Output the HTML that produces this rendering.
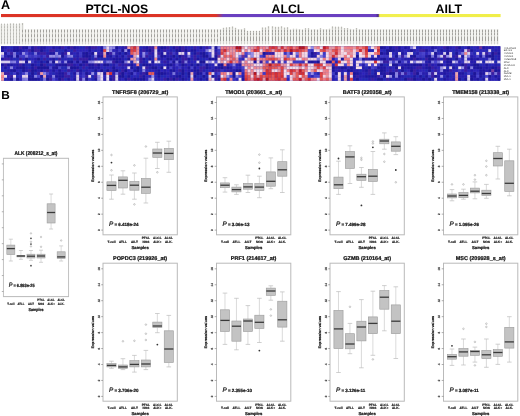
<!DOCTYPE html>
<html><head><meta charset="utf-8"><title>Figure</title>
<style>html,body{margin:0;padding:0;background:#fff;}body{width:520px;height:416px;overflow:hidden;}svg{display:block;font-family:"Liberation Sans", sans-serif;will-change:transform;text-rendering:geometricPrecision;filter:blur(0.3px);}</style>
</head><body>
<svg width="520" height="416" viewBox="0 0 520 416">
<defs><filter id="hb" x="-2%" y="-10%" width="104%" height="120%"><feGaussianBlur stdDeviation="0.35"/></filter></defs>
<rect width="520" height="416" fill="#ffffff"/>
<text x="1.0" y="8.8" font-size="12.6" font-weight="bold" fill="#000">A</text>
<defs><linearGradient id="lg" x1="0" x2="1" y1="0" y2="0"><stop offset="0" stop-color="#dc3426"/><stop offset="0.43" stop-color="#dc3426"/><stop offset="0.445" stop-color="#6a40c0"/><stop offset="0.75" stop-color="#6a40c0"/><stop offset="0.755" stop-color="#4a2a80"/><stop offset="0.758" stop-color="#f2f050"/><stop offset="1" stop-color="#f0ee48"/></linearGradient></defs>
<rect x="1" y="14" width="499.6" height="3.1" fill="url(#lg)"/>
<text x="85.4" y="13.4" font-size="12.3" font-weight="bold" fill="#000">PTCL-NOS</text>
<text x="271.5" y="13.4" font-size="12.3" font-weight="bold" fill="#000">ALCL</text>
<text x="435.6" y="13.4" font-size="12.3" font-weight="bold" fill="#000">AILT</text>
<path d="M1.50 24.30V44.3M4.50 24.30V44.3M7.50 24.30V44.3M10.50 23.50V44.3M13.50 23.50V44.3M16.50 24.30V44.3M19.50 23.50V44.3M22.50 23.00V44.3M25.50 29.30V44.3M28.50 29.30V44.3M31.50 29.30V44.3M34.50 29.30V44.3M37.50 29.30V44.3M40.50 29.30V44.3M43.50 29.30V44.3M46.50 29.30V44.3M49.50 29.30V44.3M52.50 29.30V44.3M55.50 29.30V44.3M58.50 29.30V44.3M61.50 29.30V44.3M64.50 29.30V44.3M67.50 29.30V44.3M70.50 29.30V44.3M73.50 29.30V44.3M76.50 29.30V44.3M79.50 29.30V44.3M82.50 29.30V44.3M85.50 29.30V44.3M88.50 29.30V44.3M91.50 29.30V44.3M94.50 29.30V44.3M97.50 29.30V44.3M100.50 29.30V44.3M103.50 29.30V44.3M106.50 29.30V44.3M109.50 29.30V44.3M112.50 29.30V44.3M115.50 29.30V44.3M118.50 29.30V44.3M121.50 29.30V44.3M124.50 29.30V44.3M127.50 29.30V44.3M130.50 29.30V44.3M133.50 29.30V44.3M136.50 29.30V44.3M139.50 29.30V44.3M142.50 29.30V44.3M145.50 29.30V44.3M148.50 29.30V44.3M151.50 29.30V44.3M154.50 29.30V44.3M157.50 29.30V44.3M160.50 29.30V44.3M163.50 29.30V44.3M166.50 29.30V44.3M169.50 29.30V44.3M172.50 29.30V44.3M175.50 29.30V44.3M178.50 29.30V44.3M181.50 29.30V44.3M184.50 29.30V44.3M187.50 29.30V44.3M190.50 29.30V44.3M193.50 29.30V44.3M196.50 29.30V44.3M199.50 29.30V44.3M202.50 29.30V44.3M205.50 29.30V44.3M208.50 29.30V44.3M211.50 29.30V44.3M214.50 29.30V44.3M217.50 29.30V44.3M220.50 29.30V44.3M223.50 27.80V44.3M226.50 27.40V44.3M229.50 27.00V44.3M232.50 26.50V44.3M235.50 27.80V44.3M238.50 29.10V44.3M241.50 29.10V44.3M244.50 28.30V44.3M247.50 30.80V44.3M250.50 30.80V44.3M253.50 30.80V44.3M256.50 30.80V44.3M259.50 30.80V44.3M262.50 27.50V44.3M265.50 27.50V44.3M268.50 26.30V44.3M272.50 26.30V44.3M275.50 26.80V44.3M278.50 26.80V44.3M281.50 26.30V44.3M284.50 27.60V44.3M287.50 27.20V44.3M290.50 29.50V44.3M293.50 28.70V44.3M296.50 28.70V44.3M299.50 29.10V44.3M302.50 29.50V44.3M305.50 28.20V44.3M308.50 28.20V44.3M311.50 29.50V44.3M314.50 29.10V44.3M317.50 29.50V44.3M320.50 28.20V44.3M323.50 29.10V44.3M326.50 29.10V44.3M329.50 28.70V44.3M332.50 26.40V44.3M335.50 26.70V44.3M338.50 26.70V44.3M341.50 26.70V44.3M344.50 28.00V44.3M347.50 28.00V44.3M350.50 28.90V44.3M353.50 29.30V44.3M356.50 28.00V44.3M359.50 29.30V44.3M362.50 29.30V44.3M365.50 29.30V44.3M368.50 29.30V44.3M371.50 29.30V44.3M374.50 29.30V44.3M377.50 29.30V44.3M380.50 29.30V44.3M383.50 29.30V44.3M386.50 29.30V44.3M389.50 29.30V44.3M392.50 29.30V44.3M395.50 29.30V44.3M398.50 29.30V44.3M401.50 29.30V44.3M404.50 29.30V44.3M407.50 29.30V44.3M410.50 29.30V44.3M413.50 29.30V44.3M416.50 29.30V44.3M419.50 29.30V44.3M422.50 29.30V44.3M425.50 29.30V44.3M428.50 29.30V44.3M431.50 29.30V44.3M434.50 29.30V44.3M437.50 29.30V44.3M440.50 29.30V44.3M443.50 29.30V44.3M446.50 29.30V44.3M449.50 29.30V44.3M452.50 29.30V44.3M455.50 29.30V44.3M458.50 29.30V44.3M461.50 29.30V44.3M464.50 29.30V44.3M467.50 29.30V44.3M470.50 29.30V44.3M473.50 29.30V44.3M476.50 29.30V44.3M479.50 29.30V44.3M482.50 29.30V44.3M485.50 29.30V44.3M488.50 29.30V44.3M491.50 29.30V44.3M494.50 29.30V44.3M497.50 29.30V44.3" stroke="#f2f2ee" stroke-width="2.6" fill="none"/>
<path d="M1.50 24.30V44.3M4.50 24.30V44.3M7.50 24.30V44.3M10.50 23.50V44.3M13.50 23.50V44.3M16.50 24.30V44.3M19.50 23.50V44.3M22.50 23.00V44.3M25.50 29.30V44.3M28.50 29.30V44.3M31.50 29.30V44.3M34.50 29.30V44.3M37.50 29.30V44.3M40.50 29.30V44.3M43.50 29.30V44.3M46.50 29.30V44.3M49.50 29.30V44.3M52.50 29.30V44.3M55.50 29.30V44.3M58.50 29.30V44.3M61.50 29.30V44.3M64.50 29.30V44.3M67.50 29.30V44.3M70.50 29.30V44.3M73.50 29.30V44.3M76.50 29.30V44.3M79.50 29.30V44.3M82.50 29.30V44.3M85.50 29.30V44.3M88.50 29.30V44.3M91.50 29.30V44.3M94.50 29.30V44.3M97.50 29.30V44.3M100.50 29.30V44.3M103.50 29.30V44.3M106.50 29.30V44.3M109.50 29.30V44.3M112.50 29.30V44.3M115.50 29.30V44.3M118.50 29.30V44.3M121.50 29.30V44.3M124.50 29.30V44.3M127.50 29.30V44.3M130.50 29.30V44.3M133.50 29.30V44.3M136.50 29.30V44.3M139.50 29.30V44.3M142.50 29.30V44.3M145.50 29.30V44.3M148.50 29.30V44.3M151.50 29.30V44.3M154.50 29.30V44.3M157.50 29.30V44.3M160.50 29.30V44.3M163.50 29.30V44.3M166.50 29.30V44.3M169.50 29.30V44.3M172.50 29.30V44.3M175.50 29.30V44.3M178.50 29.30V44.3M181.50 29.30V44.3M184.50 29.30V44.3M187.50 29.30V44.3M190.50 29.30V44.3M193.50 29.30V44.3M196.50 29.30V44.3M199.50 29.30V44.3M202.50 29.30V44.3M205.50 29.30V44.3M208.50 29.30V44.3M211.50 29.30V44.3M214.50 29.30V44.3M217.50 29.30V44.3M220.50 29.30V44.3M223.50 27.80V44.3M226.50 27.40V44.3M229.50 27.00V44.3M232.50 26.50V44.3M235.50 27.80V44.3M238.50 29.10V44.3M241.50 29.10V44.3M244.50 28.30V44.3M247.50 30.80V44.3M250.50 30.80V44.3M253.50 30.80V44.3M256.50 30.80V44.3M259.50 30.80V44.3M262.50 27.50V44.3M265.50 27.50V44.3M268.50 26.30V44.3M272.50 26.30V44.3M275.50 26.80V44.3M278.50 26.80V44.3M281.50 26.30V44.3M284.50 27.60V44.3M287.50 27.20V44.3M290.50 29.50V44.3M293.50 28.70V44.3M296.50 28.70V44.3M299.50 29.10V44.3M302.50 29.50V44.3M305.50 28.20V44.3M308.50 28.20V44.3M311.50 29.50V44.3M314.50 29.10V44.3M317.50 29.50V44.3M320.50 28.20V44.3M323.50 29.10V44.3M326.50 29.10V44.3M329.50 28.70V44.3M332.50 26.40V44.3M335.50 26.70V44.3M338.50 26.70V44.3M341.50 26.70V44.3M344.50 28.00V44.3M347.50 28.00V44.3M350.50 28.90V44.3M353.50 29.30V44.3M356.50 28.00V44.3M359.50 29.30V44.3M362.50 29.30V44.3M365.50 29.30V44.3M368.50 29.30V44.3M371.50 29.30V44.3M374.50 29.30V44.3M377.50 29.30V44.3M380.50 29.30V44.3M383.50 29.30V44.3M386.50 29.30V44.3M389.50 29.30V44.3M392.50 29.30V44.3M395.50 29.30V44.3M398.50 29.30V44.3M401.50 29.30V44.3M404.50 29.30V44.3M407.50 29.30V44.3M410.50 29.30V44.3M413.50 29.30V44.3M416.50 29.30V44.3M419.50 29.30V44.3M422.50 29.30V44.3M425.50 29.30V44.3M428.50 29.30V44.3M431.50 29.30V44.3M434.50 29.30V44.3M437.50 29.30V44.3M440.50 29.30V44.3M443.50 29.30V44.3M446.50 29.30V44.3M449.50 29.30V44.3M452.50 29.30V44.3M455.50 29.30V44.3M458.50 29.30V44.3M461.50 29.30V44.3M464.50 29.30V44.3M467.50 29.30V44.3M470.50 29.30V44.3M473.50 29.30V44.3M476.50 29.30V44.3M479.50 29.30V44.3M482.50 29.30V44.3M485.50 29.30V44.3M488.50 29.30V44.3M491.50 29.30V44.3M494.50 29.30V44.3M497.50 29.30V44.3" stroke="#d2d2ce" stroke-width="1.0" fill="none"/>
<path d="M1.50 23.6V25.2M1.50 26.2V28.0M1.50 29.2V31.2M1.50 32.6V34.6M1.50 35.6V37.6M1.50 38.6V40.6M1.50 41.6V43.4M4.50 23.6V25.2M4.50 26.2V28.0M4.50 29.2V31.2M4.50 32.6V34.6M4.50 35.6V37.6M4.50 38.6V40.6M4.50 41.6V43.4M7.50 23.6V25.2M7.50 26.2V28.0M7.50 29.2V31.2M7.50 32.6V34.6M7.50 35.6V37.6M7.50 38.6V40.6M7.50 41.6V43.4M10.50 23.6V25.2M10.50 26.2V28.0M10.50 29.2V31.2M10.50 32.6V34.6M10.50 35.6V37.6M10.50 38.6V40.6M10.50 41.6V43.4M13.50 23.6V25.2M13.50 26.2V28.0M13.50 29.2V31.2M13.50 32.6V34.6M13.50 35.6V37.6M13.50 38.6V40.6M13.50 41.6V43.4M16.50 23.6V25.2M16.50 26.2V28.0M16.50 29.2V31.2M16.50 32.6V34.6M16.50 35.6V37.6M16.50 38.6V40.6M16.50 41.6V43.4M19.50 23.6V25.2M19.50 26.2V28.0M19.50 29.2V31.2M19.50 32.6V34.6M19.50 35.6V37.6M19.50 38.6V40.6M19.50 41.6V43.4M22.50 23.20V25.00M223.50 28.00V29.30M226.50 27.60V29.30M229.50 27.20V29.00M232.50 26.70V28.50M235.50 28.00V29.30M244.50 28.50V29.30M262.50 27.70V29.30M265.50 27.70V29.30M268.50 26.50V28.30M272.50 26.50V28.30M275.50 27.00V28.80M278.50 27.00V28.80M281.50 26.50V28.30M284.50 27.80V29.30M287.50 27.40V29.20M305.50 28.40V29.30M308.50 28.40V29.30M320.50 28.40V29.30M332.50 26.60V28.40M335.50 26.90V28.70M338.50 26.90V28.70M341.50 26.90V28.70M344.50 28.20V29.30M347.50 28.20V29.30M356.50 28.20V29.30" stroke="#b4b4ae" stroke-width="0.8" fill="none"/>
<path d="M22.50 29.8V32.3M22.50 34.3V37.0M22.50 38.9V41.6M25.50 29.8V32.3M25.50 34.3V37.0M25.50 38.9V41.6M28.50 29.8V32.3M28.50 34.3V37.0M28.50 38.9V41.6M31.50 29.8V32.3M31.50 34.3V37.0M31.50 38.9V41.6M34.50 29.8V32.3M34.50 34.3V37.0M34.50 38.9V41.6M37.50 29.8V32.3M37.50 34.3V37.0M37.50 38.9V41.6M40.50 29.8V32.3M40.50 34.3V37.0M40.50 38.9V41.6M43.50 29.8V32.3M43.50 34.3V37.0M43.50 38.9V41.6M46.50 29.8V32.3M46.50 34.3V37.0M46.50 38.9V41.6M49.50 29.8V32.3M49.50 34.3V37.0M49.50 38.9V41.6M52.50 29.8V32.3M52.50 34.3V37.0M52.50 38.9V41.6M55.50 29.8V32.3M55.50 34.3V37.0M55.50 38.9V41.6M58.50 29.8V32.3M58.50 34.3V37.0M58.50 38.9V41.6M61.50 29.8V32.3M61.50 34.3V37.0M61.50 38.9V41.6M64.50 29.8V32.3M64.50 34.3V37.0M64.50 38.9V41.6M67.50 29.8V32.3M67.50 34.3V37.0M67.50 38.9V41.6M70.50 29.8V32.3M70.50 34.3V37.0M70.50 38.9V41.6M73.50 29.8V32.3M73.50 34.3V37.0M73.50 38.9V41.6M76.50 29.8V32.3M76.50 34.3V37.0M76.50 38.9V41.6M79.50 29.8V32.3M79.50 34.3V37.0M79.50 38.9V41.6M82.50 29.8V32.3M82.50 34.3V37.0M82.50 38.9V41.6M85.50 29.8V32.3M85.50 34.3V37.0M85.50 38.9V41.6M88.50 29.8V32.3M88.50 34.3V37.0M88.50 38.9V41.6M91.50 29.8V32.3M91.50 34.3V37.0M91.50 38.9V41.6M94.50 29.8V32.3M94.50 34.3V37.0M94.50 38.9V41.6M97.50 29.8V32.3M97.50 34.3V37.0M97.50 38.9V41.6M100.50 29.8V32.3M100.50 34.3V37.0M100.50 38.9V41.6M103.50 29.8V32.3M103.50 34.3V37.0M103.50 38.9V41.6M106.50 29.8V32.3M106.50 34.3V37.0M106.50 38.9V41.6M109.50 29.8V32.3M109.50 34.3V37.0M109.50 38.9V41.6M112.50 29.8V32.3M112.50 34.3V37.0M112.50 38.9V41.6M115.50 29.8V32.3M115.50 34.3V37.0M115.50 38.9V41.6M118.50 29.8V32.3M118.50 34.3V37.0M118.50 38.9V41.6M121.50 29.8V32.3M121.50 34.3V37.0M121.50 38.9V41.6M124.50 29.8V32.3M124.50 34.3V37.0M124.50 38.9V41.6M127.50 29.8V32.3M127.50 34.3V37.0M127.50 38.9V41.6M130.50 29.8V32.3M130.50 34.3V37.0M130.50 38.9V41.6M133.50 29.8V32.3M133.50 34.3V37.0M133.50 38.9V41.6M136.50 29.8V32.3M136.50 34.3V37.0M136.50 38.9V41.6M139.50 29.8V32.3M139.50 34.3V37.0M139.50 38.9V41.6M142.50 29.8V32.3M142.50 34.3V37.0M142.50 38.9V41.6M145.50 29.8V32.3M145.50 34.3V37.0M145.50 38.9V41.6M148.50 29.8V32.3M148.50 34.3V37.0M148.50 38.9V41.6M151.50 29.8V32.3M151.50 34.3V37.0M151.50 38.9V41.6M154.50 29.8V32.3M154.50 34.3V37.0M154.50 38.9V41.6M157.50 29.8V32.3M157.50 34.3V37.0M157.50 38.9V41.6M160.50 29.8V32.3M160.50 34.3V37.0M160.50 38.9V41.6M163.50 29.8V32.3M163.50 34.3V37.0M163.50 38.9V41.6M166.50 29.8V32.3M166.50 34.3V37.0M166.50 38.9V41.6M169.50 29.8V32.3M169.50 34.3V37.0M169.50 38.9V41.6M172.50 29.8V32.3M172.50 34.3V37.0M172.50 38.9V41.6M175.50 29.8V32.3M175.50 34.3V37.0M175.50 38.9V41.6M178.50 29.8V32.3M178.50 34.3V37.0M178.50 38.9V41.6M181.50 29.8V32.3M181.50 34.3V37.0M181.50 38.9V41.6M184.50 29.8V32.3M184.50 34.3V37.0M184.50 38.9V41.6M187.50 29.8V32.3M187.50 34.3V37.0M187.50 38.9V41.6M190.50 29.8V32.3M190.50 34.3V37.0M190.50 38.9V41.6M193.50 29.8V32.3M193.50 34.3V37.0M193.50 38.9V41.6M196.50 29.8V32.3M196.50 34.3V37.0M196.50 38.9V41.6M199.50 29.8V32.3M199.50 34.3V37.0M199.50 38.9V41.6M202.50 29.8V32.3M202.50 34.3V37.0M202.50 38.9V41.6M205.50 29.8V32.3M205.50 34.3V37.0M205.50 38.9V41.6M208.50 29.8V32.3M208.50 34.3V37.0M208.50 38.9V41.6M211.50 29.8V32.3M211.50 34.3V37.0M211.50 38.9V41.6M214.50 29.8V32.3M214.50 34.3V37.0M214.50 38.9V41.6M217.50 29.8V32.3M217.50 34.3V37.0M217.50 38.9V41.6M220.50 29.9V32.4M220.50 33.1V35.0M220.50 36.6V41.0M223.50 29.9V32.4M223.50 33.1V35.0M223.50 36.6V41.0M226.50 29.9V32.4M226.50 33.1V35.0M226.50 36.6V41.0M229.50 29.9V32.4M229.50 33.1V35.0M229.50 36.6V41.0M232.50 29.9V32.4M232.50 33.1V35.0M232.50 36.6V41.0M235.50 29.9V32.4M235.50 33.1V35.0M235.50 36.6V41.0M238.50 29.9V32.4M238.50 33.1V35.0M238.50 36.6V41.0M241.50 29.9V32.4M241.50 33.1V35.0M241.50 36.6V41.0M244.50 29.9V32.4M244.50 33.1V35.0M244.50 36.6V41.0M247.50 31.10V32.4M247.50 33.1V35.0M247.50 36.6V41.0M250.50 31.10V32.4M250.50 33.1V35.0M250.50 36.6V41.0M253.50 31.10V32.4M253.50 33.1V35.0M253.50 36.6V41.0M256.50 31.10V32.4M256.50 33.1V35.0M256.50 36.6V41.0M259.50 31.10V32.4M259.50 33.1V35.0M259.50 36.6V41.0M262.50 29.9V32.4M262.50 33.1V35.0M262.50 36.6V41.0M265.50 29.9V32.4M265.50 33.1V35.0M265.50 36.6V41.0M268.50 29.9V32.4M268.50 33.1V35.0M268.50 36.6V41.0M272.50 29.9V32.4M272.50 33.1V35.0M272.50 36.6V41.0M275.50 29.9V32.4M275.50 33.1V35.0M275.50 36.6V41.0M278.50 29.9V32.4M278.50 33.1V35.0M278.50 36.6V41.0M281.50 29.9V32.4M281.50 33.1V35.0M281.50 36.6V41.0M284.50 29.9V32.4M284.50 33.1V35.0M284.50 36.6V41.0M287.50 29.9V32.4M287.50 33.1V35.0M287.50 36.6V41.0M290.50 29.9V32.4M290.50 33.1V35.0M290.50 36.6V41.0M293.50 29.9V32.4M293.50 33.1V35.0M293.50 36.6V41.0M296.50 29.9V32.4M296.50 33.1V35.0M296.50 36.6V41.0M299.50 29.9V32.4M299.50 33.1V35.0M299.50 36.6V41.0M302.50 29.9V32.4M302.50 33.1V35.0M302.50 36.6V41.0M305.50 29.9V32.4M305.50 33.1V35.0M305.50 36.6V41.0M308.50 29.9V32.4M308.50 33.1V35.0M308.50 36.6V41.0M311.50 29.9V32.4M311.50 33.1V35.0M311.50 36.6V41.0M314.50 29.9V32.4M314.50 33.1V35.0M314.50 36.6V41.0M317.50 29.9V32.4M317.50 33.1V35.0M317.50 36.6V41.0M320.50 29.9V32.4M320.50 33.1V35.0M320.50 36.6V41.0M323.50 29.9V32.4M323.50 33.1V35.0M323.50 36.6V41.0M326.50 29.9V32.4M326.50 33.1V35.0M326.50 36.6V41.0M329.50 29.9V32.4M329.50 33.1V35.0M329.50 36.6V41.0M332.50 29.9V32.4M332.50 33.1V35.0M332.50 36.6V41.0M335.50 29.9V32.4M335.50 33.1V35.0M335.50 36.6V41.0M338.50 29.9V32.4M338.50 33.1V35.0M338.50 36.6V41.0M341.50 29.9V32.4M341.50 33.1V35.0M341.50 36.6V41.0M344.50 29.9V32.4M344.50 33.1V35.0M344.50 36.6V41.0M347.50 29.9V32.4M347.50 33.1V35.0M347.50 36.6V41.0M350.50 29.9V32.4M350.50 33.1V35.0M350.50 36.6V41.0M353.50 29.9V32.4M353.50 33.1V35.0M353.50 36.6V41.0M356.50 29.9V32.4M356.50 33.1V35.0M356.50 36.6V41.0M359.50 29.9V32.4M359.50 33.1V35.0M359.50 36.6V41.0M362.50 29.9V32.4M362.50 33.1V35.0M362.50 36.6V41.0M365.50 29.9V32.4M365.50 33.1V35.0M365.50 36.6V41.0M368.50 29.9V32.4M368.50 33.1V35.0M368.50 36.6V41.0M371.50 29.9V32.4M371.50 33.1V35.0M371.50 36.6V41.0M374.50 29.9V32.4M374.50 33.1V35.0M374.50 36.6V41.0M377.50 29.9V32.4M377.50 33.1V35.0M377.50 36.6V41.0M380.50 29.9V32.4M380.50 33.1V35.0M380.50 36.6V41.0M383.50 29.9V32.4M383.50 33.1V35.0M383.50 36.6V41.0M386.50 29.9V32.4M386.50 33.1V35.0M386.50 36.6V41.0M389.50 29.9V32.4M389.50 33.1V35.0M389.50 36.6V41.0M392.50 29.9V32.4M392.50 33.1V35.0M392.50 36.6V41.0M395.50 29.9V32.4M395.50 33.1V35.0M395.50 36.6V41.0M398.50 29.9V32.4M398.50 33.1V35.0M398.50 36.6V41.0M401.50 29.9V32.4M401.50 33.1V35.0M401.50 36.6V41.0M404.50 29.9V32.4M404.50 33.1V35.0M404.50 36.6V41.0M407.50 29.9V32.4M407.50 33.1V35.0M407.50 36.6V41.0M410.50 29.9V32.4M410.50 33.1V35.0M410.50 36.6V41.0M413.50 29.9V32.4M413.50 33.1V35.0M413.50 36.6V41.0M416.50 29.9V32.4M416.50 33.1V35.0M416.50 36.6V41.0M419.50 29.9V32.4M419.50 33.1V35.0M419.50 36.6V41.0M422.50 29.9V32.4M422.50 33.1V35.0M422.50 36.6V41.0M425.50 29.9V32.4M425.50 33.1V35.0M425.50 36.6V41.0M428.50 29.9V32.4M428.50 33.1V35.0M428.50 36.6V41.0M431.50 29.9V32.4M431.50 33.1V35.0M431.50 36.6V41.0M434.50 29.9V32.4M434.50 33.1V35.0M434.50 36.6V41.0M437.50 29.9V32.4M437.50 33.1V35.0M437.50 36.6V41.0M440.50 29.9V32.4M440.50 33.1V35.0M440.50 36.6V41.0M443.50 29.9V32.4M443.50 33.1V35.0M443.50 36.6V41.0M446.50 29.9V32.4M446.50 33.1V35.0M446.50 36.6V41.0M449.50 29.9V32.4M449.50 33.1V35.0M449.50 36.6V41.0M452.50 29.9V32.4M452.50 33.1V35.0M452.50 36.6V41.0M455.50 29.9V32.4M455.50 33.1V35.0M455.50 36.6V41.0M458.50 29.9V32.4M458.50 33.1V35.0M458.50 36.6V41.0M461.50 29.9V32.4M461.50 33.1V35.0M461.50 36.6V41.0M464.50 29.9V32.4M464.50 33.1V35.0M464.50 36.6V41.0M467.50 29.9V32.4M467.50 33.1V35.0M467.50 36.6V41.0M470.50 29.9V32.4M470.50 33.1V35.0M470.50 36.6V41.0M473.50 29.9V32.4M473.50 33.1V35.0M473.50 36.6V41.0M476.50 29.9V32.4M476.50 33.1V35.0M476.50 36.6V41.0M479.50 29.9V32.4M479.50 33.1V35.0M479.50 36.6V41.0M482.50 29.9V32.4M482.50 33.1V35.0M482.50 36.6V41.0M485.50 29.9V32.4M485.50 33.1V35.0M485.50 36.6V41.0M488.50 29.9V32.4M488.50 33.1V35.0M488.50 36.6V41.0M491.50 29.9V32.4M491.50 33.1V35.0M491.50 36.6V41.0M494.50 29.9V32.4M494.50 33.1V35.0M494.50 36.6V41.0M497.50 29.9V32.4M497.50 33.1V35.0M497.50 36.6V41.0" stroke="#a09f9b" stroke-width="0.95" fill="none"/>
<g filter="url(#hb)">
<rect x="1.0" y="46.3" width="499.30" height="34.40" fill="#2a1e9c"/>
<rect x="1.00" y="46.30" width="3.06" height="2.92" fill="#1a1298"/>
<rect x="4.01" y="46.30" width="3.06" height="2.92" fill="#261cae"/>
<rect x="7.02" y="46.30" width="3.06" height="2.92" fill="#2c24ba"/>
<rect x="10.02" y="46.30" width="3.06" height="2.92" fill="#2226b4"/>
<rect x="13.03" y="46.30" width="3.06" height="2.92" fill="#1e16a2"/>
<rect x="16.04" y="46.30" width="3.06" height="2.92" fill="#1e16a2"/>
<rect x="19.05" y="46.30" width="3.06" height="2.92" fill="#381ca2"/>
<rect x="22.05" y="46.30" width="3.06" height="2.92" fill="#1e16a2"/>
<rect x="25.06" y="46.30" width="3.06" height="2.92" fill="#1a1298"/>
<rect x="28.07" y="46.30" width="3.06" height="2.92" fill="#4842ce"/>
<rect x="31.08" y="46.30" width="3.06" height="2.92" fill="#1e16a2"/>
<rect x="34.09" y="46.30" width="3.06" height="2.92" fill="#381ca2"/>
<rect x="37.09" y="46.30" width="3.06" height="2.92" fill="#261cae"/>
<rect x="40.10" y="46.30" width="3.06" height="2.92" fill="#1e16a2"/>
<rect x="43.11" y="46.30" width="3.06" height="2.92" fill="#1e16a2"/>
<rect x="46.12" y="46.30" width="3.06" height="2.92" fill="#2c24ba"/>
<rect x="49.13" y="46.30" width="3.06" height="2.92" fill="#2c24ba"/>
<rect x="52.13" y="46.30" width="3.06" height="2.92" fill="#1e16a2"/>
<rect x="55.14" y="46.30" width="3.06" height="2.92" fill="#261cae"/>
<rect x="58.15" y="46.30" width="3.06" height="2.92" fill="#1e16a2"/>
<rect x="61.16" y="46.30" width="3.06" height="2.92" fill="#381ca2"/>
<rect x="64.16" y="46.30" width="3.06" height="2.92" fill="#2c24ba"/>
<rect x="67.17" y="46.30" width="3.06" height="2.92" fill="#1e16a2"/>
<rect x="70.18" y="46.30" width="3.06" height="2.92" fill="#381ca2"/>
<rect x="73.19" y="46.30" width="3.06" height="2.92" fill="#1e16a2"/>
<rect x="76.20" y="46.30" width="3.06" height="2.92" fill="#261cae"/>
<rect x="79.20" y="46.30" width="3.06" height="2.92" fill="#2226b4"/>
<rect x="82.21" y="46.30" width="3.06" height="2.92" fill="#2226b4"/>
<rect x="85.22" y="46.30" width="3.06" height="2.92" fill="#381ca2"/>
<rect x="88.23" y="46.30" width="3.06" height="2.92" fill="#1e16a2"/>
<rect x="91.23" y="46.30" width="3.06" height="2.92" fill="#381ca2"/>
<rect x="94.24" y="46.30" width="3.06" height="2.92" fill="#381ca2"/>
<rect x="97.25" y="46.30" width="3.06" height="2.92" fill="#2c24ba"/>
<rect x="100.26" y="46.30" width="3.06" height="2.92" fill="#1e16a2"/>
<rect x="103.27" y="46.30" width="3.06" height="2.92" fill="#8780e1"/>
<rect x="106.27" y="46.30" width="3.06" height="2.92" fill="#e1d0eb"/>
<rect x="109.28" y="46.30" width="3.06" height="2.92" fill="#968ee6"/>
<rect x="112.29" y="46.30" width="3.06" height="2.92" fill="#8780e1"/>
<rect x="115.30" y="46.30" width="3.06" height="2.92" fill="#1a1298"/>
<rect x="118.31" y="46.30" width="3.06" height="2.92" fill="#2c24ba"/>
<rect x="121.31" y="46.30" width="3.06" height="2.92" fill="#261cae"/>
<rect x="124.32" y="46.30" width="3.06" height="2.92" fill="#381ca2"/>
<rect x="127.33" y="46.30" width="3.06" height="2.92" fill="#ee96a0"/>
<rect x="130.34" y="46.30" width="3.06" height="2.92" fill="#e65a55"/>
<rect x="133.34" y="46.30" width="3.06" height="2.92" fill="#d42d32"/>
<rect x="136.35" y="46.30" width="3.06" height="2.92" fill="#f2878c"/>
<rect x="139.36" y="46.30" width="3.06" height="2.92" fill="#2226b4"/>
<rect x="142.37" y="46.30" width="3.06" height="2.92" fill="#261cae"/>
<rect x="145.38" y="46.30" width="3.06" height="2.92" fill="#1e16a2"/>
<rect x="148.38" y="46.30" width="3.06" height="2.92" fill="#381ca2"/>
<rect x="151.39" y="46.30" width="3.06" height="2.92" fill="#381ca2"/>
<rect x="154.40" y="46.30" width="3.06" height="2.92" fill="#f2878c"/>
<rect x="157.41" y="46.30" width="3.06" height="2.92" fill="#261cae"/>
<rect x="160.42" y="46.30" width="3.06" height="2.92" fill="#1a1298"/>
<rect x="163.42" y="46.30" width="3.06" height="2.92" fill="#1e16a2"/>
<rect x="166.43" y="46.30" width="3.06" height="2.92" fill="#381ca2"/>
<rect x="169.44" y="46.30" width="3.06" height="2.92" fill="#2226b4"/>
<rect x="172.45" y="46.30" width="3.06" height="2.92" fill="#1e16a2"/>
<rect x="175.45" y="46.30" width="3.06" height="2.92" fill="#381ca2"/>
<rect x="178.46" y="46.30" width="3.06" height="2.92" fill="#1e16a2"/>
<rect x="181.47" y="46.30" width="3.06" height="2.92" fill="#381ca2"/>
<rect x="184.48" y="46.30" width="3.06" height="2.92" fill="#261cae"/>
<rect x="187.49" y="46.30" width="3.06" height="2.92" fill="#2c24ba"/>
<rect x="190.49" y="46.30" width="3.06" height="2.92" fill="#2226b4"/>
<rect x="193.50" y="46.30" width="3.06" height="2.92" fill="#381ca2"/>
<rect x="196.51" y="46.30" width="3.06" height="2.92" fill="#2c24ba"/>
<rect x="199.52" y="46.30" width="3.06" height="2.92" fill="#1a1298"/>
<rect x="202.52" y="46.30" width="3.06" height="2.92" fill="#2c24ba"/>
<rect x="205.53" y="46.30" width="3.06" height="2.92" fill="#381ca2"/>
<rect x="208.54" y="46.30" width="3.06" height="2.92" fill="#3832c0"/>
<rect x="211.55" y="46.30" width="3.06" height="2.92" fill="#d7cdee"/>
<rect x="214.56" y="46.30" width="3.06" height="2.92" fill="#1a1298"/>
<rect x="217.56" y="46.30" width="3.06" height="2.92" fill="#8780e1"/>
<rect x="220.57" y="46.30" width="3.06" height="2.92" fill="#ec848e"/>
<rect x="223.58" y="46.30" width="3.06" height="2.92" fill="#f07a80"/>
<rect x="226.59" y="46.30" width="3.06" height="2.92" fill="#ec848e"/>
<rect x="229.60" y="46.30" width="3.06" height="2.92" fill="#ec848e"/>
<rect x="232.60" y="46.30" width="3.06" height="2.92" fill="#f07a80"/>
<rect x="235.61" y="46.30" width="3.06" height="2.92" fill="#b4141e"/>
<rect x="238.62" y="46.30" width="3.06" height="2.92" fill="#b4141e"/>
<rect x="241.63" y="46.30" width="3.06" height="2.92" fill="#e696a0"/>
<rect x="244.63" y="46.30" width="3.06" height="2.92" fill="#f6dee8"/>
<rect x="247.64" y="46.30" width="3.06" height="2.92" fill="#e696a0"/>
<rect x="250.65" y="46.30" width="3.06" height="2.92" fill="#e696a0"/>
<rect x="253.66" y="46.30" width="3.06" height="2.92" fill="#f07a80"/>
<rect x="256.67" y="46.30" width="3.06" height="2.92" fill="#de4141"/>
<rect x="259.67" y="46.30" width="3.06" height="2.92" fill="#ec848e"/>
<rect x="262.68" y="46.30" width="3.06" height="2.92" fill="#f07a80"/>
<rect x="265.69" y="46.30" width="3.06" height="2.92" fill="#e696a0"/>
<rect x="268.70" y="46.30" width="3.06" height="2.92" fill="#de4141"/>
<rect x="271.70" y="46.30" width="3.06" height="2.92" fill="#d42d32"/>
<rect x="274.71" y="46.30" width="3.06" height="2.92" fill="#de4141"/>
<rect x="277.72" y="46.30" width="3.06" height="2.92" fill="#e696a0"/>
<rect x="280.73" y="46.30" width="3.06" height="2.92" fill="#d42d32"/>
<rect x="283.74" y="46.30" width="3.06" height="2.92" fill="#ec848e"/>
<rect x="286.74" y="46.30" width="3.06" height="2.92" fill="#e65a55"/>
<rect x="289.75" y="46.30" width="3.06" height="2.92" fill="#de4141"/>
<rect x="292.76" y="46.30" width="3.06" height="2.92" fill="#f07a80"/>
<rect x="295.77" y="46.30" width="3.06" height="2.92" fill="#e65a55"/>
<rect x="298.78" y="46.30" width="3.06" height="2.92" fill="#b4141e"/>
<rect x="301.78" y="46.30" width="3.06" height="2.92" fill="#b4141e"/>
<rect x="304.79" y="46.30" width="3.06" height="2.92" fill="#e65a55"/>
<rect x="307.80" y="46.30" width="3.06" height="2.92" fill="#f0d8e6"/>
<rect x="310.81" y="46.30" width="3.06" height="2.92" fill="#968ee6"/>
<rect x="313.81" y="46.30" width="3.06" height="2.92" fill="#e696a0"/>
<rect x="316.82" y="46.30" width="3.06" height="2.92" fill="#f07a80"/>
<rect x="319.83" y="46.30" width="3.06" height="2.92" fill="#f0d8e6"/>
<rect x="322.84" y="46.30" width="3.06" height="2.92" fill="#c31923"/>
<rect x="325.85" y="46.30" width="3.06" height="2.92" fill="#de4141"/>
<rect x="328.85" y="46.30" width="3.06" height="2.92" fill="#e696a0"/>
<rect x="331.86" y="46.30" width="3.06" height="2.92" fill="#e696a0"/>
<rect x="334.87" y="46.30" width="3.06" height="2.92" fill="#e65a55"/>
<rect x="337.88" y="46.30" width="3.06" height="2.92" fill="#f07a80"/>
<rect x="340.88" y="46.30" width="3.06" height="2.92" fill="#f4d0da"/>
<rect x="343.89" y="46.30" width="3.06" height="2.92" fill="#ec848e"/>
<rect x="346.90" y="46.30" width="3.06" height="2.92" fill="#f07a80"/>
<rect x="349.91" y="46.30" width="3.06" height="2.92" fill="#f07a80"/>
<rect x="352.92" y="46.30" width="3.06" height="2.92" fill="#e696a0"/>
<rect x="355.92" y="46.30" width="3.06" height="2.92" fill="#e65a55"/>
<rect x="358.93" y="46.30" width="3.06" height="2.92" fill="#f07a80"/>
<rect x="361.94" y="46.30" width="3.06" height="2.92" fill="#e65a55"/>
<rect x="364.95" y="46.30" width="3.06" height="2.92" fill="#d42d32"/>
<rect x="367.96" y="46.30" width="3.06" height="2.92" fill="#7a74dc"/>
<rect x="370.96" y="46.30" width="3.06" height="2.92" fill="#f6dee8"/>
<rect x="373.97" y="46.30" width="3.06" height="2.92" fill="#e696a0"/>
<rect x="376.98" y="46.30" width="3.06" height="2.92" fill="#e65a55"/>
<rect x="379.99" y="46.30" width="3.06" height="2.92" fill="#1a1298"/>
<rect x="382.99" y="46.30" width="3.06" height="2.92" fill="#1e16a2"/>
<rect x="386.00" y="46.30" width="3.06" height="2.92" fill="#2c24ba"/>
<rect x="389.01" y="46.30" width="3.06" height="2.92" fill="#1a1298"/>
<rect x="392.02" y="46.30" width="3.06" height="2.92" fill="#261cae"/>
<rect x="395.03" y="46.30" width="3.06" height="2.92" fill="#381ca2"/>
<rect x="398.03" y="46.30" width="3.06" height="2.92" fill="#1e16a2"/>
<rect x="401.04" y="46.30" width="3.06" height="2.92" fill="#2c24ba"/>
<rect x="404.05" y="46.30" width="3.06" height="2.92" fill="#1e16a2"/>
<rect x="407.06" y="46.30" width="3.06" height="2.92" fill="#261cae"/>
<rect x="410.07" y="46.30" width="3.06" height="2.92" fill="#7a74dc"/>
<rect x="413.07" y="46.30" width="3.06" height="2.92" fill="#e1d0eb"/>
<rect x="416.08" y="46.30" width="3.06" height="2.92" fill="#2226b4"/>
<rect x="419.09" y="46.30" width="3.06" height="2.92" fill="#261cae"/>
<rect x="422.10" y="46.30" width="3.06" height="2.92" fill="#2c24ba"/>
<rect x="425.10" y="46.30" width="3.06" height="2.92" fill="#2c24ba"/>
<rect x="428.11" y="46.30" width="3.06" height="2.92" fill="#2c24ba"/>
<rect x="431.12" y="46.30" width="3.06" height="2.92" fill="#1e16a2"/>
<rect x="434.13" y="46.30" width="3.06" height="2.92" fill="#261cae"/>
<rect x="437.14" y="46.30" width="3.06" height="2.92" fill="#2c24ba"/>
<rect x="440.14" y="46.30" width="3.06" height="2.92" fill="#2c24ba"/>
<rect x="443.15" y="46.30" width="3.06" height="2.92" fill="#381ca2"/>
<rect x="446.16" y="46.30" width="3.06" height="2.92" fill="#1a1298"/>
<rect x="449.17" y="46.30" width="3.06" height="2.92" fill="#261cae"/>
<rect x="452.17" y="46.30" width="3.06" height="2.92" fill="#2c24ba"/>
<rect x="455.18" y="46.30" width="3.06" height="2.92" fill="#381ca2"/>
<rect x="458.19" y="46.30" width="3.06" height="2.92" fill="#1a1298"/>
<rect x="461.20" y="46.30" width="3.06" height="2.92" fill="#2226b4"/>
<rect x="464.21" y="46.30" width="3.06" height="2.92" fill="#2c24ba"/>
<rect x="467.21" y="46.30" width="3.06" height="2.92" fill="#1a1298"/>
<rect x="470.22" y="46.30" width="3.06" height="2.92" fill="#2226b4"/>
<rect x="473.23" y="46.30" width="3.06" height="2.92" fill="#2c24ba"/>
<rect x="476.24" y="46.30" width="3.06" height="2.92" fill="#261cae"/>
<rect x="479.25" y="46.30" width="3.06" height="2.92" fill="#6e2d96"/>
<rect x="482.25" y="46.30" width="3.06" height="2.92" fill="#1e16a2"/>
<rect x="485.26" y="46.30" width="3.06" height="2.92" fill="#261cae"/>
<rect x="488.27" y="46.30" width="3.06" height="2.92" fill="#261cae"/>
<rect x="491.28" y="46.30" width="3.06" height="2.92" fill="#261cae"/>
<rect x="494.28" y="46.30" width="3.06" height="2.92" fill="#2226b4"/>
<rect x="497.29" y="46.30" width="3.06" height="2.92" fill="#261cae"/>
<rect x="1.00" y="49.17" width="3.06" height="2.92" fill="#1e16a2"/>
<rect x="4.01" y="49.17" width="3.06" height="2.92" fill="#2c24ba"/>
<rect x="7.02" y="49.17" width="3.06" height="2.92" fill="#381ca2"/>
<rect x="10.02" y="49.17" width="3.06" height="2.92" fill="#261cae"/>
<rect x="13.03" y="49.17" width="3.06" height="2.92" fill="#1a1298"/>
<rect x="16.04" y="49.17" width="3.06" height="2.92" fill="#1a1298"/>
<rect x="19.05" y="49.17" width="3.06" height="2.92" fill="#1e16a2"/>
<rect x="22.05" y="49.17" width="3.06" height="2.92" fill="#261cae"/>
<rect x="25.06" y="49.17" width="3.06" height="2.92" fill="#2c24ba"/>
<rect x="28.07" y="49.17" width="3.06" height="2.92" fill="#381ca2"/>
<rect x="31.08" y="49.17" width="3.06" height="2.92" fill="#1a1298"/>
<rect x="34.09" y="49.17" width="3.06" height="2.92" fill="#381ca2"/>
<rect x="37.09" y="49.17" width="3.06" height="2.92" fill="#381ca2"/>
<rect x="40.10" y="49.17" width="3.06" height="2.92" fill="#1a1298"/>
<rect x="43.11" y="49.17" width="3.06" height="2.92" fill="#261cae"/>
<rect x="46.12" y="49.17" width="3.06" height="2.92" fill="#2226b4"/>
<rect x="49.13" y="49.17" width="3.06" height="2.92" fill="#381ca2"/>
<rect x="52.13" y="49.17" width="3.06" height="2.92" fill="#381ca2"/>
<rect x="55.14" y="49.17" width="3.06" height="2.92" fill="#2226b4"/>
<rect x="58.15" y="49.17" width="3.06" height="2.92" fill="#2226b4"/>
<rect x="61.16" y="49.17" width="3.06" height="2.92" fill="#2226b4"/>
<rect x="64.16" y="49.17" width="3.06" height="2.92" fill="#1e16a2"/>
<rect x="67.17" y="49.17" width="3.06" height="2.92" fill="#2c24ba"/>
<rect x="70.18" y="49.17" width="3.06" height="2.92" fill="#2226b4"/>
<rect x="73.19" y="49.17" width="3.06" height="2.92" fill="#381ca2"/>
<rect x="76.20" y="49.17" width="3.06" height="2.92" fill="#2c24ba"/>
<rect x="79.20" y="49.17" width="3.06" height="2.92" fill="#2c24ba"/>
<rect x="82.21" y="49.17" width="3.06" height="2.92" fill="#2c24ba"/>
<rect x="85.22" y="49.17" width="3.06" height="2.92" fill="#2c24ba"/>
<rect x="88.23" y="49.17" width="3.06" height="2.92" fill="#1e16a2"/>
<rect x="91.23" y="49.17" width="3.06" height="2.92" fill="#2c24ba"/>
<rect x="94.24" y="49.17" width="3.06" height="2.92" fill="#2226b4"/>
<rect x="97.25" y="49.17" width="3.06" height="2.92" fill="#2c24ba"/>
<rect x="100.26" y="49.17" width="3.06" height="2.92" fill="#1e16a2"/>
<rect x="103.27" y="49.17" width="3.06" height="2.92" fill="#de4141"/>
<rect x="106.27" y="49.17" width="3.06" height="2.92" fill="#e1d0eb"/>
<rect x="109.28" y="49.17" width="3.06" height="2.92" fill="#8780e1"/>
<rect x="112.29" y="49.17" width="3.06" height="2.92" fill="#2c24ba"/>
<rect x="115.30" y="49.17" width="3.06" height="2.92" fill="#261cae"/>
<rect x="118.31" y="49.17" width="3.06" height="2.92" fill="#3e38c6"/>
<rect x="121.31" y="49.17" width="3.06" height="2.92" fill="#1a1298"/>
<rect x="124.32" y="49.17" width="3.06" height="2.92" fill="#968ee6"/>
<rect x="127.33" y="49.17" width="3.06" height="2.92" fill="#1e16a2"/>
<rect x="130.34" y="49.17" width="3.06" height="2.92" fill="#de4141"/>
<rect x="133.34" y="49.17" width="3.06" height="2.92" fill="#de4141"/>
<rect x="136.35" y="49.17" width="3.06" height="2.92" fill="#f2878c"/>
<rect x="139.36" y="49.17" width="3.06" height="2.92" fill="#261cae"/>
<rect x="142.37" y="49.17" width="3.06" height="2.92" fill="#381ca2"/>
<rect x="145.38" y="49.17" width="3.06" height="2.92" fill="#1e16a2"/>
<rect x="148.38" y="49.17" width="3.06" height="2.92" fill="#1a1298"/>
<rect x="151.39" y="49.17" width="3.06" height="2.92" fill="#381ca2"/>
<rect x="154.40" y="49.17" width="3.06" height="2.92" fill="#e1d0eb"/>
<rect x="157.41" y="49.17" width="3.06" height="2.92" fill="#1e16a2"/>
<rect x="160.42" y="49.17" width="3.06" height="2.92" fill="#261cae"/>
<rect x="163.42" y="49.17" width="3.06" height="2.92" fill="#381ca2"/>
<rect x="166.43" y="49.17" width="3.06" height="2.92" fill="#2c24ba"/>
<rect x="169.44" y="49.17" width="3.06" height="2.92" fill="#261cae"/>
<rect x="172.45" y="49.17" width="3.06" height="2.92" fill="#2226b4"/>
<rect x="175.45" y="49.17" width="3.06" height="2.92" fill="#1a1298"/>
<rect x="178.46" y="49.17" width="3.06" height="2.92" fill="#1a1298"/>
<rect x="181.47" y="49.17" width="3.06" height="2.92" fill="#381ca2"/>
<rect x="184.48" y="49.17" width="3.06" height="2.92" fill="#1a1298"/>
<rect x="187.49" y="49.17" width="3.06" height="2.92" fill="#2c24ba"/>
<rect x="190.49" y="49.17" width="3.06" height="2.92" fill="#1e16a2"/>
<rect x="193.50" y="49.17" width="3.06" height="2.92" fill="#1e16a2"/>
<rect x="196.51" y="49.17" width="3.06" height="2.92" fill="#2c24ba"/>
<rect x="199.52" y="49.17" width="3.06" height="2.92" fill="#2c24ba"/>
<rect x="202.52" y="49.17" width="3.06" height="2.92" fill="#2c24ba"/>
<rect x="205.53" y="49.17" width="3.06" height="2.92" fill="#7a74dc"/>
<rect x="208.54" y="49.17" width="3.06" height="2.92" fill="#d7cdee"/>
<rect x="211.55" y="49.17" width="3.06" height="2.92" fill="#e1d0eb"/>
<rect x="214.56" y="49.17" width="3.06" height="2.92" fill="#261cae"/>
<rect x="217.56" y="49.17" width="3.06" height="2.92" fill="#3e38c6"/>
<rect x="220.57" y="49.17" width="3.06" height="2.92" fill="#e65a55"/>
<rect x="223.58" y="49.17" width="3.06" height="2.92" fill="#d42d32"/>
<rect x="226.59" y="49.17" width="3.06" height="2.92" fill="#f07a80"/>
<rect x="229.60" y="49.17" width="3.06" height="2.92" fill="#e696a0"/>
<rect x="232.60" y="49.17" width="3.06" height="2.92" fill="#e696a0"/>
<rect x="235.61" y="49.17" width="3.06" height="2.92" fill="#e65a55"/>
<rect x="238.62" y="49.17" width="3.06" height="2.92" fill="#de4141"/>
<rect x="241.63" y="49.17" width="3.06" height="2.92" fill="#f6dee8"/>
<rect x="244.63" y="49.17" width="3.06" height="2.92" fill="#ec848e"/>
<rect x="247.64" y="49.17" width="3.06" height="2.92" fill="#f4d0da"/>
<rect x="250.65" y="49.17" width="3.06" height="2.92" fill="#f07a80"/>
<rect x="253.66" y="49.17" width="3.06" height="2.92" fill="#d42d32"/>
<rect x="256.67" y="49.17" width="3.06" height="2.92" fill="#de4141"/>
<rect x="259.67" y="49.17" width="3.06" height="2.92" fill="#f6dee8"/>
<rect x="262.68" y="49.17" width="3.06" height="2.92" fill="#f07a80"/>
<rect x="265.69" y="49.17" width="3.06" height="2.92" fill="#de4141"/>
<rect x="268.70" y="49.17" width="3.06" height="2.92" fill="#e65a55"/>
<rect x="271.70" y="49.17" width="3.06" height="2.92" fill="#e696a0"/>
<rect x="274.71" y="49.17" width="3.06" height="2.92" fill="#e65a55"/>
<rect x="277.72" y="49.17" width="3.06" height="2.92" fill="#de4141"/>
<rect x="280.73" y="49.17" width="3.06" height="2.92" fill="#f07a80"/>
<rect x="283.74" y="49.17" width="3.06" height="2.92" fill="#d42d32"/>
<rect x="286.74" y="49.17" width="3.06" height="2.92" fill="#e65a55"/>
<rect x="289.75" y="49.17" width="3.06" height="2.92" fill="#b4141e"/>
<rect x="292.76" y="49.17" width="3.06" height="2.92" fill="#de4141"/>
<rect x="295.77" y="49.17" width="3.06" height="2.92" fill="#d42d32"/>
<rect x="298.78" y="49.17" width="3.06" height="2.92" fill="#de4141"/>
<rect x="301.78" y="49.17" width="3.06" height="2.92" fill="#e65a55"/>
<rect x="304.79" y="49.17" width="3.06" height="2.92" fill="#f07a80"/>
<rect x="307.80" y="49.17" width="3.06" height="2.92" fill="#4842ce"/>
<rect x="310.81" y="49.17" width="3.06" height="2.92" fill="#3832c0"/>
<rect x="313.81" y="49.17" width="3.06" height="2.92" fill="#f6dee8"/>
<rect x="316.82" y="49.17" width="3.06" height="2.92" fill="#f4d0da"/>
<rect x="319.83" y="49.17" width="3.06" height="2.92" fill="#e65a55"/>
<rect x="322.84" y="49.17" width="3.06" height="2.92" fill="#de4141"/>
<rect x="325.85" y="49.17" width="3.06" height="2.92" fill="#ec848e"/>
<rect x="328.85" y="49.17" width="3.06" height="2.92" fill="#e696a0"/>
<rect x="331.86" y="49.17" width="3.06" height="2.92" fill="#e65a55"/>
<rect x="334.87" y="49.17" width="3.06" height="2.92" fill="#de4141"/>
<rect x="337.88" y="49.17" width="3.06" height="2.92" fill="#ec848e"/>
<rect x="340.88" y="49.17" width="3.06" height="2.92" fill="#f6dee8"/>
<rect x="343.89" y="49.17" width="3.06" height="2.92" fill="#e696a0"/>
<rect x="346.90" y="49.17" width="3.06" height="2.92" fill="#e696a0"/>
<rect x="349.91" y="49.17" width="3.06" height="2.92" fill="#f07a80"/>
<rect x="352.92" y="49.17" width="3.06" height="2.92" fill="#f4d0da"/>
<rect x="355.92" y="49.17" width="3.06" height="2.92" fill="#ec848e"/>
<rect x="358.93" y="49.17" width="3.06" height="2.92" fill="#d42d32"/>
<rect x="361.94" y="49.17" width="3.06" height="2.92" fill="#e696a0"/>
<rect x="364.95" y="49.17" width="3.06" height="2.92" fill="#d42d32"/>
<rect x="367.96" y="49.17" width="3.06" height="2.92" fill="#261cae"/>
<rect x="370.96" y="49.17" width="3.06" height="2.92" fill="#2226b4"/>
<rect x="373.97" y="49.17" width="3.06" height="2.92" fill="#f6dee8"/>
<rect x="376.98" y="49.17" width="3.06" height="2.92" fill="#d42d32"/>
<rect x="379.99" y="49.17" width="3.06" height="2.92" fill="#2c24ba"/>
<rect x="382.99" y="49.17" width="3.06" height="2.92" fill="#2226b4"/>
<rect x="386.00" y="49.17" width="3.06" height="2.92" fill="#1a1298"/>
<rect x="389.01" y="49.17" width="3.06" height="2.92" fill="#1a1298"/>
<rect x="392.02" y="49.17" width="3.06" height="2.92" fill="#1e16a2"/>
<rect x="395.03" y="49.17" width="3.06" height="2.92" fill="#261cae"/>
<rect x="398.03" y="49.17" width="3.06" height="2.92" fill="#1e16a2"/>
<rect x="401.04" y="49.17" width="3.06" height="2.92" fill="#261cae"/>
<rect x="404.05" y="49.17" width="3.06" height="2.92" fill="#2c24ba"/>
<rect x="407.06" y="49.17" width="3.06" height="2.92" fill="#261cae"/>
<rect x="410.07" y="49.17" width="3.06" height="2.92" fill="#1a1298"/>
<rect x="413.07" y="49.17" width="3.06" height="2.92" fill="#261cae"/>
<rect x="416.08" y="49.17" width="3.06" height="2.92" fill="#2c24ba"/>
<rect x="419.09" y="49.17" width="3.06" height="2.92" fill="#381ca2"/>
<rect x="422.10" y="49.17" width="3.06" height="2.92" fill="#381ca2"/>
<rect x="425.10" y="49.17" width="3.06" height="2.92" fill="#1e16a2"/>
<rect x="428.11" y="49.17" width="3.06" height="2.92" fill="#2c24ba"/>
<rect x="431.12" y="49.17" width="3.06" height="2.92" fill="#2226b4"/>
<rect x="434.13" y="49.17" width="3.06" height="2.92" fill="#7a74dc"/>
<rect x="437.14" y="49.17" width="3.06" height="2.92" fill="#2226b4"/>
<rect x="440.14" y="49.17" width="3.06" height="2.92" fill="#1e16a2"/>
<rect x="443.15" y="49.17" width="3.06" height="2.92" fill="#2226b4"/>
<rect x="446.16" y="49.17" width="3.06" height="2.92" fill="#1e16a2"/>
<rect x="449.17" y="49.17" width="3.06" height="2.92" fill="#2c24ba"/>
<rect x="452.17" y="49.17" width="3.06" height="2.92" fill="#2226b4"/>
<rect x="455.18" y="49.17" width="3.06" height="2.92" fill="#261cae"/>
<rect x="458.19" y="49.17" width="3.06" height="2.92" fill="#2c24ba"/>
<rect x="461.20" y="49.17" width="3.06" height="2.92" fill="#261cae"/>
<rect x="464.21" y="49.17" width="3.06" height="2.92" fill="#d7cdee"/>
<rect x="467.21" y="49.17" width="3.06" height="2.92" fill="#783ca0"/>
<rect x="470.22" y="49.17" width="3.06" height="2.92" fill="#1e16a2"/>
<rect x="473.23" y="49.17" width="3.06" height="2.92" fill="#2226b4"/>
<rect x="476.24" y="49.17" width="3.06" height="2.92" fill="#2c24ba"/>
<rect x="479.25" y="49.17" width="3.06" height="2.92" fill="#2c24ba"/>
<rect x="482.25" y="49.17" width="3.06" height="2.92" fill="#2c24ba"/>
<rect x="485.26" y="49.17" width="3.06" height="2.92" fill="#2226b4"/>
<rect x="488.27" y="49.17" width="3.06" height="2.92" fill="#e1d0eb"/>
<rect x="491.28" y="49.17" width="3.06" height="2.92" fill="#2226b4"/>
<rect x="494.28" y="49.17" width="3.06" height="2.92" fill="#261cae"/>
<rect x="497.29" y="49.17" width="3.06" height="2.92" fill="#261cae"/>
<rect x="1.00" y="52.03" width="3.06" height="2.92" fill="#e1d0eb"/>
<rect x="4.01" y="52.03" width="3.06" height="2.92" fill="#1e16a2"/>
<rect x="7.02" y="52.03" width="3.06" height="2.92" fill="#3e38c6"/>
<rect x="10.02" y="52.03" width="3.06" height="2.92" fill="#381ca2"/>
<rect x="13.03" y="52.03" width="3.06" height="2.92" fill="#7a74dc"/>
<rect x="16.04" y="52.03" width="3.06" height="2.92" fill="#2226b4"/>
<rect x="19.05" y="52.03" width="3.06" height="2.92" fill="#261cae"/>
<rect x="22.05" y="52.03" width="3.06" height="2.92" fill="#968ee6"/>
<rect x="25.06" y="52.03" width="3.06" height="2.92" fill="#4842ce"/>
<rect x="28.07" y="52.03" width="3.06" height="2.92" fill="#2c24ba"/>
<rect x="31.08" y="52.03" width="3.06" height="2.92" fill="#2226b4"/>
<rect x="34.09" y="52.03" width="3.06" height="2.92" fill="#7a74dc"/>
<rect x="37.09" y="52.03" width="3.06" height="2.92" fill="#261cae"/>
<rect x="40.10" y="52.03" width="3.06" height="2.92" fill="#381ca2"/>
<rect x="43.11" y="52.03" width="3.06" height="2.92" fill="#381ca2"/>
<rect x="46.12" y="52.03" width="3.06" height="2.92" fill="#261cae"/>
<rect x="49.13" y="52.03" width="3.06" height="2.92" fill="#1e16a2"/>
<rect x="52.13" y="52.03" width="3.06" height="2.92" fill="#1e16a2"/>
<rect x="55.14" y="52.03" width="3.06" height="2.92" fill="#968ee6"/>
<rect x="58.15" y="52.03" width="3.06" height="2.92" fill="#2226b4"/>
<rect x="61.16" y="52.03" width="3.06" height="2.92" fill="#1e16a2"/>
<rect x="64.16" y="52.03" width="3.06" height="2.92" fill="#381ca2"/>
<rect x="67.17" y="52.03" width="3.06" height="2.92" fill="#ebdef2"/>
<rect x="70.18" y="52.03" width="3.06" height="2.92" fill="#261cae"/>
<rect x="73.19" y="52.03" width="3.06" height="2.92" fill="#2c24ba"/>
<rect x="76.20" y="52.03" width="3.06" height="2.92" fill="#261cae"/>
<rect x="79.20" y="52.03" width="3.06" height="2.92" fill="#3e38c6"/>
<rect x="82.21" y="52.03" width="3.06" height="2.92" fill="#1e16a2"/>
<rect x="85.22" y="52.03" width="3.06" height="2.92" fill="#1a1298"/>
<rect x="88.23" y="52.03" width="3.06" height="2.92" fill="#261cae"/>
<rect x="91.23" y="52.03" width="3.06" height="2.92" fill="#1a1298"/>
<rect x="94.24" y="52.03" width="3.06" height="2.92" fill="#ebdef2"/>
<rect x="97.25" y="52.03" width="3.06" height="2.92" fill="#261cae"/>
<rect x="100.26" y="52.03" width="3.06" height="2.92" fill="#381ca2"/>
<rect x="103.27" y="52.03" width="3.06" height="2.92" fill="#e8a5b2"/>
<rect x="106.27" y="52.03" width="3.06" height="2.92" fill="#1a1298"/>
<rect x="109.28" y="52.03" width="3.06" height="2.92" fill="#381ca2"/>
<rect x="112.29" y="52.03" width="3.06" height="2.92" fill="#7a74dc"/>
<rect x="115.30" y="52.03" width="3.06" height="2.92" fill="#261cae"/>
<rect x="118.31" y="52.03" width="3.06" height="2.92" fill="#1e16a2"/>
<rect x="121.31" y="52.03" width="3.06" height="2.92" fill="#2226b4"/>
<rect x="124.32" y="52.03" width="3.06" height="2.92" fill="#1a1298"/>
<rect x="127.33" y="52.03" width="3.06" height="2.92" fill="#2c24ba"/>
<rect x="130.34" y="52.03" width="3.06" height="2.92" fill="#e65a55"/>
<rect x="133.34" y="52.03" width="3.06" height="2.92" fill="#f2878c"/>
<rect x="136.35" y="52.03" width="3.06" height="2.92" fill="#f2878c"/>
<rect x="139.36" y="52.03" width="3.06" height="2.92" fill="#2c24ba"/>
<rect x="142.37" y="52.03" width="3.06" height="2.92" fill="#968ee6"/>
<rect x="145.38" y="52.03" width="3.06" height="2.92" fill="#3e38c6"/>
<rect x="148.38" y="52.03" width="3.06" height="2.92" fill="#381ca2"/>
<rect x="151.39" y="52.03" width="3.06" height="2.92" fill="#261cae"/>
<rect x="154.40" y="52.03" width="3.06" height="2.92" fill="#ebdef2"/>
<rect x="157.41" y="52.03" width="3.06" height="2.92" fill="#381ca2"/>
<rect x="160.42" y="52.03" width="3.06" height="2.92" fill="#1e16a2"/>
<rect x="163.42" y="52.03" width="3.06" height="2.92" fill="#d7cdee"/>
<rect x="166.43" y="52.03" width="3.06" height="2.92" fill="#261cae"/>
<rect x="169.44" y="52.03" width="3.06" height="2.92" fill="#381ca2"/>
<rect x="172.45" y="52.03" width="3.06" height="2.92" fill="#3e38c6"/>
<rect x="175.45" y="52.03" width="3.06" height="2.92" fill="#261cae"/>
<rect x="178.46" y="52.03" width="3.06" height="2.92" fill="#e1d0eb"/>
<rect x="181.47" y="52.03" width="3.06" height="2.92" fill="#e1d0eb"/>
<rect x="184.48" y="52.03" width="3.06" height="2.92" fill="#2c24ba"/>
<rect x="187.49" y="52.03" width="3.06" height="2.92" fill="#ebdef2"/>
<rect x="190.49" y="52.03" width="3.06" height="2.92" fill="#2226b4"/>
<rect x="193.50" y="52.03" width="3.06" height="2.92" fill="#1e16a2"/>
<rect x="196.51" y="52.03" width="3.06" height="2.92" fill="#381ca2"/>
<rect x="199.52" y="52.03" width="3.06" height="2.92" fill="#1e16a2"/>
<rect x="202.52" y="52.03" width="3.06" height="2.92" fill="#1a1298"/>
<rect x="205.53" y="52.03" width="3.06" height="2.92" fill="#2226b4"/>
<rect x="208.54" y="52.03" width="3.06" height="2.92" fill="#4842ce"/>
<rect x="211.55" y="52.03" width="3.06" height="2.92" fill="#ebdef2"/>
<rect x="214.56" y="52.03" width="3.06" height="2.92" fill="#381ca2"/>
<rect x="217.56" y="52.03" width="3.06" height="2.92" fill="#3832c0"/>
<rect x="220.57" y="52.03" width="3.06" height="2.92" fill="#de4141"/>
<rect x="223.58" y="52.03" width="3.06" height="2.92" fill="#f07a80"/>
<rect x="226.59" y="52.03" width="3.06" height="2.92" fill="#f4d0da"/>
<rect x="229.60" y="52.03" width="3.06" height="2.92" fill="#ec848e"/>
<rect x="232.60" y="52.03" width="3.06" height="2.92" fill="#ec848e"/>
<rect x="235.61" y="52.03" width="3.06" height="2.92" fill="#f0d8e6"/>
<rect x="238.62" y="52.03" width="3.06" height="2.92" fill="#f4d0da"/>
<rect x="241.63" y="52.03" width="3.06" height="2.92" fill="#ec848e"/>
<rect x="244.63" y="52.03" width="3.06" height="2.92" fill="#4842ce"/>
<rect x="247.64" y="52.03" width="3.06" height="2.92" fill="#7a74dc"/>
<rect x="250.65" y="52.03" width="3.06" height="2.92" fill="#968ee6"/>
<rect x="253.66" y="52.03" width="3.06" height="2.92" fill="#f4d0da"/>
<rect x="256.67" y="52.03" width="3.06" height="2.92" fill="#f4d0da"/>
<rect x="259.67" y="52.03" width="3.06" height="2.92" fill="#e696a0"/>
<rect x="262.68" y="52.03" width="3.06" height="2.92" fill="#1a1298"/>
<rect x="265.69" y="52.03" width="3.06" height="2.92" fill="#381ca2"/>
<rect x="268.70" y="52.03" width="3.06" height="2.92" fill="#381ca2"/>
<rect x="271.70" y="52.03" width="3.06" height="2.92" fill="#381ca2"/>
<rect x="274.71" y="52.03" width="3.06" height="2.92" fill="#f6dee8"/>
<rect x="277.72" y="52.03" width="3.06" height="2.92" fill="#f4d0da"/>
<rect x="280.73" y="52.03" width="3.06" height="2.92" fill="#f6dee8"/>
<rect x="283.74" y="52.03" width="3.06" height="2.92" fill="#3832c0"/>
<rect x="286.74" y="52.03" width="3.06" height="2.92" fill="#7a74dc"/>
<rect x="289.75" y="52.03" width="3.06" height="2.92" fill="#381ca2"/>
<rect x="292.76" y="52.03" width="3.06" height="2.92" fill="#f6dee8"/>
<rect x="295.77" y="52.03" width="3.06" height="2.92" fill="#7a74dc"/>
<rect x="298.78" y="52.03" width="3.06" height="2.92" fill="#f07a80"/>
<rect x="301.78" y="52.03" width="3.06" height="2.92" fill="#f4d0da"/>
<rect x="304.79" y="52.03" width="3.06" height="2.92" fill="#f6dee8"/>
<rect x="307.80" y="52.03" width="3.06" height="2.92" fill="#4842ce"/>
<rect x="310.81" y="52.03" width="3.06" height="2.92" fill="#1a1298"/>
<rect x="313.81" y="52.03" width="3.06" height="2.92" fill="#381ca2"/>
<rect x="316.82" y="52.03" width="3.06" height="2.92" fill="#3e38c6"/>
<rect x="319.83" y="52.03" width="3.06" height="2.92" fill="#f0d8e6"/>
<rect x="322.84" y="52.03" width="3.06" height="2.92" fill="#3e38c6"/>
<rect x="325.85" y="52.03" width="3.06" height="2.92" fill="#f0d8e6"/>
<rect x="328.85" y="52.03" width="3.06" height="2.92" fill="#ec848e"/>
<rect x="331.86" y="52.03" width="3.06" height="2.92" fill="#e696a0"/>
<rect x="334.87" y="52.03" width="3.06" height="2.92" fill="#d42d32"/>
<rect x="337.88" y="52.03" width="3.06" height="2.92" fill="#e696a0"/>
<rect x="340.88" y="52.03" width="3.06" height="2.92" fill="#f4d0da"/>
<rect x="343.89" y="52.03" width="3.06" height="2.92" fill="#f6dee8"/>
<rect x="346.90" y="52.03" width="3.06" height="2.92" fill="#ec848e"/>
<rect x="349.91" y="52.03" width="3.06" height="2.92" fill="#e696a0"/>
<rect x="352.92" y="52.03" width="3.06" height="2.92" fill="#f4d0da"/>
<rect x="355.92" y="52.03" width="3.06" height="2.92" fill="#3e38c6"/>
<rect x="358.93" y="52.03" width="3.06" height="2.92" fill="#f6dee8"/>
<rect x="361.94" y="52.03" width="3.06" height="2.92" fill="#e696a0"/>
<rect x="364.95" y="52.03" width="3.06" height="2.92" fill="#de4141"/>
<rect x="367.96" y="52.03" width="3.06" height="2.92" fill="#f4d0da"/>
<rect x="370.96" y="52.03" width="3.06" height="2.92" fill="#f6dee8"/>
<rect x="373.97" y="52.03" width="3.06" height="2.92" fill="#f07a80"/>
<rect x="376.98" y="52.03" width="3.06" height="2.92" fill="#e65a55"/>
<rect x="379.99" y="52.03" width="3.06" height="2.92" fill="#1a1298"/>
<rect x="382.99" y="52.03" width="3.06" height="2.92" fill="#261cae"/>
<rect x="386.00" y="52.03" width="3.06" height="2.92" fill="#1a1298"/>
<rect x="389.01" y="52.03" width="3.06" height="2.92" fill="#e1d0eb"/>
<rect x="392.02" y="52.03" width="3.06" height="2.92" fill="#2c24ba"/>
<rect x="395.03" y="52.03" width="3.06" height="2.92" fill="#261cae"/>
<rect x="398.03" y="52.03" width="3.06" height="2.92" fill="#ebdef2"/>
<rect x="401.04" y="52.03" width="3.06" height="2.92" fill="#1e16a2"/>
<rect x="404.05" y="52.03" width="3.06" height="2.92" fill="#2c24ba"/>
<rect x="407.06" y="52.03" width="3.06" height="2.92" fill="#d7cdee"/>
<rect x="410.07" y="52.03" width="3.06" height="2.92" fill="#e1d0eb"/>
<rect x="413.07" y="52.03" width="3.06" height="2.92" fill="#2226b4"/>
<rect x="416.08" y="52.03" width="3.06" height="2.92" fill="#261cae"/>
<rect x="419.09" y="52.03" width="3.06" height="2.92" fill="#3e38c6"/>
<rect x="422.10" y="52.03" width="3.06" height="2.92" fill="#4842ce"/>
<rect x="425.10" y="52.03" width="3.06" height="2.92" fill="#2c24ba"/>
<rect x="428.11" y="52.03" width="3.06" height="2.92" fill="#4842ce"/>
<rect x="431.12" y="52.03" width="3.06" height="2.92" fill="#d7cdee"/>
<rect x="434.13" y="52.03" width="3.06" height="2.92" fill="#1a1298"/>
<rect x="437.14" y="52.03" width="3.06" height="2.92" fill="#2c24ba"/>
<rect x="440.14" y="52.03" width="3.06" height="2.92" fill="#261cae"/>
<rect x="443.15" y="52.03" width="3.06" height="2.92" fill="#d7cdee"/>
<rect x="446.16" y="52.03" width="3.06" height="2.92" fill="#1a1298"/>
<rect x="449.17" y="52.03" width="3.06" height="2.92" fill="#e1d0eb"/>
<rect x="452.17" y="52.03" width="3.06" height="2.92" fill="#2226b4"/>
<rect x="455.18" y="52.03" width="3.06" height="2.92" fill="#1a1298"/>
<rect x="458.19" y="52.03" width="3.06" height="2.92" fill="#3e38c6"/>
<rect x="461.20" y="52.03" width="3.06" height="2.92" fill="#7a74dc"/>
<rect x="464.21" y="52.03" width="3.06" height="2.92" fill="#f2878c"/>
<rect x="467.21" y="52.03" width="3.06" height="2.92" fill="#d7cdee"/>
<rect x="470.22" y="52.03" width="3.06" height="2.92" fill="#3832c0"/>
<rect x="473.23" y="52.03" width="3.06" height="2.92" fill="#2226b4"/>
<rect x="476.24" y="52.03" width="3.06" height="2.92" fill="#e1d0eb"/>
<rect x="479.25" y="52.03" width="3.06" height="2.92" fill="#2c24ba"/>
<rect x="482.25" y="52.03" width="3.06" height="2.92" fill="#d7cdee"/>
<rect x="485.26" y="52.03" width="3.06" height="2.92" fill="#381ca2"/>
<rect x="488.27" y="52.03" width="3.06" height="2.92" fill="#4842ce"/>
<rect x="491.28" y="52.03" width="3.06" height="2.92" fill="#1a1298"/>
<rect x="494.28" y="52.03" width="3.06" height="2.92" fill="#381ca2"/>
<rect x="497.29" y="52.03" width="3.06" height="2.92" fill="#1e16a2"/>
<rect x="1.00" y="54.90" width="3.06" height="2.92" fill="#8780e1"/>
<rect x="4.01" y="54.90" width="3.06" height="2.92" fill="#261cae"/>
<rect x="7.02" y="54.90" width="3.06" height="2.92" fill="#1e16a2"/>
<rect x="10.02" y="54.90" width="3.06" height="2.92" fill="#1e16a2"/>
<rect x="13.03" y="54.90" width="3.06" height="2.92" fill="#7a74dc"/>
<rect x="16.04" y="54.90" width="3.06" height="2.92" fill="#1a1298"/>
<rect x="19.05" y="54.90" width="3.06" height="2.92" fill="#3e38c6"/>
<rect x="22.05" y="54.90" width="3.06" height="2.92" fill="#3e38c6"/>
<rect x="25.06" y="54.90" width="3.06" height="2.92" fill="#7a74dc"/>
<rect x="28.07" y="54.90" width="3.06" height="2.92" fill="#3e38c6"/>
<rect x="31.08" y="54.90" width="3.06" height="2.92" fill="#3832c0"/>
<rect x="34.09" y="54.90" width="3.06" height="2.92" fill="#4842ce"/>
<rect x="37.09" y="54.90" width="3.06" height="2.92" fill="#3832c0"/>
<rect x="40.10" y="54.90" width="3.06" height="2.92" fill="#2c24ba"/>
<rect x="43.11" y="54.90" width="3.06" height="2.92" fill="#3e38c6"/>
<rect x="46.12" y="54.90" width="3.06" height="2.92" fill="#381ca2"/>
<rect x="49.13" y="54.90" width="3.06" height="2.92" fill="#968ee6"/>
<rect x="52.13" y="54.90" width="3.06" height="2.92" fill="#968ee6"/>
<rect x="55.14" y="54.90" width="3.06" height="2.92" fill="#7a74dc"/>
<rect x="58.15" y="54.90" width="3.06" height="2.92" fill="#968ee6"/>
<rect x="61.16" y="54.90" width="3.06" height="2.92" fill="#1a1298"/>
<rect x="64.16" y="54.90" width="3.06" height="2.92" fill="#3e38c6"/>
<rect x="67.17" y="54.90" width="3.06" height="2.92" fill="#7a74dc"/>
<rect x="70.18" y="54.90" width="3.06" height="2.92" fill="#8780e1"/>
<rect x="73.19" y="54.90" width="3.06" height="2.92" fill="#2226b4"/>
<rect x="76.20" y="54.90" width="3.06" height="2.92" fill="#261cae"/>
<rect x="79.20" y="54.90" width="3.06" height="2.92" fill="#3832c0"/>
<rect x="82.21" y="54.90" width="3.06" height="2.92" fill="#1e16a2"/>
<rect x="85.22" y="54.90" width="3.06" height="2.92" fill="#1a1298"/>
<rect x="88.23" y="54.90" width="3.06" height="2.92" fill="#1e16a2"/>
<rect x="91.23" y="54.90" width="3.06" height="2.92" fill="#2226b4"/>
<rect x="94.24" y="54.90" width="3.06" height="2.92" fill="#8780e1"/>
<rect x="97.25" y="54.90" width="3.06" height="2.92" fill="#1a1298"/>
<rect x="100.26" y="54.90" width="3.06" height="2.92" fill="#1e16a2"/>
<rect x="103.27" y="54.90" width="3.06" height="2.92" fill="#f2878c"/>
<rect x="106.27" y="54.90" width="3.06" height="2.92" fill="#261cae"/>
<rect x="109.28" y="54.90" width="3.06" height="2.92" fill="#1e16a2"/>
<rect x="112.29" y="54.90" width="3.06" height="2.92" fill="#3832c0"/>
<rect x="115.30" y="54.90" width="3.06" height="2.92" fill="#1e16a2"/>
<rect x="118.31" y="54.90" width="3.06" height="2.92" fill="#2c24ba"/>
<rect x="121.31" y="54.90" width="3.06" height="2.92" fill="#1e16a2"/>
<rect x="124.32" y="54.90" width="3.06" height="2.92" fill="#3832c0"/>
<rect x="127.33" y="54.90" width="3.06" height="2.92" fill="#381ca2"/>
<rect x="130.34" y="54.90" width="3.06" height="2.92" fill="#2c24ba"/>
<rect x="133.34" y="54.90" width="3.06" height="2.92" fill="#e8a5b2"/>
<rect x="136.35" y="54.90" width="3.06" height="2.92" fill="#ebdef2"/>
<rect x="139.36" y="54.90" width="3.06" height="2.92" fill="#261cae"/>
<rect x="142.37" y="54.90" width="3.06" height="2.92" fill="#8780e1"/>
<rect x="145.38" y="54.90" width="3.06" height="2.92" fill="#381ca2"/>
<rect x="148.38" y="54.90" width="3.06" height="2.92" fill="#2226b4"/>
<rect x="151.39" y="54.90" width="3.06" height="2.92" fill="#261cae"/>
<rect x="154.40" y="54.90" width="3.06" height="2.92" fill="#e1d0eb"/>
<rect x="157.41" y="54.90" width="3.06" height="2.92" fill="#3e38c6"/>
<rect x="160.42" y="54.90" width="3.06" height="2.92" fill="#1a1298"/>
<rect x="163.42" y="54.90" width="3.06" height="2.92" fill="#1e16a2"/>
<rect x="166.43" y="54.90" width="3.06" height="2.92" fill="#261cae"/>
<rect x="169.44" y="54.90" width="3.06" height="2.92" fill="#261cae"/>
<rect x="172.45" y="54.90" width="3.06" height="2.92" fill="#1a1298"/>
<rect x="175.45" y="54.90" width="3.06" height="2.92" fill="#2226b4"/>
<rect x="178.46" y="54.90" width="3.06" height="2.92" fill="#1a1298"/>
<rect x="181.47" y="54.90" width="3.06" height="2.92" fill="#381ca2"/>
<rect x="184.48" y="54.90" width="3.06" height="2.92" fill="#261cae"/>
<rect x="187.49" y="54.90" width="3.06" height="2.92" fill="#7a74dc"/>
<rect x="190.49" y="54.90" width="3.06" height="2.92" fill="#2c24ba"/>
<rect x="193.50" y="54.90" width="3.06" height="2.92" fill="#381ca2"/>
<rect x="196.51" y="54.90" width="3.06" height="2.92" fill="#2226b4"/>
<rect x="199.52" y="54.90" width="3.06" height="2.92" fill="#261cae"/>
<rect x="202.52" y="54.90" width="3.06" height="2.92" fill="#1a1298"/>
<rect x="205.53" y="54.90" width="3.06" height="2.92" fill="#1a1298"/>
<rect x="208.54" y="54.90" width="3.06" height="2.92" fill="#3e38c6"/>
<rect x="211.55" y="54.90" width="3.06" height="2.92" fill="#d7cdee"/>
<rect x="214.56" y="54.90" width="3.06" height="2.92" fill="#1e16a2"/>
<rect x="217.56" y="54.90" width="3.06" height="2.92" fill="#6e2d96"/>
<rect x="220.57" y="54.90" width="3.06" height="2.92" fill="#f4d0da"/>
<rect x="223.58" y="54.90" width="3.06" height="2.92" fill="#e65a55"/>
<rect x="226.59" y="54.90" width="3.06" height="2.92" fill="#f07a80"/>
<rect x="229.60" y="54.90" width="3.06" height="2.92" fill="#e65a55"/>
<rect x="232.60" y="54.90" width="3.06" height="2.92" fill="#ec848e"/>
<rect x="235.61" y="54.90" width="3.06" height="2.92" fill="#f6dee8"/>
<rect x="238.62" y="54.90" width="3.06" height="2.92" fill="#7a74dc"/>
<rect x="241.63" y="54.90" width="3.06" height="2.92" fill="#6e2d96"/>
<rect x="244.63" y="54.90" width="3.06" height="2.92" fill="#3832c0"/>
<rect x="247.64" y="54.90" width="3.06" height="2.92" fill="#f4d0da"/>
<rect x="250.65" y="54.90" width="3.06" height="2.92" fill="#968ee6"/>
<rect x="253.66" y="54.90" width="3.06" height="2.92" fill="#f6dee8"/>
<rect x="256.67" y="54.90" width="3.06" height="2.92" fill="#f0d8e6"/>
<rect x="259.67" y="54.90" width="3.06" height="2.92" fill="#4842ce"/>
<rect x="262.68" y="54.90" width="3.06" height="2.92" fill="#2c24ba"/>
<rect x="265.69" y="54.90" width="3.06" height="2.92" fill="#f07a80"/>
<rect x="268.70" y="54.90" width="3.06" height="2.92" fill="#e696a0"/>
<rect x="271.70" y="54.90" width="3.06" height="2.92" fill="#f07a80"/>
<rect x="274.71" y="54.90" width="3.06" height="2.92" fill="#f0d8e6"/>
<rect x="277.72" y="54.90" width="3.06" height="2.92" fill="#f6dee8"/>
<rect x="280.73" y="54.90" width="3.06" height="2.92" fill="#f4d0da"/>
<rect x="283.74" y="54.90" width="3.06" height="2.92" fill="#ec848e"/>
<rect x="286.74" y="54.90" width="3.06" height="2.92" fill="#7a74dc"/>
<rect x="289.75" y="54.90" width="3.06" height="2.92" fill="#f4d0da"/>
<rect x="292.76" y="54.90" width="3.06" height="2.92" fill="#f6dee8"/>
<rect x="295.77" y="54.90" width="3.06" height="2.92" fill="#4842ce"/>
<rect x="298.78" y="54.90" width="3.06" height="2.92" fill="#f07a80"/>
<rect x="301.78" y="54.90" width="3.06" height="2.92" fill="#f4d0da"/>
<rect x="304.79" y="54.90" width="3.06" height="2.92" fill="#f0d8e6"/>
<rect x="307.80" y="54.90" width="3.06" height="2.92" fill="#3832c0"/>
<rect x="310.81" y="54.90" width="3.06" height="2.92" fill="#1e16a2"/>
<rect x="313.81" y="54.90" width="3.06" height="2.92" fill="#261cae"/>
<rect x="316.82" y="54.90" width="3.06" height="2.92" fill="#f4d0da"/>
<rect x="319.83" y="54.90" width="3.06" height="2.92" fill="#8780e1"/>
<rect x="322.84" y="54.90" width="3.06" height="2.92" fill="#4842ce"/>
<rect x="325.85" y="54.90" width="3.06" height="2.92" fill="#f6dee8"/>
<rect x="328.85" y="54.90" width="3.06" height="2.92" fill="#e696a0"/>
<rect x="331.86" y="54.90" width="3.06" height="2.92" fill="#d42d32"/>
<rect x="334.87" y="54.90" width="3.06" height="2.92" fill="#ec848e"/>
<rect x="337.88" y="54.90" width="3.06" height="2.92" fill="#f4d0da"/>
<rect x="340.88" y="54.90" width="3.06" height="2.92" fill="#f4d0da"/>
<rect x="343.89" y="54.90" width="3.06" height="2.92" fill="#f07a80"/>
<rect x="346.90" y="54.90" width="3.06" height="2.92" fill="#f0d8e6"/>
<rect x="349.91" y="54.90" width="3.06" height="2.92" fill="#f07a80"/>
<rect x="352.92" y="54.90" width="3.06" height="2.92" fill="#f6dee8"/>
<rect x="355.92" y="54.90" width="3.06" height="2.92" fill="#1a1298"/>
<rect x="358.93" y="54.90" width="3.06" height="2.92" fill="#f6dee8"/>
<rect x="361.94" y="54.90" width="3.06" height="2.92" fill="#f4d0da"/>
<rect x="364.95" y="54.90" width="3.06" height="2.92" fill="#e65a55"/>
<rect x="367.96" y="54.90" width="3.06" height="2.92" fill="#f0d8e6"/>
<rect x="370.96" y="54.90" width="3.06" height="2.92" fill="#3e38c6"/>
<rect x="373.97" y="54.90" width="3.06" height="2.92" fill="#f0d8e6"/>
<rect x="376.98" y="54.90" width="3.06" height="2.92" fill="#261cae"/>
<rect x="379.99" y="54.90" width="3.06" height="2.92" fill="#3e38c6"/>
<rect x="382.99" y="54.90" width="3.06" height="2.92" fill="#3832c0"/>
<rect x="386.00" y="54.90" width="3.06" height="2.92" fill="#3832c0"/>
<rect x="389.01" y="54.90" width="3.06" height="2.92" fill="#e1d0eb"/>
<rect x="392.02" y="54.90" width="3.06" height="2.92" fill="#3832c0"/>
<rect x="395.03" y="54.90" width="3.06" height="2.92" fill="#1a1298"/>
<rect x="398.03" y="54.90" width="3.06" height="2.92" fill="#7a74dc"/>
<rect x="401.04" y="54.90" width="3.06" height="2.92" fill="#381ca2"/>
<rect x="404.05" y="54.90" width="3.06" height="2.92" fill="#7a74dc"/>
<rect x="407.06" y="54.90" width="3.06" height="2.92" fill="#e1d0eb"/>
<rect x="410.07" y="54.90" width="3.06" height="2.92" fill="#1e16a2"/>
<rect x="413.07" y="54.90" width="3.06" height="2.92" fill="#1a1298"/>
<rect x="416.08" y="54.90" width="3.06" height="2.92" fill="#3e38c6"/>
<rect x="419.09" y="54.90" width="3.06" height="2.92" fill="#3832c0"/>
<rect x="422.10" y="54.90" width="3.06" height="2.92" fill="#3e38c6"/>
<rect x="425.10" y="54.90" width="3.06" height="2.92" fill="#1e16a2"/>
<rect x="428.11" y="54.90" width="3.06" height="2.92" fill="#1a1298"/>
<rect x="431.12" y="54.90" width="3.06" height="2.92" fill="#7a74dc"/>
<rect x="434.13" y="54.90" width="3.06" height="2.92" fill="#1e16a2"/>
<rect x="437.14" y="54.90" width="3.06" height="2.92" fill="#7a74dc"/>
<rect x="440.14" y="54.90" width="3.06" height="2.92" fill="#d7cdee"/>
<rect x="443.15" y="54.90" width="3.06" height="2.92" fill="#381ca2"/>
<rect x="446.16" y="54.90" width="3.06" height="2.92" fill="#968ee6"/>
<rect x="449.17" y="54.90" width="3.06" height="2.92" fill="#e1d0eb"/>
<rect x="452.17" y="54.90" width="3.06" height="2.92" fill="#261cae"/>
<rect x="455.18" y="54.90" width="3.06" height="2.92" fill="#381ca2"/>
<rect x="458.19" y="54.90" width="3.06" height="2.92" fill="#e1d0eb"/>
<rect x="461.20" y="54.90" width="3.06" height="2.92" fill="#1e16a2"/>
<rect x="464.21" y="54.90" width="3.06" height="2.92" fill="#d7cdee"/>
<rect x="467.21" y="54.90" width="3.06" height="2.92" fill="#8780e1"/>
<rect x="470.22" y="54.90" width="3.06" height="2.92" fill="#261cae"/>
<rect x="473.23" y="54.90" width="3.06" height="2.92" fill="#2c24ba"/>
<rect x="476.24" y="54.90" width="3.06" height="2.92" fill="#4842ce"/>
<rect x="479.25" y="54.90" width="3.06" height="2.92" fill="#1e16a2"/>
<rect x="482.25" y="54.90" width="3.06" height="2.92" fill="#7a74dc"/>
<rect x="485.26" y="54.90" width="3.06" height="2.92" fill="#1e16a2"/>
<rect x="488.27" y="54.90" width="3.06" height="2.92" fill="#1a1298"/>
<rect x="491.28" y="54.90" width="3.06" height="2.92" fill="#1a1298"/>
<rect x="494.28" y="54.90" width="3.06" height="2.92" fill="#2226b4"/>
<rect x="497.29" y="54.90" width="3.06" height="2.92" fill="#261cae"/>
<rect x="1.00" y="57.77" width="3.06" height="2.92" fill="#1e16a2"/>
<rect x="4.01" y="57.77" width="3.06" height="2.92" fill="#381ca2"/>
<rect x="7.02" y="57.77" width="3.06" height="2.92" fill="#381ca2"/>
<rect x="10.02" y="57.77" width="3.06" height="2.92" fill="#261cae"/>
<rect x="13.03" y="57.77" width="3.06" height="2.92" fill="#2226b4"/>
<rect x="16.04" y="57.77" width="3.06" height="2.92" fill="#2226b4"/>
<rect x="19.05" y="57.77" width="3.06" height="2.92" fill="#381ca2"/>
<rect x="22.05" y="57.77" width="3.06" height="2.92" fill="#2c24ba"/>
<rect x="25.06" y="57.77" width="3.06" height="2.92" fill="#1a1298"/>
<rect x="28.07" y="57.77" width="3.06" height="2.92" fill="#2226b4"/>
<rect x="31.08" y="57.77" width="3.06" height="2.92" fill="#2c24ba"/>
<rect x="34.09" y="57.77" width="3.06" height="2.92" fill="#261cae"/>
<rect x="37.09" y="57.77" width="3.06" height="2.92" fill="#1a1298"/>
<rect x="40.10" y="57.77" width="3.06" height="2.92" fill="#2226b4"/>
<rect x="43.11" y="57.77" width="3.06" height="2.92" fill="#381ca2"/>
<rect x="46.12" y="57.77" width="3.06" height="2.92" fill="#2226b4"/>
<rect x="49.13" y="57.77" width="3.06" height="2.92" fill="#261cae"/>
<rect x="52.13" y="57.77" width="3.06" height="2.92" fill="#1e16a2"/>
<rect x="55.14" y="57.77" width="3.06" height="2.92" fill="#2226b4"/>
<rect x="58.15" y="57.77" width="3.06" height="2.92" fill="#381ca2"/>
<rect x="61.16" y="57.77" width="3.06" height="2.92" fill="#2226b4"/>
<rect x="64.16" y="57.77" width="3.06" height="2.92" fill="#2c24ba"/>
<rect x="67.17" y="57.77" width="3.06" height="2.92" fill="#2226b4"/>
<rect x="70.18" y="57.77" width="3.06" height="2.92" fill="#2226b4"/>
<rect x="73.19" y="57.77" width="3.06" height="2.92" fill="#381ca2"/>
<rect x="76.20" y="57.77" width="3.06" height="2.92" fill="#261cae"/>
<rect x="79.20" y="57.77" width="3.06" height="2.92" fill="#381ca2"/>
<rect x="82.21" y="57.77" width="3.06" height="2.92" fill="#381ca2"/>
<rect x="85.22" y="57.77" width="3.06" height="2.92" fill="#381ca2"/>
<rect x="88.23" y="57.77" width="3.06" height="2.92" fill="#1e16a2"/>
<rect x="91.23" y="57.77" width="3.06" height="2.92" fill="#2226b4"/>
<rect x="94.24" y="57.77" width="3.06" height="2.92" fill="#381ca2"/>
<rect x="97.25" y="57.77" width="3.06" height="2.92" fill="#2226b4"/>
<rect x="100.26" y="57.77" width="3.06" height="2.92" fill="#2226b4"/>
<rect x="103.27" y="57.77" width="3.06" height="2.92" fill="#2226b4"/>
<rect x="106.27" y="57.77" width="3.06" height="2.92" fill="#2226b4"/>
<rect x="109.28" y="57.77" width="3.06" height="2.92" fill="#261cae"/>
<rect x="112.29" y="57.77" width="3.06" height="2.92" fill="#1e16a2"/>
<rect x="115.30" y="57.77" width="3.06" height="2.92" fill="#1e16a2"/>
<rect x="118.31" y="57.77" width="3.06" height="2.92" fill="#1e16a2"/>
<rect x="121.31" y="57.77" width="3.06" height="2.92" fill="#261cae"/>
<rect x="124.32" y="57.77" width="3.06" height="2.92" fill="#2226b4"/>
<rect x="127.33" y="57.77" width="3.06" height="2.92" fill="#1a1298"/>
<rect x="130.34" y="57.77" width="3.06" height="2.92" fill="#ee96a0"/>
<rect x="133.34" y="57.77" width="3.06" height="2.92" fill="#e8a5b2"/>
<rect x="136.35" y="57.77" width="3.06" height="2.92" fill="#7a74dc"/>
<rect x="139.36" y="57.77" width="3.06" height="2.92" fill="#381ca2"/>
<rect x="142.37" y="57.77" width="3.06" height="2.92" fill="#1e16a2"/>
<rect x="145.38" y="57.77" width="3.06" height="2.92" fill="#2226b4"/>
<rect x="148.38" y="57.77" width="3.06" height="2.92" fill="#1e16a2"/>
<rect x="151.39" y="57.77" width="3.06" height="2.92" fill="#2226b4"/>
<rect x="154.40" y="57.77" width="3.06" height="2.92" fill="#f2878c"/>
<rect x="157.41" y="57.77" width="3.06" height="2.92" fill="#2226b4"/>
<rect x="160.42" y="57.77" width="3.06" height="2.92" fill="#261cae"/>
<rect x="163.42" y="57.77" width="3.06" height="2.92" fill="#2c24ba"/>
<rect x="166.43" y="57.77" width="3.06" height="2.92" fill="#1a1298"/>
<rect x="169.44" y="57.77" width="3.06" height="2.92" fill="#1e16a2"/>
<rect x="172.45" y="57.77" width="3.06" height="2.92" fill="#2c24ba"/>
<rect x="175.45" y="57.77" width="3.06" height="2.92" fill="#1e16a2"/>
<rect x="178.46" y="57.77" width="3.06" height="2.92" fill="#2226b4"/>
<rect x="181.47" y="57.77" width="3.06" height="2.92" fill="#381ca2"/>
<rect x="184.48" y="57.77" width="3.06" height="2.92" fill="#381ca2"/>
<rect x="187.49" y="57.77" width="3.06" height="2.92" fill="#1e16a2"/>
<rect x="190.49" y="57.77" width="3.06" height="2.92" fill="#2226b4"/>
<rect x="193.50" y="57.77" width="3.06" height="2.92" fill="#381ca2"/>
<rect x="196.51" y="57.77" width="3.06" height="2.92" fill="#1e16a2"/>
<rect x="199.52" y="57.77" width="3.06" height="2.92" fill="#2226b4"/>
<rect x="202.52" y="57.77" width="3.06" height="2.92" fill="#2226b4"/>
<rect x="205.53" y="57.77" width="3.06" height="2.92" fill="#2c24ba"/>
<rect x="208.54" y="57.77" width="3.06" height="2.92" fill="#1a1298"/>
<rect x="211.55" y="57.77" width="3.06" height="2.92" fill="#1e16a2"/>
<rect x="214.56" y="57.77" width="3.06" height="2.92" fill="#1a1298"/>
<rect x="217.56" y="57.77" width="3.06" height="2.92" fill="#f4d0da"/>
<rect x="220.57" y="57.77" width="3.06" height="2.92" fill="#f07a80"/>
<rect x="223.58" y="57.77" width="3.06" height="2.92" fill="#ec848e"/>
<rect x="226.59" y="57.77" width="3.06" height="2.92" fill="#f4d0da"/>
<rect x="229.60" y="57.77" width="3.06" height="2.92" fill="#f07a80"/>
<rect x="232.60" y="57.77" width="3.06" height="2.92" fill="#e65a55"/>
<rect x="235.61" y="57.77" width="3.06" height="2.92" fill="#e696a0"/>
<rect x="238.62" y="57.77" width="3.06" height="2.92" fill="#3832c0"/>
<rect x="241.63" y="57.77" width="3.06" height="2.92" fill="#2c24ba"/>
<rect x="244.63" y="57.77" width="3.06" height="2.92" fill="#f4d0da"/>
<rect x="247.64" y="57.77" width="3.06" height="2.92" fill="#e696a0"/>
<rect x="250.65" y="57.77" width="3.06" height="2.92" fill="#e65a55"/>
<rect x="253.66" y="57.77" width="3.06" height="2.92" fill="#b4141e"/>
<rect x="256.67" y="57.77" width="3.06" height="2.92" fill="#f4d0da"/>
<rect x="259.67" y="57.77" width="3.06" height="2.92" fill="#f07a80"/>
<rect x="262.68" y="57.77" width="3.06" height="2.92" fill="#f07a80"/>
<rect x="265.69" y="57.77" width="3.06" height="2.92" fill="#e65a55"/>
<rect x="268.70" y="57.77" width="3.06" height="2.92" fill="#de4141"/>
<rect x="271.70" y="57.77" width="3.06" height="2.92" fill="#de4141"/>
<rect x="274.71" y="57.77" width="3.06" height="2.92" fill="#e65a55"/>
<rect x="277.72" y="57.77" width="3.06" height="2.92" fill="#ec848e"/>
<rect x="280.73" y="57.77" width="3.06" height="2.92" fill="#f0d8e6"/>
<rect x="283.74" y="57.77" width="3.06" height="2.92" fill="#d42d32"/>
<rect x="286.74" y="57.77" width="3.06" height="2.92" fill="#e65a55"/>
<rect x="289.75" y="57.77" width="3.06" height="2.92" fill="#f07a80"/>
<rect x="292.76" y="57.77" width="3.06" height="2.92" fill="#e65a55"/>
<rect x="295.77" y="57.77" width="3.06" height="2.92" fill="#f0d8e6"/>
<rect x="298.78" y="57.77" width="3.06" height="2.92" fill="#f6dee8"/>
<rect x="301.78" y="57.77" width="3.06" height="2.92" fill="#f07a80"/>
<rect x="304.79" y="57.77" width="3.06" height="2.92" fill="#ec848e"/>
<rect x="307.80" y="57.77" width="3.06" height="2.92" fill="#f4d0da"/>
<rect x="310.81" y="57.77" width="3.06" height="2.92" fill="#f0d8e6"/>
<rect x="313.81" y="57.77" width="3.06" height="2.92" fill="#f4d0da"/>
<rect x="316.82" y="57.77" width="3.06" height="2.92" fill="#7a74dc"/>
<rect x="319.83" y="57.77" width="3.06" height="2.92" fill="#f0d8e6"/>
<rect x="322.84" y="57.77" width="3.06" height="2.92" fill="#f07a80"/>
<rect x="325.85" y="57.77" width="3.06" height="2.92" fill="#f4d0da"/>
<rect x="328.85" y="57.77" width="3.06" height="2.92" fill="#f07a80"/>
<rect x="331.86" y="57.77" width="3.06" height="2.92" fill="#261cae"/>
<rect x="334.87" y="57.77" width="3.06" height="2.92" fill="#4842ce"/>
<rect x="337.88" y="57.77" width="3.06" height="2.92" fill="#f0d8e6"/>
<rect x="340.88" y="57.77" width="3.06" height="2.92" fill="#1a1298"/>
<rect x="343.89" y="57.77" width="3.06" height="2.92" fill="#f07a80"/>
<rect x="346.90" y="57.77" width="3.06" height="2.92" fill="#f07a80"/>
<rect x="349.91" y="57.77" width="3.06" height="2.92" fill="#f0d8e6"/>
<rect x="352.92" y="57.77" width="3.06" height="2.92" fill="#2c24ba"/>
<rect x="355.92" y="57.77" width="3.06" height="2.92" fill="#2c24ba"/>
<rect x="358.93" y="57.77" width="3.06" height="2.92" fill="#7a74dc"/>
<rect x="361.94" y="57.77" width="3.06" height="2.92" fill="#1e16a2"/>
<rect x="364.95" y="57.77" width="3.06" height="2.92" fill="#381ca2"/>
<rect x="367.96" y="57.77" width="3.06" height="2.92" fill="#261cae"/>
<rect x="370.96" y="57.77" width="3.06" height="2.92" fill="#1a1298"/>
<rect x="373.97" y="57.77" width="3.06" height="2.92" fill="#1e16a2"/>
<rect x="376.98" y="57.77" width="3.06" height="2.92" fill="#2c24ba"/>
<rect x="379.99" y="57.77" width="3.06" height="2.92" fill="#1e16a2"/>
<rect x="382.99" y="57.77" width="3.06" height="2.92" fill="#1a1298"/>
<rect x="386.00" y="57.77" width="3.06" height="2.92" fill="#2c24ba"/>
<rect x="389.01" y="57.77" width="3.06" height="2.92" fill="#1e16a2"/>
<rect x="392.02" y="57.77" width="3.06" height="2.92" fill="#381ca2"/>
<rect x="395.03" y="57.77" width="3.06" height="2.92" fill="#2c24ba"/>
<rect x="398.03" y="57.77" width="3.06" height="2.92" fill="#3832c0"/>
<rect x="401.04" y="57.77" width="3.06" height="2.92" fill="#2c24ba"/>
<rect x="404.05" y="57.77" width="3.06" height="2.92" fill="#261cae"/>
<rect x="407.06" y="57.77" width="3.06" height="2.92" fill="#261cae"/>
<rect x="410.07" y="57.77" width="3.06" height="2.92" fill="#1e16a2"/>
<rect x="413.07" y="57.77" width="3.06" height="2.92" fill="#381ca2"/>
<rect x="416.08" y="57.77" width="3.06" height="2.92" fill="#1e16a2"/>
<rect x="419.09" y="57.77" width="3.06" height="2.92" fill="#261cae"/>
<rect x="422.10" y="57.77" width="3.06" height="2.92" fill="#2226b4"/>
<rect x="425.10" y="57.77" width="3.06" height="2.92" fill="#381ca2"/>
<rect x="428.11" y="57.77" width="3.06" height="2.92" fill="#1a1298"/>
<rect x="431.12" y="57.77" width="3.06" height="2.92" fill="#1a1298"/>
<rect x="434.13" y="57.77" width="3.06" height="2.92" fill="#261cae"/>
<rect x="437.14" y="57.77" width="3.06" height="2.92" fill="#381ca2"/>
<rect x="440.14" y="57.77" width="3.06" height="2.92" fill="#2226b4"/>
<rect x="443.15" y="57.77" width="3.06" height="2.92" fill="#381ca2"/>
<rect x="446.16" y="57.77" width="3.06" height="2.92" fill="#1a1298"/>
<rect x="449.17" y="57.77" width="3.06" height="2.92" fill="#1e16a2"/>
<rect x="452.17" y="57.77" width="3.06" height="2.92" fill="#2226b4"/>
<rect x="455.18" y="57.77" width="3.06" height="2.92" fill="#1a1298"/>
<rect x="458.19" y="57.77" width="3.06" height="2.92" fill="#3e38c6"/>
<rect x="461.20" y="57.77" width="3.06" height="2.92" fill="#2c24ba"/>
<rect x="464.21" y="57.77" width="3.06" height="2.92" fill="#d7cdee"/>
<rect x="467.21" y="57.77" width="3.06" height="2.92" fill="#2c24ba"/>
<rect x="470.22" y="57.77" width="3.06" height="2.92" fill="#1e16a2"/>
<rect x="473.23" y="57.77" width="3.06" height="2.92" fill="#261cae"/>
<rect x="476.24" y="57.77" width="3.06" height="2.92" fill="#1e16a2"/>
<rect x="479.25" y="57.77" width="3.06" height="2.92" fill="#2c24ba"/>
<rect x="482.25" y="57.77" width="3.06" height="2.92" fill="#2226b4"/>
<rect x="485.26" y="57.77" width="3.06" height="2.92" fill="#2c24ba"/>
<rect x="488.27" y="57.77" width="3.06" height="2.92" fill="#7a74dc"/>
<rect x="491.28" y="57.77" width="3.06" height="2.92" fill="#1a1298"/>
<rect x="494.28" y="57.77" width="3.06" height="2.92" fill="#2226b4"/>
<rect x="497.29" y="57.77" width="3.06" height="2.92" fill="#261cae"/>
<rect x="1.00" y="60.63" width="3.06" height="2.92" fill="#d7cdee"/>
<rect x="4.01" y="60.63" width="3.06" height="2.92" fill="#d7cdee"/>
<rect x="7.02" y="60.63" width="3.06" height="2.92" fill="#d7cdee"/>
<rect x="10.02" y="60.63" width="3.06" height="2.92" fill="#7a74dc"/>
<rect x="13.03" y="60.63" width="3.06" height="2.92" fill="#8780e1"/>
<rect x="16.04" y="60.63" width="3.06" height="2.92" fill="#3832c0"/>
<rect x="19.05" y="60.63" width="3.06" height="2.92" fill="#e1d0eb"/>
<rect x="22.05" y="60.63" width="3.06" height="2.92" fill="#d7cdee"/>
<rect x="25.06" y="60.63" width="3.06" height="2.92" fill="#1a1298"/>
<rect x="28.07" y="60.63" width="3.06" height="2.92" fill="#d7cdee"/>
<rect x="31.08" y="60.63" width="3.06" height="2.92" fill="#3e38c6"/>
<rect x="34.09" y="60.63" width="3.06" height="2.92" fill="#261cae"/>
<rect x="37.09" y="60.63" width="3.06" height="2.92" fill="#2226b4"/>
<rect x="40.10" y="60.63" width="3.06" height="2.92" fill="#1e16a2"/>
<rect x="43.11" y="60.63" width="3.06" height="2.92" fill="#2226b4"/>
<rect x="46.12" y="60.63" width="3.06" height="2.92" fill="#1a1298"/>
<rect x="49.13" y="60.63" width="3.06" height="2.92" fill="#7a74dc"/>
<rect x="52.13" y="60.63" width="3.06" height="2.92" fill="#1a1298"/>
<rect x="55.14" y="60.63" width="3.06" height="2.92" fill="#e1d0eb"/>
<rect x="58.15" y="60.63" width="3.06" height="2.92" fill="#7a74dc"/>
<rect x="61.16" y="60.63" width="3.06" height="2.92" fill="#2c24ba"/>
<rect x="64.16" y="60.63" width="3.06" height="2.92" fill="#968ee6"/>
<rect x="67.17" y="60.63" width="3.06" height="2.92" fill="#1e16a2"/>
<rect x="70.18" y="60.63" width="3.06" height="2.92" fill="#1a1298"/>
<rect x="73.19" y="60.63" width="3.06" height="2.92" fill="#3832c0"/>
<rect x="76.20" y="60.63" width="3.06" height="2.92" fill="#1a1298"/>
<rect x="79.20" y="60.63" width="3.06" height="2.92" fill="#3e38c6"/>
<rect x="82.21" y="60.63" width="3.06" height="2.92" fill="#1a1298"/>
<rect x="85.22" y="60.63" width="3.06" height="2.92" fill="#1e16a2"/>
<rect x="88.23" y="60.63" width="3.06" height="2.92" fill="#8780e1"/>
<rect x="91.23" y="60.63" width="3.06" height="2.92" fill="#968ee6"/>
<rect x="94.24" y="60.63" width="3.06" height="2.92" fill="#d7cdee"/>
<rect x="97.25" y="60.63" width="3.06" height="2.92" fill="#ebdef2"/>
<rect x="100.26" y="60.63" width="3.06" height="2.92" fill="#e1d0eb"/>
<rect x="103.27" y="60.63" width="3.06" height="2.92" fill="#3e38c6"/>
<rect x="106.27" y="60.63" width="3.06" height="2.92" fill="#7a74dc"/>
<rect x="109.28" y="60.63" width="3.06" height="2.92" fill="#7a74dc"/>
<rect x="112.29" y="60.63" width="3.06" height="2.92" fill="#381ca2"/>
<rect x="115.30" y="60.63" width="3.06" height="2.92" fill="#1a1298"/>
<rect x="118.31" y="60.63" width="3.06" height="2.92" fill="#261cae"/>
<rect x="121.31" y="60.63" width="3.06" height="2.92" fill="#1a1298"/>
<rect x="124.32" y="60.63" width="3.06" height="2.92" fill="#7a74dc"/>
<rect x="127.33" y="60.63" width="3.06" height="2.92" fill="#e1d0eb"/>
<rect x="130.34" y="60.63" width="3.06" height="2.92" fill="#2226b4"/>
<rect x="133.34" y="60.63" width="3.06" height="2.92" fill="#e8a5b2"/>
<rect x="136.35" y="60.63" width="3.06" height="2.92" fill="#ebdef2"/>
<rect x="139.36" y="60.63" width="3.06" height="2.92" fill="#381ca2"/>
<rect x="142.37" y="60.63" width="3.06" height="2.92" fill="#261cae"/>
<rect x="145.38" y="60.63" width="3.06" height="2.92" fill="#2226b4"/>
<rect x="148.38" y="60.63" width="3.06" height="2.92" fill="#e1d0eb"/>
<rect x="151.39" y="60.63" width="3.06" height="2.92" fill="#1e16a2"/>
<rect x="154.40" y="60.63" width="3.06" height="2.92" fill="#ebdef2"/>
<rect x="157.41" y="60.63" width="3.06" height="2.92" fill="#d7cdee"/>
<rect x="160.42" y="60.63" width="3.06" height="2.92" fill="#2c24ba"/>
<rect x="163.42" y="60.63" width="3.06" height="2.92" fill="#381ca2"/>
<rect x="166.43" y="60.63" width="3.06" height="2.92" fill="#261cae"/>
<rect x="169.44" y="60.63" width="3.06" height="2.92" fill="#4842ce"/>
<rect x="172.45" y="60.63" width="3.06" height="2.92" fill="#1a1298"/>
<rect x="175.45" y="60.63" width="3.06" height="2.92" fill="#7a74dc"/>
<rect x="178.46" y="60.63" width="3.06" height="2.92" fill="#1e16a2"/>
<rect x="181.47" y="60.63" width="3.06" height="2.92" fill="#381ca2"/>
<rect x="184.48" y="60.63" width="3.06" height="2.92" fill="#8780e1"/>
<rect x="187.49" y="60.63" width="3.06" height="2.92" fill="#261cae"/>
<rect x="190.49" y="60.63" width="3.06" height="2.92" fill="#2c24ba"/>
<rect x="193.50" y="60.63" width="3.06" height="2.92" fill="#2c24ba"/>
<rect x="196.51" y="60.63" width="3.06" height="2.92" fill="#d7cdee"/>
<rect x="199.52" y="60.63" width="3.06" height="2.92" fill="#1a1298"/>
<rect x="202.52" y="60.63" width="3.06" height="2.92" fill="#1a1298"/>
<rect x="205.53" y="60.63" width="3.06" height="2.92" fill="#d7cdee"/>
<rect x="208.54" y="60.63" width="3.06" height="2.92" fill="#968ee6"/>
<rect x="211.55" y="60.63" width="3.06" height="2.92" fill="#ebdef2"/>
<rect x="214.56" y="60.63" width="3.06" height="2.92" fill="#4842ce"/>
<rect x="217.56" y="60.63" width="3.06" height="2.92" fill="#f0d8e6"/>
<rect x="220.57" y="60.63" width="3.06" height="2.92" fill="#e696a0"/>
<rect x="223.58" y="60.63" width="3.06" height="2.92" fill="#f6dee8"/>
<rect x="226.59" y="60.63" width="3.06" height="2.92" fill="#ec848e"/>
<rect x="229.60" y="60.63" width="3.06" height="2.92" fill="#d42d32"/>
<rect x="232.60" y="60.63" width="3.06" height="2.92" fill="#e696a0"/>
<rect x="235.61" y="60.63" width="3.06" height="2.92" fill="#f07a80"/>
<rect x="238.62" y="60.63" width="3.06" height="2.92" fill="#783ca0"/>
<rect x="241.63" y="60.63" width="3.06" height="2.92" fill="#f4d0da"/>
<rect x="244.63" y="60.63" width="3.06" height="2.92" fill="#ec848e"/>
<rect x="247.64" y="60.63" width="3.06" height="2.92" fill="#f6dee8"/>
<rect x="250.65" y="60.63" width="3.06" height="2.92" fill="#f4d0da"/>
<rect x="253.66" y="60.63" width="3.06" height="2.92" fill="#1e16a2"/>
<rect x="256.67" y="60.63" width="3.06" height="2.92" fill="#f4d0da"/>
<rect x="259.67" y="60.63" width="3.06" height="2.92" fill="#381ca2"/>
<rect x="262.68" y="60.63" width="3.06" height="2.92" fill="#e696a0"/>
<rect x="265.69" y="60.63" width="3.06" height="2.92" fill="#4842ce"/>
<rect x="268.70" y="60.63" width="3.06" height="2.92" fill="#f4d0da"/>
<rect x="271.70" y="60.63" width="3.06" height="2.92" fill="#2c24ba"/>
<rect x="274.71" y="60.63" width="3.06" height="2.92" fill="#f0d8e6"/>
<rect x="277.72" y="60.63" width="3.06" height="2.92" fill="#3832c0"/>
<rect x="280.73" y="60.63" width="3.06" height="2.92" fill="#f0d8e6"/>
<rect x="283.74" y="60.63" width="3.06" height="2.92" fill="#3e38c6"/>
<rect x="286.74" y="60.63" width="3.06" height="2.92" fill="#f6dee8"/>
<rect x="289.75" y="60.63" width="3.06" height="2.92" fill="#f4d0da"/>
<rect x="292.76" y="60.63" width="3.06" height="2.92" fill="#3e38c6"/>
<rect x="295.77" y="60.63" width="3.06" height="2.92" fill="#3e38c6"/>
<rect x="298.78" y="60.63" width="3.06" height="2.92" fill="#3e38c6"/>
<rect x="301.78" y="60.63" width="3.06" height="2.92" fill="#3832c0"/>
<rect x="304.79" y="60.63" width="3.06" height="2.92" fill="#f6dee8"/>
<rect x="307.80" y="60.63" width="3.06" height="2.92" fill="#1e16a2"/>
<rect x="310.81" y="60.63" width="3.06" height="2.92" fill="#1a1298"/>
<rect x="313.81" y="60.63" width="3.06" height="2.92" fill="#261cae"/>
<rect x="316.82" y="60.63" width="3.06" height="2.92" fill="#1a1298"/>
<rect x="319.83" y="60.63" width="3.06" height="2.92" fill="#f0d8e6"/>
<rect x="322.84" y="60.63" width="3.06" height="2.92" fill="#f6dee8"/>
<rect x="325.85" y="60.63" width="3.06" height="2.92" fill="#261cae"/>
<rect x="328.85" y="60.63" width="3.06" height="2.92" fill="#1e16a2"/>
<rect x="331.86" y="60.63" width="3.06" height="2.92" fill="#e65a55"/>
<rect x="334.87" y="60.63" width="3.06" height="2.92" fill="#2c24ba"/>
<rect x="337.88" y="60.63" width="3.06" height="2.92" fill="#d42d32"/>
<rect x="340.88" y="60.63" width="3.06" height="2.92" fill="#f0d8e6"/>
<rect x="343.89" y="60.63" width="3.06" height="2.92" fill="#f6dee8"/>
<rect x="346.90" y="60.63" width="3.06" height="2.92" fill="#f07a80"/>
<rect x="349.91" y="60.63" width="3.06" height="2.92" fill="#f4d0da"/>
<rect x="352.92" y="60.63" width="3.06" height="2.92" fill="#2c24ba"/>
<rect x="355.92" y="60.63" width="3.06" height="2.92" fill="#f0d8e6"/>
<rect x="358.93" y="60.63" width="3.06" height="2.92" fill="#f0d8e6"/>
<rect x="361.94" y="60.63" width="3.06" height="2.92" fill="#8780e1"/>
<rect x="364.95" y="60.63" width="3.06" height="2.92" fill="#f0d8e6"/>
<rect x="367.96" y="60.63" width="3.06" height="2.92" fill="#f0d8e6"/>
<rect x="370.96" y="60.63" width="3.06" height="2.92" fill="#f6dee8"/>
<rect x="373.97" y="60.63" width="3.06" height="2.92" fill="#d42d32"/>
<rect x="376.98" y="60.63" width="3.06" height="2.92" fill="#f4d0da"/>
<rect x="379.99" y="60.63" width="3.06" height="2.92" fill="#968ee6"/>
<rect x="382.99" y="60.63" width="3.06" height="2.92" fill="#381ca2"/>
<rect x="386.00" y="60.63" width="3.06" height="2.92" fill="#381ca2"/>
<rect x="389.01" y="60.63" width="3.06" height="2.92" fill="#968ee6"/>
<rect x="392.02" y="60.63" width="3.06" height="2.92" fill="#3e38c6"/>
<rect x="395.03" y="60.63" width="3.06" height="2.92" fill="#8780e1"/>
<rect x="398.03" y="60.63" width="3.06" height="2.92" fill="#1a1298"/>
<rect x="401.04" y="60.63" width="3.06" height="2.92" fill="#3e38c6"/>
<rect x="404.05" y="60.63" width="3.06" height="2.92" fill="#7a74dc"/>
<rect x="407.06" y="60.63" width="3.06" height="2.92" fill="#2c24ba"/>
<rect x="410.07" y="60.63" width="3.06" height="2.92" fill="#ebdef2"/>
<rect x="413.07" y="60.63" width="3.06" height="2.92" fill="#7a74dc"/>
<rect x="416.08" y="60.63" width="3.06" height="2.92" fill="#d7cdee"/>
<rect x="419.09" y="60.63" width="3.06" height="2.92" fill="#d7cdee"/>
<rect x="422.10" y="60.63" width="3.06" height="2.92" fill="#8780e1"/>
<rect x="425.10" y="60.63" width="3.06" height="2.92" fill="#261cae"/>
<rect x="428.11" y="60.63" width="3.06" height="2.92" fill="#1e16a2"/>
<rect x="431.12" y="60.63" width="3.06" height="2.92" fill="#7a74dc"/>
<rect x="434.13" y="60.63" width="3.06" height="2.92" fill="#4842ce"/>
<rect x="437.14" y="60.63" width="3.06" height="2.92" fill="#7a74dc"/>
<rect x="440.14" y="60.63" width="3.06" height="2.92" fill="#ebdef2"/>
<rect x="443.15" y="60.63" width="3.06" height="2.92" fill="#2c24ba"/>
<rect x="446.16" y="60.63" width="3.06" height="2.92" fill="#1e16a2"/>
<rect x="449.17" y="60.63" width="3.06" height="2.92" fill="#1e16a2"/>
<rect x="452.17" y="60.63" width="3.06" height="2.92" fill="#d7cdee"/>
<rect x="455.18" y="60.63" width="3.06" height="2.92" fill="#968ee6"/>
<rect x="458.19" y="60.63" width="3.06" height="2.92" fill="#2c24ba"/>
<rect x="461.20" y="60.63" width="3.06" height="2.92" fill="#3832c0"/>
<rect x="464.21" y="60.63" width="3.06" height="2.92" fill="#e1d0eb"/>
<rect x="467.21" y="60.63" width="3.06" height="2.92" fill="#e1d0eb"/>
<rect x="470.22" y="60.63" width="3.06" height="2.92" fill="#261cae"/>
<rect x="473.23" y="60.63" width="3.06" height="2.92" fill="#261cae"/>
<rect x="476.24" y="60.63" width="3.06" height="2.92" fill="#e1d0eb"/>
<rect x="479.25" y="60.63" width="3.06" height="2.92" fill="#ebdef2"/>
<rect x="482.25" y="60.63" width="3.06" height="2.92" fill="#2226b4"/>
<rect x="485.26" y="60.63" width="3.06" height="2.92" fill="#e1d0eb"/>
<rect x="488.27" y="60.63" width="3.06" height="2.92" fill="#ebdef2"/>
<rect x="491.28" y="60.63" width="3.06" height="2.92" fill="#ebdef2"/>
<rect x="494.28" y="60.63" width="3.06" height="2.92" fill="#2226b4"/>
<rect x="497.29" y="60.63" width="3.06" height="2.92" fill="#d7cdee"/>
<rect x="1.00" y="63.50" width="3.06" height="2.92" fill="#1e16a2"/>
<rect x="4.01" y="63.50" width="3.06" height="2.92" fill="#381ca2"/>
<rect x="7.02" y="63.50" width="3.06" height="2.92" fill="#1e16a2"/>
<rect x="10.02" y="63.50" width="3.06" height="2.92" fill="#1e16a2"/>
<rect x="13.03" y="63.50" width="3.06" height="2.92" fill="#261cae"/>
<rect x="16.04" y="63.50" width="3.06" height="2.92" fill="#261cae"/>
<rect x="19.05" y="63.50" width="3.06" height="2.92" fill="#381ca2"/>
<rect x="22.05" y="63.50" width="3.06" height="2.92" fill="#1e16a2"/>
<rect x="25.06" y="63.50" width="3.06" height="2.92" fill="#2226b4"/>
<rect x="28.07" y="63.50" width="3.06" height="2.92" fill="#2226b4"/>
<rect x="31.08" y="63.50" width="3.06" height="2.92" fill="#1a1298"/>
<rect x="34.09" y="63.50" width="3.06" height="2.92" fill="#261cae"/>
<rect x="37.09" y="63.50" width="3.06" height="2.92" fill="#2226b4"/>
<rect x="40.10" y="63.50" width="3.06" height="2.92" fill="#1a1298"/>
<rect x="43.11" y="63.50" width="3.06" height="2.92" fill="#381ca2"/>
<rect x="46.12" y="63.50" width="3.06" height="2.92" fill="#2226b4"/>
<rect x="49.13" y="63.50" width="3.06" height="2.92" fill="#2c24ba"/>
<rect x="52.13" y="63.50" width="3.06" height="2.92" fill="#2226b4"/>
<rect x="55.14" y="63.50" width="3.06" height="2.92" fill="#1e16a2"/>
<rect x="58.15" y="63.50" width="3.06" height="2.92" fill="#1e16a2"/>
<rect x="61.16" y="63.50" width="3.06" height="2.92" fill="#1e16a2"/>
<rect x="64.16" y="63.50" width="3.06" height="2.92" fill="#1a1298"/>
<rect x="67.17" y="63.50" width="3.06" height="2.92" fill="#381ca2"/>
<rect x="70.18" y="63.50" width="3.06" height="2.92" fill="#381ca2"/>
<rect x="73.19" y="63.50" width="3.06" height="2.92" fill="#261cae"/>
<rect x="76.20" y="63.50" width="3.06" height="2.92" fill="#2c24ba"/>
<rect x="79.20" y="63.50" width="3.06" height="2.92" fill="#1a1298"/>
<rect x="82.21" y="63.50" width="3.06" height="2.92" fill="#261cae"/>
<rect x="85.22" y="63.50" width="3.06" height="2.92" fill="#381ca2"/>
<rect x="88.23" y="63.50" width="3.06" height="2.92" fill="#1e16a2"/>
<rect x="91.23" y="63.50" width="3.06" height="2.92" fill="#1e16a2"/>
<rect x="94.24" y="63.50" width="3.06" height="2.92" fill="#381ca2"/>
<rect x="97.25" y="63.50" width="3.06" height="2.92" fill="#1a1298"/>
<rect x="100.26" y="63.50" width="3.06" height="2.92" fill="#2c24ba"/>
<rect x="103.27" y="63.50" width="3.06" height="2.92" fill="#1a1298"/>
<rect x="106.27" y="63.50" width="3.06" height="2.92" fill="#1a1298"/>
<rect x="109.28" y="63.50" width="3.06" height="2.92" fill="#2226b4"/>
<rect x="112.29" y="63.50" width="3.06" height="2.92" fill="#261cae"/>
<rect x="115.30" y="63.50" width="3.06" height="2.92" fill="#3832c0"/>
<rect x="118.31" y="63.50" width="3.06" height="2.92" fill="#381ca2"/>
<rect x="121.31" y="63.50" width="3.06" height="2.92" fill="#261cae"/>
<rect x="124.32" y="63.50" width="3.06" height="2.92" fill="#381ca2"/>
<rect x="127.33" y="63.50" width="3.06" height="2.92" fill="#261cae"/>
<rect x="130.34" y="63.50" width="3.06" height="2.92" fill="#1e16a2"/>
<rect x="133.34" y="63.50" width="3.06" height="2.92" fill="#2c24ba"/>
<rect x="136.35" y="63.50" width="3.06" height="2.92" fill="#f2878c"/>
<rect x="139.36" y="63.50" width="3.06" height="2.92" fill="#2226b4"/>
<rect x="142.37" y="63.50" width="3.06" height="2.92" fill="#1a1298"/>
<rect x="145.38" y="63.50" width="3.06" height="2.92" fill="#1e16a2"/>
<rect x="148.38" y="63.50" width="3.06" height="2.92" fill="#1e16a2"/>
<rect x="151.39" y="63.50" width="3.06" height="2.92" fill="#261cae"/>
<rect x="154.40" y="63.50" width="3.06" height="2.92" fill="#2c24ba"/>
<rect x="157.41" y="63.50" width="3.06" height="2.92" fill="#2226b4"/>
<rect x="160.42" y="63.50" width="3.06" height="2.92" fill="#2226b4"/>
<rect x="163.42" y="63.50" width="3.06" height="2.92" fill="#2c24ba"/>
<rect x="166.43" y="63.50" width="3.06" height="2.92" fill="#1e16a2"/>
<rect x="169.44" y="63.50" width="3.06" height="2.92" fill="#1a1298"/>
<rect x="172.45" y="63.50" width="3.06" height="2.92" fill="#261cae"/>
<rect x="175.45" y="63.50" width="3.06" height="2.92" fill="#4842ce"/>
<rect x="178.46" y="63.50" width="3.06" height="2.92" fill="#2c24ba"/>
<rect x="181.47" y="63.50" width="3.06" height="2.92" fill="#1a1298"/>
<rect x="184.48" y="63.50" width="3.06" height="2.92" fill="#261cae"/>
<rect x="187.49" y="63.50" width="3.06" height="2.92" fill="#2c24ba"/>
<rect x="190.49" y="63.50" width="3.06" height="2.92" fill="#1e16a2"/>
<rect x="193.50" y="63.50" width="3.06" height="2.92" fill="#2226b4"/>
<rect x="196.51" y="63.50" width="3.06" height="2.92" fill="#1a1298"/>
<rect x="199.52" y="63.50" width="3.06" height="2.92" fill="#2226b4"/>
<rect x="202.52" y="63.50" width="3.06" height="2.92" fill="#3832c0"/>
<rect x="205.53" y="63.50" width="3.06" height="2.92" fill="#1a1298"/>
<rect x="208.54" y="63.50" width="3.06" height="2.92" fill="#2226b4"/>
<rect x="211.55" y="63.50" width="3.06" height="2.92" fill="#2c24ba"/>
<rect x="214.56" y="63.50" width="3.06" height="2.92" fill="#e1d0eb"/>
<rect x="217.56" y="63.50" width="3.06" height="2.92" fill="#1e16a2"/>
<rect x="220.57" y="63.50" width="3.06" height="2.92" fill="#1a1298"/>
<rect x="223.58" y="63.50" width="3.06" height="2.92" fill="#f07a80"/>
<rect x="226.59" y="63.50" width="3.06" height="2.92" fill="#381ca2"/>
<rect x="229.60" y="63.50" width="3.06" height="2.92" fill="#3e38c6"/>
<rect x="232.60" y="63.50" width="3.06" height="2.92" fill="#8780e1"/>
<rect x="235.61" y="63.50" width="3.06" height="2.92" fill="#2c24ba"/>
<rect x="238.62" y="63.50" width="3.06" height="2.92" fill="#261cae"/>
<rect x="241.63" y="63.50" width="3.06" height="2.92" fill="#e696a0"/>
<rect x="244.63" y="63.50" width="3.06" height="2.92" fill="#ec848e"/>
<rect x="247.64" y="63.50" width="3.06" height="2.92" fill="#ec848e"/>
<rect x="250.65" y="63.50" width="3.06" height="2.92" fill="#e696a0"/>
<rect x="253.66" y="63.50" width="3.06" height="2.92" fill="#f4d0da"/>
<rect x="256.67" y="63.50" width="3.06" height="2.92" fill="#f0d8e6"/>
<rect x="259.67" y="63.50" width="3.06" height="2.92" fill="#f0d8e6"/>
<rect x="262.68" y="63.50" width="3.06" height="2.92" fill="#ec848e"/>
<rect x="265.69" y="63.50" width="3.06" height="2.92" fill="#e65a55"/>
<rect x="268.70" y="63.50" width="3.06" height="2.92" fill="#b4141e"/>
<rect x="271.70" y="63.50" width="3.06" height="2.92" fill="#e65a55"/>
<rect x="274.71" y="63.50" width="3.06" height="2.92" fill="#de4141"/>
<rect x="277.72" y="63.50" width="3.06" height="2.92" fill="#de4141"/>
<rect x="280.73" y="63.50" width="3.06" height="2.92" fill="#e696a0"/>
<rect x="283.74" y="63.50" width="3.06" height="2.92" fill="#e696a0"/>
<rect x="286.74" y="63.50" width="3.06" height="2.92" fill="#f6dee8"/>
<rect x="289.75" y="63.50" width="3.06" height="2.92" fill="#de4141"/>
<rect x="292.76" y="63.50" width="3.06" height="2.92" fill="#f07a80"/>
<rect x="295.77" y="63.50" width="3.06" height="2.92" fill="#ec848e"/>
<rect x="298.78" y="63.50" width="3.06" height="2.92" fill="#d42d32"/>
<rect x="301.78" y="63.50" width="3.06" height="2.92" fill="#ec848e"/>
<rect x="304.79" y="63.50" width="3.06" height="2.92" fill="#de4141"/>
<rect x="307.80" y="63.50" width="3.06" height="2.92" fill="#f4d0da"/>
<rect x="310.81" y="63.50" width="3.06" height="2.92" fill="#f6dee8"/>
<rect x="313.81" y="63.50" width="3.06" height="2.92" fill="#de4141"/>
<rect x="316.82" y="63.50" width="3.06" height="2.92" fill="#d42d32"/>
<rect x="319.83" y="63.50" width="3.06" height="2.92" fill="#de4141"/>
<rect x="322.84" y="63.50" width="3.06" height="2.92" fill="#f6dee8"/>
<rect x="325.85" y="63.50" width="3.06" height="2.92" fill="#ec848e"/>
<rect x="328.85" y="63.50" width="3.06" height="2.92" fill="#ec848e"/>
<rect x="331.86" y="63.50" width="3.06" height="2.92" fill="#2c24ba"/>
<rect x="334.87" y="63.50" width="3.06" height="2.92" fill="#d42d32"/>
<rect x="337.88" y="63.50" width="3.06" height="2.92" fill="#f6dee8"/>
<rect x="340.88" y="63.50" width="3.06" height="2.92" fill="#f0d8e6"/>
<rect x="343.89" y="63.50" width="3.06" height="2.92" fill="#4842ce"/>
<rect x="346.90" y="63.50" width="3.06" height="2.92" fill="#ec848e"/>
<rect x="349.91" y="63.50" width="3.06" height="2.92" fill="#f4d0da"/>
<rect x="352.92" y="63.50" width="3.06" height="2.92" fill="#261cae"/>
<rect x="355.92" y="63.50" width="3.06" height="2.92" fill="#f0d8e6"/>
<rect x="358.93" y="63.50" width="3.06" height="2.92" fill="#3e38c6"/>
<rect x="361.94" y="63.50" width="3.06" height="2.92" fill="#261cae"/>
<rect x="364.95" y="63.50" width="3.06" height="2.92" fill="#4842ce"/>
<rect x="367.96" y="63.50" width="3.06" height="2.92" fill="#f6dee8"/>
<rect x="370.96" y="63.50" width="3.06" height="2.92" fill="#4842ce"/>
<rect x="373.97" y="63.50" width="3.06" height="2.92" fill="#f0d8e6"/>
<rect x="376.98" y="63.50" width="3.06" height="2.92" fill="#3e38c6"/>
<rect x="379.99" y="63.50" width="3.06" height="2.92" fill="#1a1298"/>
<rect x="382.99" y="63.50" width="3.06" height="2.92" fill="#2226b4"/>
<rect x="386.00" y="63.50" width="3.06" height="2.92" fill="#2226b4"/>
<rect x="389.01" y="63.50" width="3.06" height="2.92" fill="#d7cdee"/>
<rect x="392.02" y="63.50" width="3.06" height="2.92" fill="#1a1298"/>
<rect x="395.03" y="63.50" width="3.06" height="2.92" fill="#1a1298"/>
<rect x="398.03" y="63.50" width="3.06" height="2.92" fill="#2c24ba"/>
<rect x="401.04" y="63.50" width="3.06" height="2.92" fill="#261cae"/>
<rect x="404.05" y="63.50" width="3.06" height="2.92" fill="#1e16a2"/>
<rect x="407.06" y="63.50" width="3.06" height="2.92" fill="#1e16a2"/>
<rect x="410.07" y="63.50" width="3.06" height="2.92" fill="#1e16a2"/>
<rect x="413.07" y="63.50" width="3.06" height="2.92" fill="#1a1298"/>
<rect x="416.08" y="63.50" width="3.06" height="2.92" fill="#1e16a2"/>
<rect x="419.09" y="63.50" width="3.06" height="2.92" fill="#1a1298"/>
<rect x="422.10" y="63.50" width="3.06" height="2.92" fill="#2c24ba"/>
<rect x="425.10" y="63.50" width="3.06" height="2.92" fill="#1e16a2"/>
<rect x="428.11" y="63.50" width="3.06" height="2.92" fill="#381ca2"/>
<rect x="431.12" y="63.50" width="3.06" height="2.92" fill="#261cae"/>
<rect x="434.13" y="63.50" width="3.06" height="2.92" fill="#2c24ba"/>
<rect x="437.14" y="63.50" width="3.06" height="2.92" fill="#1a1298"/>
<rect x="440.14" y="63.50" width="3.06" height="2.92" fill="#1a1298"/>
<rect x="443.15" y="63.50" width="3.06" height="2.92" fill="#2c24ba"/>
<rect x="446.16" y="63.50" width="3.06" height="2.92" fill="#1e16a2"/>
<rect x="449.17" y="63.50" width="3.06" height="2.92" fill="#1e16a2"/>
<rect x="452.17" y="63.50" width="3.06" height="2.92" fill="#2226b4"/>
<rect x="455.18" y="63.50" width="3.06" height="2.92" fill="#2c24ba"/>
<rect x="458.19" y="63.50" width="3.06" height="2.92" fill="#261cae"/>
<rect x="461.20" y="63.50" width="3.06" height="2.92" fill="#1a1298"/>
<rect x="464.21" y="63.50" width="3.06" height="2.92" fill="#381ca2"/>
<rect x="467.21" y="63.50" width="3.06" height="2.92" fill="#2c24ba"/>
<rect x="470.22" y="63.50" width="3.06" height="2.92" fill="#261cae"/>
<rect x="473.23" y="63.50" width="3.06" height="2.92" fill="#1a1298"/>
<rect x="476.24" y="63.50" width="3.06" height="2.92" fill="#1a1298"/>
<rect x="479.25" y="63.50" width="3.06" height="2.92" fill="#2226b4"/>
<rect x="482.25" y="63.50" width="3.06" height="2.92" fill="#2c24ba"/>
<rect x="485.26" y="63.50" width="3.06" height="2.92" fill="#1e16a2"/>
<rect x="488.27" y="63.50" width="3.06" height="2.92" fill="#2226b4"/>
<rect x="491.28" y="63.50" width="3.06" height="2.92" fill="#2c24ba"/>
<rect x="494.28" y="63.50" width="3.06" height="2.92" fill="#261cae"/>
<rect x="497.29" y="63.50" width="3.06" height="2.92" fill="#2226b4"/>
<rect x="1.00" y="66.37" width="3.06" height="2.92" fill="#2c24ba"/>
<rect x="4.01" y="66.37" width="3.06" height="2.92" fill="#1e16a2"/>
<rect x="7.02" y="66.37" width="3.06" height="2.92" fill="#2c24ba"/>
<rect x="10.02" y="66.37" width="3.06" height="2.92" fill="#8780e1"/>
<rect x="13.03" y="66.37" width="3.06" height="2.92" fill="#2c24ba"/>
<rect x="16.04" y="66.37" width="3.06" height="2.92" fill="#1e16a2"/>
<rect x="19.05" y="66.37" width="3.06" height="2.92" fill="#1e16a2"/>
<rect x="22.05" y="66.37" width="3.06" height="2.92" fill="#1a1298"/>
<rect x="25.06" y="66.37" width="3.06" height="2.92" fill="#261cae"/>
<rect x="28.07" y="66.37" width="3.06" height="2.92" fill="#2226b4"/>
<rect x="31.08" y="66.37" width="3.06" height="2.92" fill="#1e16a2"/>
<rect x="34.09" y="66.37" width="3.06" height="2.92" fill="#381ca2"/>
<rect x="37.09" y="66.37" width="3.06" height="2.92" fill="#1a1298"/>
<rect x="40.10" y="66.37" width="3.06" height="2.92" fill="#1a1298"/>
<rect x="43.11" y="66.37" width="3.06" height="2.92" fill="#1a1298"/>
<rect x="46.12" y="66.37" width="3.06" height="2.92" fill="#1a1298"/>
<rect x="49.13" y="66.37" width="3.06" height="2.92" fill="#4842ce"/>
<rect x="52.13" y="66.37" width="3.06" height="2.92" fill="#1e16a2"/>
<rect x="55.14" y="66.37" width="3.06" height="2.92" fill="#1a1298"/>
<rect x="58.15" y="66.37" width="3.06" height="2.92" fill="#4842ce"/>
<rect x="61.16" y="66.37" width="3.06" height="2.92" fill="#2226b4"/>
<rect x="64.16" y="66.37" width="3.06" height="2.92" fill="#2226b4"/>
<rect x="67.17" y="66.37" width="3.06" height="2.92" fill="#7a74dc"/>
<rect x="70.18" y="66.37" width="3.06" height="2.92" fill="#1a1298"/>
<rect x="73.19" y="66.37" width="3.06" height="2.92" fill="#1a1298"/>
<rect x="76.20" y="66.37" width="3.06" height="2.92" fill="#1e16a2"/>
<rect x="79.20" y="66.37" width="3.06" height="2.92" fill="#2226b4"/>
<rect x="82.21" y="66.37" width="3.06" height="2.92" fill="#381ca2"/>
<rect x="85.22" y="66.37" width="3.06" height="2.92" fill="#2226b4"/>
<rect x="88.23" y="66.37" width="3.06" height="2.92" fill="#1e16a2"/>
<rect x="91.23" y="66.37" width="3.06" height="2.92" fill="#1e16a2"/>
<rect x="94.24" y="66.37" width="3.06" height="2.92" fill="#261cae"/>
<rect x="97.25" y="66.37" width="3.06" height="2.92" fill="#1e16a2"/>
<rect x="100.26" y="66.37" width="3.06" height="2.92" fill="#2c24ba"/>
<rect x="103.27" y="66.37" width="3.06" height="2.92" fill="#2226b4"/>
<rect x="106.27" y="66.37" width="3.06" height="2.92" fill="#2c24ba"/>
<rect x="109.28" y="66.37" width="3.06" height="2.92" fill="#2c24ba"/>
<rect x="112.29" y="66.37" width="3.06" height="2.92" fill="#1a1298"/>
<rect x="115.30" y="66.37" width="3.06" height="2.92" fill="#2c24ba"/>
<rect x="118.31" y="66.37" width="3.06" height="2.92" fill="#2c24ba"/>
<rect x="121.31" y="66.37" width="3.06" height="2.92" fill="#261cae"/>
<rect x="124.32" y="66.37" width="3.06" height="2.92" fill="#2c24ba"/>
<rect x="127.33" y="66.37" width="3.06" height="2.92" fill="#e1d0eb"/>
<rect x="130.34" y="66.37" width="3.06" height="2.92" fill="#1e16a2"/>
<rect x="133.34" y="66.37" width="3.06" height="2.92" fill="#2226b4"/>
<rect x="136.35" y="66.37" width="3.06" height="2.92" fill="#1a1298"/>
<rect x="139.36" y="66.37" width="3.06" height="2.92" fill="#2226b4"/>
<rect x="142.37" y="66.37" width="3.06" height="2.92" fill="#e1d0eb"/>
<rect x="145.38" y="66.37" width="3.06" height="2.92" fill="#381ca2"/>
<rect x="148.38" y="66.37" width="3.06" height="2.92" fill="#261cae"/>
<rect x="151.39" y="66.37" width="3.06" height="2.92" fill="#1a1298"/>
<rect x="154.40" y="66.37" width="3.06" height="2.92" fill="#1a1298"/>
<rect x="157.41" y="66.37" width="3.06" height="2.92" fill="#2c24ba"/>
<rect x="160.42" y="66.37" width="3.06" height="2.92" fill="#1a1298"/>
<rect x="163.42" y="66.37" width="3.06" height="2.92" fill="#ebdef2"/>
<rect x="166.43" y="66.37" width="3.06" height="2.92" fill="#1e16a2"/>
<rect x="169.44" y="66.37" width="3.06" height="2.92" fill="#4842ce"/>
<rect x="172.45" y="66.37" width="3.06" height="2.92" fill="#261cae"/>
<rect x="175.45" y="66.37" width="3.06" height="2.92" fill="#2c24ba"/>
<rect x="178.46" y="66.37" width="3.06" height="2.92" fill="#3e38c6"/>
<rect x="181.47" y="66.37" width="3.06" height="2.92" fill="#261cae"/>
<rect x="184.48" y="66.37" width="3.06" height="2.92" fill="#2c24ba"/>
<rect x="187.49" y="66.37" width="3.06" height="2.92" fill="#1e16a2"/>
<rect x="190.49" y="66.37" width="3.06" height="2.92" fill="#4842ce"/>
<rect x="193.50" y="66.37" width="3.06" height="2.92" fill="#1e16a2"/>
<rect x="196.51" y="66.37" width="3.06" height="2.92" fill="#2c24ba"/>
<rect x="199.52" y="66.37" width="3.06" height="2.92" fill="#381ca2"/>
<rect x="202.52" y="66.37" width="3.06" height="2.92" fill="#381ca2"/>
<rect x="205.53" y="66.37" width="3.06" height="2.92" fill="#1a1298"/>
<rect x="208.54" y="66.37" width="3.06" height="2.92" fill="#261cae"/>
<rect x="211.55" y="66.37" width="3.06" height="2.92" fill="#2c24ba"/>
<rect x="214.56" y="66.37" width="3.06" height="2.92" fill="#1e16a2"/>
<rect x="217.56" y="66.37" width="3.06" height="2.92" fill="#1e16a2"/>
<rect x="220.57" y="66.37" width="3.06" height="2.92" fill="#1a1298"/>
<rect x="223.58" y="66.37" width="3.06" height="2.92" fill="#381ca2"/>
<rect x="226.59" y="66.37" width="3.06" height="2.92" fill="#1e16a2"/>
<rect x="229.60" y="66.37" width="3.06" height="2.92" fill="#261cae"/>
<rect x="232.60" y="66.37" width="3.06" height="2.92" fill="#3e38c6"/>
<rect x="235.61" y="66.37" width="3.06" height="2.92" fill="#2c24ba"/>
<rect x="238.62" y="66.37" width="3.06" height="2.92" fill="#2c24ba"/>
<rect x="241.63" y="66.37" width="3.06" height="2.92" fill="#4842ce"/>
<rect x="244.63" y="66.37" width="3.06" height="2.92" fill="#f0d8e6"/>
<rect x="247.64" y="66.37" width="3.06" height="2.92" fill="#ec848e"/>
<rect x="250.65" y="66.37" width="3.06" height="2.92" fill="#f4d0da"/>
<rect x="253.66" y="66.37" width="3.06" height="2.92" fill="#ec848e"/>
<rect x="256.67" y="66.37" width="3.06" height="2.92" fill="#e696a0"/>
<rect x="259.67" y="66.37" width="3.06" height="2.92" fill="#e696a0"/>
<rect x="262.68" y="66.37" width="3.06" height="2.92" fill="#e65a55"/>
<rect x="265.69" y="66.37" width="3.06" height="2.92" fill="#e65a55"/>
<rect x="268.70" y="66.37" width="3.06" height="2.92" fill="#de4141"/>
<rect x="271.70" y="66.37" width="3.06" height="2.92" fill="#e65a55"/>
<rect x="274.71" y="66.37" width="3.06" height="2.92" fill="#e65a55"/>
<rect x="277.72" y="66.37" width="3.06" height="2.92" fill="#f07a80"/>
<rect x="280.73" y="66.37" width="3.06" height="2.92" fill="#de4141"/>
<rect x="283.74" y="66.37" width="3.06" height="2.92" fill="#e696a0"/>
<rect x="286.74" y="66.37" width="3.06" height="2.92" fill="#f0d8e6"/>
<rect x="289.75" y="66.37" width="3.06" height="2.92" fill="#f0d8e6"/>
<rect x="292.76" y="66.37" width="3.06" height="2.92" fill="#f6dee8"/>
<rect x="295.77" y="66.37" width="3.06" height="2.92" fill="#f0d8e6"/>
<rect x="298.78" y="66.37" width="3.06" height="2.92" fill="#e696a0"/>
<rect x="301.78" y="66.37" width="3.06" height="2.92" fill="#f0d8e6"/>
<rect x="304.79" y="66.37" width="3.06" height="2.92" fill="#f07a80"/>
<rect x="307.80" y="66.37" width="3.06" height="2.92" fill="#f0d8e6"/>
<rect x="310.81" y="66.37" width="3.06" height="2.92" fill="#f4d0da"/>
<rect x="313.81" y="66.37" width="3.06" height="2.92" fill="#e696a0"/>
<rect x="316.82" y="66.37" width="3.06" height="2.92" fill="#de4141"/>
<rect x="319.83" y="66.37" width="3.06" height="2.92" fill="#ec848e"/>
<rect x="322.84" y="66.37" width="3.06" height="2.92" fill="#de4141"/>
<rect x="325.85" y="66.37" width="3.06" height="2.92" fill="#f4d0da"/>
<rect x="328.85" y="66.37" width="3.06" height="2.92" fill="#f4d0da"/>
<rect x="331.86" y="66.37" width="3.06" height="2.92" fill="#1a1298"/>
<rect x="334.87" y="66.37" width="3.06" height="2.92" fill="#381ca2"/>
<rect x="337.88" y="66.37" width="3.06" height="2.92" fill="#261cae"/>
<rect x="340.88" y="66.37" width="3.06" height="2.92" fill="#1a1298"/>
<rect x="343.89" y="66.37" width="3.06" height="2.92" fill="#1e16a2"/>
<rect x="346.90" y="66.37" width="3.06" height="2.92" fill="#2c24ba"/>
<rect x="349.91" y="66.37" width="3.06" height="2.92" fill="#1a1298"/>
<rect x="352.92" y="66.37" width="3.06" height="2.92" fill="#261cae"/>
<rect x="355.92" y="66.37" width="3.06" height="2.92" fill="#f6dee8"/>
<rect x="358.93" y="66.37" width="3.06" height="2.92" fill="#f6dee8"/>
<rect x="361.94" y="66.37" width="3.06" height="2.92" fill="#261cae"/>
<rect x="364.95" y="66.37" width="3.06" height="2.92" fill="#2226b4"/>
<rect x="367.96" y="66.37" width="3.06" height="2.92" fill="#1e16a2"/>
<rect x="370.96" y="66.37" width="3.06" height="2.92" fill="#4842ce"/>
<rect x="373.97" y="66.37" width="3.06" height="2.92" fill="#3832c0"/>
<rect x="376.98" y="66.37" width="3.06" height="2.92" fill="#1e16a2"/>
<rect x="379.99" y="66.37" width="3.06" height="2.92" fill="#1e16a2"/>
<rect x="382.99" y="66.37" width="3.06" height="2.92" fill="#1e16a2"/>
<rect x="386.00" y="66.37" width="3.06" height="2.92" fill="#2c24ba"/>
<rect x="389.01" y="66.37" width="3.06" height="2.92" fill="#261cae"/>
<rect x="392.02" y="66.37" width="3.06" height="2.92" fill="#2c24ba"/>
<rect x="395.03" y="66.37" width="3.06" height="2.92" fill="#1a1298"/>
<rect x="398.03" y="66.37" width="3.06" height="2.92" fill="#e1d0eb"/>
<rect x="401.04" y="66.37" width="3.06" height="2.92" fill="#1a1298"/>
<rect x="404.05" y="66.37" width="3.06" height="2.92" fill="#261cae"/>
<rect x="407.06" y="66.37" width="3.06" height="2.92" fill="#1e16a2"/>
<rect x="410.07" y="66.37" width="3.06" height="2.92" fill="#1e16a2"/>
<rect x="413.07" y="66.37" width="3.06" height="2.92" fill="#261cae"/>
<rect x="416.08" y="66.37" width="3.06" height="2.92" fill="#381ca2"/>
<rect x="419.09" y="66.37" width="3.06" height="2.92" fill="#381ca2"/>
<rect x="422.10" y="66.37" width="3.06" height="2.92" fill="#261cae"/>
<rect x="425.10" y="66.37" width="3.06" height="2.92" fill="#1e16a2"/>
<rect x="428.11" y="66.37" width="3.06" height="2.92" fill="#1a1298"/>
<rect x="431.12" y="66.37" width="3.06" height="2.92" fill="#381ca2"/>
<rect x="434.13" y="66.37" width="3.06" height="2.92" fill="#261cae"/>
<rect x="437.14" y="66.37" width="3.06" height="2.92" fill="#2c24ba"/>
<rect x="440.14" y="66.37" width="3.06" height="2.92" fill="#968ee6"/>
<rect x="443.15" y="66.37" width="3.06" height="2.92" fill="#d7cdee"/>
<rect x="446.16" y="66.37" width="3.06" height="2.92" fill="#2226b4"/>
<rect x="449.17" y="66.37" width="3.06" height="2.92" fill="#e1d0eb"/>
<rect x="452.17" y="66.37" width="3.06" height="2.92" fill="#1e16a2"/>
<rect x="455.18" y="66.37" width="3.06" height="2.92" fill="#2226b4"/>
<rect x="458.19" y="66.37" width="3.06" height="2.92" fill="#ebdef2"/>
<rect x="461.20" y="66.37" width="3.06" height="2.92" fill="#968ee6"/>
<rect x="464.21" y="66.37" width="3.06" height="2.92" fill="#381ca2"/>
<rect x="467.21" y="66.37" width="3.06" height="2.92" fill="#1a1298"/>
<rect x="470.22" y="66.37" width="3.06" height="2.92" fill="#8780e1"/>
<rect x="473.23" y="66.37" width="3.06" height="2.92" fill="#1e16a2"/>
<rect x="476.24" y="66.37" width="3.06" height="2.92" fill="#1a1298"/>
<rect x="479.25" y="66.37" width="3.06" height="2.92" fill="#1a1298"/>
<rect x="482.25" y="66.37" width="3.06" height="2.92" fill="#261cae"/>
<rect x="485.26" y="66.37" width="3.06" height="2.92" fill="#1e16a2"/>
<rect x="488.27" y="66.37" width="3.06" height="2.92" fill="#261cae"/>
<rect x="491.28" y="66.37" width="3.06" height="2.92" fill="#1a1298"/>
<rect x="494.28" y="66.37" width="3.06" height="2.92" fill="#1e16a2"/>
<rect x="497.29" y="66.37" width="3.06" height="2.92" fill="#381ca2"/>
<rect x="1.00" y="69.23" width="3.06" height="2.92" fill="#2226b4"/>
<rect x="4.01" y="69.23" width="3.06" height="2.92" fill="#2226b4"/>
<rect x="7.02" y="69.23" width="3.06" height="2.92" fill="#261cae"/>
<rect x="10.02" y="69.23" width="3.06" height="2.92" fill="#1e16a2"/>
<rect x="13.03" y="69.23" width="3.06" height="2.92" fill="#1a1298"/>
<rect x="16.04" y="69.23" width="3.06" height="2.92" fill="#2c24ba"/>
<rect x="19.05" y="69.23" width="3.06" height="2.92" fill="#2226b4"/>
<rect x="22.05" y="69.23" width="3.06" height="2.92" fill="#1a1298"/>
<rect x="25.06" y="69.23" width="3.06" height="2.92" fill="#261cae"/>
<rect x="28.07" y="69.23" width="3.06" height="2.92" fill="#381ca2"/>
<rect x="31.08" y="69.23" width="3.06" height="2.92" fill="#1a1298"/>
<rect x="34.09" y="69.23" width="3.06" height="2.92" fill="#1e16a2"/>
<rect x="37.09" y="69.23" width="3.06" height="2.92" fill="#261cae"/>
<rect x="40.10" y="69.23" width="3.06" height="2.92" fill="#1e16a2"/>
<rect x="43.11" y="69.23" width="3.06" height="2.92" fill="#2c24ba"/>
<rect x="46.12" y="69.23" width="3.06" height="2.92" fill="#381ca2"/>
<rect x="49.13" y="69.23" width="3.06" height="2.92" fill="#2c24ba"/>
<rect x="52.13" y="69.23" width="3.06" height="2.92" fill="#1e16a2"/>
<rect x="55.14" y="69.23" width="3.06" height="2.92" fill="#2c24ba"/>
<rect x="58.15" y="69.23" width="3.06" height="2.92" fill="#1e16a2"/>
<rect x="61.16" y="69.23" width="3.06" height="2.92" fill="#2c24ba"/>
<rect x="64.16" y="69.23" width="3.06" height="2.92" fill="#2226b4"/>
<rect x="67.17" y="69.23" width="3.06" height="2.92" fill="#381ca2"/>
<rect x="70.18" y="69.23" width="3.06" height="2.92" fill="#261cae"/>
<rect x="73.19" y="69.23" width="3.06" height="2.92" fill="#2226b4"/>
<rect x="76.20" y="69.23" width="3.06" height="2.92" fill="#381ca2"/>
<rect x="79.20" y="69.23" width="3.06" height="2.92" fill="#1e16a2"/>
<rect x="82.21" y="69.23" width="3.06" height="2.92" fill="#2226b4"/>
<rect x="85.22" y="69.23" width="3.06" height="2.92" fill="#261cae"/>
<rect x="88.23" y="69.23" width="3.06" height="2.92" fill="#2c24ba"/>
<rect x="91.23" y="69.23" width="3.06" height="2.92" fill="#2226b4"/>
<rect x="94.24" y="69.23" width="3.06" height="2.92" fill="#1a1298"/>
<rect x="97.25" y="69.23" width="3.06" height="2.92" fill="#2c24ba"/>
<rect x="100.26" y="69.23" width="3.06" height="2.92" fill="#1a1298"/>
<rect x="103.27" y="69.23" width="3.06" height="2.92" fill="#2226b4"/>
<rect x="106.27" y="69.23" width="3.06" height="2.92" fill="#1a1298"/>
<rect x="109.28" y="69.23" width="3.06" height="2.92" fill="#2c24ba"/>
<rect x="112.29" y="69.23" width="3.06" height="2.92" fill="#1e16a2"/>
<rect x="115.30" y="69.23" width="3.06" height="2.92" fill="#1a1298"/>
<rect x="118.31" y="69.23" width="3.06" height="2.92" fill="#2226b4"/>
<rect x="121.31" y="69.23" width="3.06" height="2.92" fill="#381ca2"/>
<rect x="124.32" y="69.23" width="3.06" height="2.92" fill="#1a1298"/>
<rect x="127.33" y="69.23" width="3.06" height="2.92" fill="#2c24ba"/>
<rect x="130.34" y="69.23" width="3.06" height="2.92" fill="#3832c0"/>
<rect x="133.34" y="69.23" width="3.06" height="2.92" fill="#1e16a2"/>
<rect x="136.35" y="69.23" width="3.06" height="2.92" fill="#1a1298"/>
<rect x="139.36" y="69.23" width="3.06" height="2.92" fill="#2226b4"/>
<rect x="142.37" y="69.23" width="3.06" height="2.92" fill="#8780e1"/>
<rect x="145.38" y="69.23" width="3.06" height="2.92" fill="#2c24ba"/>
<rect x="148.38" y="69.23" width="3.06" height="2.92" fill="#2226b4"/>
<rect x="151.39" y="69.23" width="3.06" height="2.92" fill="#2c24ba"/>
<rect x="154.40" y="69.23" width="3.06" height="2.92" fill="#261cae"/>
<rect x="157.41" y="69.23" width="3.06" height="2.92" fill="#1e16a2"/>
<rect x="160.42" y="69.23" width="3.06" height="2.92" fill="#2c24ba"/>
<rect x="163.42" y="69.23" width="3.06" height="2.92" fill="#261cae"/>
<rect x="166.43" y="69.23" width="3.06" height="2.92" fill="#2c24ba"/>
<rect x="169.44" y="69.23" width="3.06" height="2.92" fill="#1e16a2"/>
<rect x="172.45" y="69.23" width="3.06" height="2.92" fill="#1e16a2"/>
<rect x="175.45" y="69.23" width="3.06" height="2.92" fill="#2c24ba"/>
<rect x="178.46" y="69.23" width="3.06" height="2.92" fill="#381ca2"/>
<rect x="181.47" y="69.23" width="3.06" height="2.92" fill="#1a1298"/>
<rect x="184.48" y="69.23" width="3.06" height="2.92" fill="#2c24ba"/>
<rect x="187.49" y="69.23" width="3.06" height="2.92" fill="#261cae"/>
<rect x="190.49" y="69.23" width="3.06" height="2.92" fill="#261cae"/>
<rect x="193.50" y="69.23" width="3.06" height="2.92" fill="#1e16a2"/>
<rect x="196.51" y="69.23" width="3.06" height="2.92" fill="#1e16a2"/>
<rect x="199.52" y="69.23" width="3.06" height="2.92" fill="#381ca2"/>
<rect x="202.52" y="69.23" width="3.06" height="2.92" fill="#261cae"/>
<rect x="205.53" y="69.23" width="3.06" height="2.92" fill="#2226b4"/>
<rect x="208.54" y="69.23" width="3.06" height="2.92" fill="#2c24ba"/>
<rect x="211.55" y="69.23" width="3.06" height="2.92" fill="#1e16a2"/>
<rect x="214.56" y="69.23" width="3.06" height="2.92" fill="#381ca2"/>
<rect x="217.56" y="69.23" width="3.06" height="2.92" fill="#381ca2"/>
<rect x="220.57" y="69.23" width="3.06" height="2.92" fill="#3832c0"/>
<rect x="223.58" y="69.23" width="3.06" height="2.92" fill="#2226b4"/>
<rect x="226.59" y="69.23" width="3.06" height="2.92" fill="#381ca2"/>
<rect x="229.60" y="69.23" width="3.06" height="2.92" fill="#261cae"/>
<rect x="232.60" y="69.23" width="3.06" height="2.92" fill="#261cae"/>
<rect x="235.61" y="69.23" width="3.06" height="2.92" fill="#1a1298"/>
<rect x="238.62" y="69.23" width="3.06" height="2.92" fill="#1a1298"/>
<rect x="241.63" y="69.23" width="3.06" height="2.92" fill="#3e38c6"/>
<rect x="244.63" y="69.23" width="3.06" height="2.92" fill="#f07a80"/>
<rect x="247.64" y="69.23" width="3.06" height="2.92" fill="#f4d0da"/>
<rect x="250.65" y="69.23" width="3.06" height="2.92" fill="#ec848e"/>
<rect x="253.66" y="69.23" width="3.06" height="2.92" fill="#f4d0da"/>
<rect x="256.67" y="69.23" width="3.06" height="2.92" fill="#f0d8e6"/>
<rect x="259.67" y="69.23" width="3.06" height="2.92" fill="#f0d8e6"/>
<rect x="262.68" y="69.23" width="3.06" height="2.92" fill="#ec848e"/>
<rect x="265.69" y="69.23" width="3.06" height="2.92" fill="#d42d32"/>
<rect x="268.70" y="69.23" width="3.06" height="2.92" fill="#de4141"/>
<rect x="271.70" y="69.23" width="3.06" height="2.92" fill="#f4d0da"/>
<rect x="274.71" y="69.23" width="3.06" height="2.92" fill="#f0d8e6"/>
<rect x="277.72" y="69.23" width="3.06" height="2.92" fill="#e696a0"/>
<rect x="280.73" y="69.23" width="3.06" height="2.92" fill="#de4141"/>
<rect x="283.74" y="69.23" width="3.06" height="2.92" fill="#f6dee8"/>
<rect x="286.74" y="69.23" width="3.06" height="2.92" fill="#f07a80"/>
<rect x="289.75" y="69.23" width="3.06" height="2.92" fill="#d42d32"/>
<rect x="292.76" y="69.23" width="3.06" height="2.92" fill="#de4141"/>
<rect x="295.77" y="69.23" width="3.06" height="2.92" fill="#f07a80"/>
<rect x="298.78" y="69.23" width="3.06" height="2.92" fill="#c31923"/>
<rect x="301.78" y="69.23" width="3.06" height="2.92" fill="#e65a55"/>
<rect x="304.79" y="69.23" width="3.06" height="2.92" fill="#ec848e"/>
<rect x="307.80" y="69.23" width="3.06" height="2.92" fill="#f6dee8"/>
<rect x="310.81" y="69.23" width="3.06" height="2.92" fill="#e696a0"/>
<rect x="313.81" y="69.23" width="3.06" height="2.92" fill="#e65a55"/>
<rect x="316.82" y="69.23" width="3.06" height="2.92" fill="#f4d0da"/>
<rect x="319.83" y="69.23" width="3.06" height="2.92" fill="#f0d8e6"/>
<rect x="322.84" y="69.23" width="3.06" height="2.92" fill="#ec848e"/>
<rect x="325.85" y="69.23" width="3.06" height="2.92" fill="#f07a80"/>
<rect x="328.85" y="69.23" width="3.06" height="2.92" fill="#f4d0da"/>
<rect x="331.86" y="69.23" width="3.06" height="2.92" fill="#1e16a2"/>
<rect x="334.87" y="69.23" width="3.06" height="2.92" fill="#2c24ba"/>
<rect x="337.88" y="69.23" width="3.06" height="2.92" fill="#381ca2"/>
<rect x="340.88" y="69.23" width="3.06" height="2.92" fill="#261cae"/>
<rect x="343.89" y="69.23" width="3.06" height="2.92" fill="#2c24ba"/>
<rect x="346.90" y="69.23" width="3.06" height="2.92" fill="#1a1298"/>
<rect x="349.91" y="69.23" width="3.06" height="2.92" fill="#1e16a2"/>
<rect x="352.92" y="69.23" width="3.06" height="2.92" fill="#261cae"/>
<rect x="355.92" y="69.23" width="3.06" height="2.92" fill="#261cae"/>
<rect x="358.93" y="69.23" width="3.06" height="2.92" fill="#2226b4"/>
<rect x="361.94" y="69.23" width="3.06" height="2.92" fill="#261cae"/>
<rect x="364.95" y="69.23" width="3.06" height="2.92" fill="#1e16a2"/>
<rect x="367.96" y="69.23" width="3.06" height="2.92" fill="#381ca2"/>
<rect x="370.96" y="69.23" width="3.06" height="2.92" fill="#2226b4"/>
<rect x="373.97" y="69.23" width="3.06" height="2.92" fill="#1e16a2"/>
<rect x="376.98" y="69.23" width="3.06" height="2.92" fill="#2226b4"/>
<rect x="379.99" y="69.23" width="3.06" height="2.92" fill="#1a1298"/>
<rect x="382.99" y="69.23" width="3.06" height="2.92" fill="#1e16a2"/>
<rect x="386.00" y="69.23" width="3.06" height="2.92" fill="#2c24ba"/>
<rect x="389.01" y="69.23" width="3.06" height="2.92" fill="#381ca2"/>
<rect x="392.02" y="69.23" width="3.06" height="2.92" fill="#2c24ba"/>
<rect x="395.03" y="69.23" width="3.06" height="2.92" fill="#381ca2"/>
<rect x="398.03" y="69.23" width="3.06" height="2.92" fill="#2226b4"/>
<rect x="401.04" y="69.23" width="3.06" height="2.92" fill="#1a1298"/>
<rect x="404.05" y="69.23" width="3.06" height="2.92" fill="#2226b4"/>
<rect x="407.06" y="69.23" width="3.06" height="2.92" fill="#2c24ba"/>
<rect x="410.07" y="69.23" width="3.06" height="2.92" fill="#1a1298"/>
<rect x="413.07" y="69.23" width="3.06" height="2.92" fill="#381ca2"/>
<rect x="416.08" y="69.23" width="3.06" height="2.92" fill="#261cae"/>
<rect x="419.09" y="69.23" width="3.06" height="2.92" fill="#2c24ba"/>
<rect x="422.10" y="69.23" width="3.06" height="2.92" fill="#2c24ba"/>
<rect x="425.10" y="69.23" width="3.06" height="2.92" fill="#2226b4"/>
<rect x="428.11" y="69.23" width="3.06" height="2.92" fill="#1a1298"/>
<rect x="431.12" y="69.23" width="3.06" height="2.92" fill="#2c24ba"/>
<rect x="434.13" y="69.23" width="3.06" height="2.92" fill="#381ca2"/>
<rect x="437.14" y="69.23" width="3.06" height="2.92" fill="#2c24ba"/>
<rect x="440.14" y="69.23" width="3.06" height="2.92" fill="#8780e1"/>
<rect x="443.15" y="69.23" width="3.06" height="2.92" fill="#1e16a2"/>
<rect x="446.16" y="69.23" width="3.06" height="2.92" fill="#1e16a2"/>
<rect x="449.17" y="69.23" width="3.06" height="2.92" fill="#381ca2"/>
<rect x="452.17" y="69.23" width="3.06" height="2.92" fill="#2c24ba"/>
<rect x="455.18" y="69.23" width="3.06" height="2.92" fill="#2c24ba"/>
<rect x="458.19" y="69.23" width="3.06" height="2.92" fill="#3e38c6"/>
<rect x="461.20" y="69.23" width="3.06" height="2.92" fill="#2c24ba"/>
<rect x="464.21" y="69.23" width="3.06" height="2.92" fill="#381ca2"/>
<rect x="467.21" y="69.23" width="3.06" height="2.92" fill="#2c24ba"/>
<rect x="470.22" y="69.23" width="3.06" height="2.92" fill="#261cae"/>
<rect x="473.23" y="69.23" width="3.06" height="2.92" fill="#2c24ba"/>
<rect x="476.24" y="69.23" width="3.06" height="2.92" fill="#2c24ba"/>
<rect x="479.25" y="69.23" width="3.06" height="2.92" fill="#1e16a2"/>
<rect x="482.25" y="69.23" width="3.06" height="2.92" fill="#1e16a2"/>
<rect x="485.26" y="69.23" width="3.06" height="2.92" fill="#261cae"/>
<rect x="488.27" y="69.23" width="3.06" height="2.92" fill="#1a1298"/>
<rect x="491.28" y="69.23" width="3.06" height="2.92" fill="#783ca0"/>
<rect x="494.28" y="69.23" width="3.06" height="2.92" fill="#1a1298"/>
<rect x="497.29" y="69.23" width="3.06" height="2.92" fill="#1e16a2"/>
<rect x="1.00" y="72.10" width="3.06" height="2.92" fill="#e8a5b2"/>
<rect x="4.01" y="72.10" width="3.06" height="2.92" fill="#381ca2"/>
<rect x="7.02" y="72.10" width="3.06" height="2.92" fill="#381ca2"/>
<rect x="10.02" y="72.10" width="3.06" height="2.92" fill="#2226b4"/>
<rect x="13.03" y="72.10" width="3.06" height="2.92" fill="#3e38c6"/>
<rect x="16.04" y="72.10" width="3.06" height="2.92" fill="#1e16a2"/>
<rect x="19.05" y="72.10" width="3.06" height="2.92" fill="#2226b4"/>
<rect x="22.05" y="72.10" width="3.06" height="2.92" fill="#3e38c6"/>
<rect x="25.06" y="72.10" width="3.06" height="2.92" fill="#8780e1"/>
<rect x="28.07" y="72.10" width="3.06" height="2.92" fill="#2226b4"/>
<rect x="31.08" y="72.10" width="3.06" height="2.92" fill="#1a1298"/>
<rect x="34.09" y="72.10" width="3.06" height="2.92" fill="#2226b4"/>
<rect x="37.09" y="72.10" width="3.06" height="2.92" fill="#381ca2"/>
<rect x="40.10" y="72.10" width="3.06" height="2.92" fill="#ee96a0"/>
<rect x="43.11" y="72.10" width="3.06" height="2.92" fill="#8780e1"/>
<rect x="46.12" y="72.10" width="3.06" height="2.92" fill="#4842ce"/>
<rect x="49.13" y="72.10" width="3.06" height="2.92" fill="#2c24ba"/>
<rect x="52.13" y="72.10" width="3.06" height="2.92" fill="#2226b4"/>
<rect x="55.14" y="72.10" width="3.06" height="2.92" fill="#261cae"/>
<rect x="58.15" y="72.10" width="3.06" height="2.92" fill="#1e16a2"/>
<rect x="61.16" y="72.10" width="3.06" height="2.92" fill="#1e16a2"/>
<rect x="64.16" y="72.10" width="3.06" height="2.92" fill="#381ca2"/>
<rect x="67.17" y="72.10" width="3.06" height="2.92" fill="#4842ce"/>
<rect x="70.18" y="72.10" width="3.06" height="2.92" fill="#2226b4"/>
<rect x="73.19" y="72.10" width="3.06" height="2.92" fill="#1e16a2"/>
<rect x="76.20" y="72.10" width="3.06" height="2.92" fill="#8780e1"/>
<rect x="79.20" y="72.10" width="3.06" height="2.92" fill="#261cae"/>
<rect x="82.21" y="72.10" width="3.06" height="2.92" fill="#3832c0"/>
<rect x="85.22" y="72.10" width="3.06" height="2.92" fill="#1a1298"/>
<rect x="88.23" y="72.10" width="3.06" height="2.92" fill="#261cae"/>
<rect x="91.23" y="72.10" width="3.06" height="2.92" fill="#968ee6"/>
<rect x="94.24" y="72.10" width="3.06" height="2.92" fill="#2226b4"/>
<rect x="97.25" y="72.10" width="3.06" height="2.92" fill="#e1d0eb"/>
<rect x="100.26" y="72.10" width="3.06" height="2.92" fill="#e1d0eb"/>
<rect x="103.27" y="72.10" width="3.06" height="2.92" fill="#1a1298"/>
<rect x="106.27" y="72.10" width="3.06" height="2.92" fill="#f2878c"/>
<rect x="109.28" y="72.10" width="3.06" height="2.92" fill="#d42d32"/>
<rect x="112.29" y="72.10" width="3.06" height="2.92" fill="#261cae"/>
<rect x="115.30" y="72.10" width="3.06" height="2.92" fill="#7a74dc"/>
<rect x="118.31" y="72.10" width="3.06" height="2.92" fill="#381ca2"/>
<rect x="121.31" y="72.10" width="3.06" height="2.92" fill="#1a1298"/>
<rect x="124.32" y="72.10" width="3.06" height="2.92" fill="#2c24ba"/>
<rect x="127.33" y="72.10" width="3.06" height="2.92" fill="#261cae"/>
<rect x="130.34" y="72.10" width="3.06" height="2.92" fill="#1a1298"/>
<rect x="133.34" y="72.10" width="3.06" height="2.92" fill="#4842ce"/>
<rect x="136.35" y="72.10" width="3.06" height="2.92" fill="#2c24ba"/>
<rect x="139.36" y="72.10" width="3.06" height="2.92" fill="#261cae"/>
<rect x="142.37" y="72.10" width="3.06" height="2.92" fill="#381ca2"/>
<rect x="145.38" y="72.10" width="3.06" height="2.92" fill="#1a1298"/>
<rect x="148.38" y="72.10" width="3.06" height="2.92" fill="#e65a55"/>
<rect x="151.39" y="72.10" width="3.06" height="2.92" fill="#e65a55"/>
<rect x="154.40" y="72.10" width="3.06" height="2.92" fill="#261cae"/>
<rect x="157.41" y="72.10" width="3.06" height="2.92" fill="#1a1298"/>
<rect x="160.42" y="72.10" width="3.06" height="2.92" fill="#1a1298"/>
<rect x="163.42" y="72.10" width="3.06" height="2.92" fill="#1e16a2"/>
<rect x="166.43" y="72.10" width="3.06" height="2.92" fill="#261cae"/>
<rect x="169.44" y="72.10" width="3.06" height="2.92" fill="#261cae"/>
<rect x="172.45" y="72.10" width="3.06" height="2.92" fill="#7a74dc"/>
<rect x="175.45" y="72.10" width="3.06" height="2.92" fill="#261cae"/>
<rect x="178.46" y="72.10" width="3.06" height="2.92" fill="#2226b4"/>
<rect x="181.47" y="72.10" width="3.06" height="2.92" fill="#1a1298"/>
<rect x="184.48" y="72.10" width="3.06" height="2.92" fill="#2226b4"/>
<rect x="187.49" y="72.10" width="3.06" height="2.92" fill="#1a1298"/>
<rect x="190.49" y="72.10" width="3.06" height="2.92" fill="#e8a5b2"/>
<rect x="193.50" y="72.10" width="3.06" height="2.92" fill="#261cae"/>
<rect x="196.51" y="72.10" width="3.06" height="2.92" fill="#1a1298"/>
<rect x="199.52" y="72.10" width="3.06" height="2.92" fill="#1e16a2"/>
<rect x="202.52" y="72.10" width="3.06" height="2.92" fill="#4842ce"/>
<rect x="205.53" y="72.10" width="3.06" height="2.92" fill="#1e16a2"/>
<rect x="208.54" y="72.10" width="3.06" height="2.92" fill="#e65a55"/>
<rect x="211.55" y="72.10" width="3.06" height="2.92" fill="#d7cdee"/>
<rect x="214.56" y="72.10" width="3.06" height="2.92" fill="#2c24ba"/>
<rect x="217.56" y="72.10" width="3.06" height="2.92" fill="#4842ce"/>
<rect x="220.57" y="72.10" width="3.06" height="2.92" fill="#f07a80"/>
<rect x="223.58" y="72.10" width="3.06" height="2.92" fill="#f07a80"/>
<rect x="226.59" y="72.10" width="3.06" height="2.92" fill="#f6dee8"/>
<rect x="229.60" y="72.10" width="3.06" height="2.92" fill="#ec848e"/>
<rect x="232.60" y="72.10" width="3.06" height="2.92" fill="#1a1298"/>
<rect x="235.61" y="72.10" width="3.06" height="2.92" fill="#f6dee8"/>
<rect x="238.62" y="72.10" width="3.06" height="2.92" fill="#f07a80"/>
<rect x="241.63" y="72.10" width="3.06" height="2.92" fill="#2c24ba"/>
<rect x="244.63" y="72.10" width="3.06" height="2.92" fill="#e65a55"/>
<rect x="247.64" y="72.10" width="3.06" height="2.92" fill="#e696a0"/>
<rect x="250.65" y="72.10" width="3.06" height="2.92" fill="#e696a0"/>
<rect x="253.66" y="72.10" width="3.06" height="2.92" fill="#b4141e"/>
<rect x="256.67" y="72.10" width="3.06" height="2.92" fill="#f0d8e6"/>
<rect x="259.67" y="72.10" width="3.06" height="2.92" fill="#f07a80"/>
<rect x="262.68" y="72.10" width="3.06" height="2.92" fill="#3e38c6"/>
<rect x="265.69" y="72.10" width="3.06" height="2.92" fill="#d42d32"/>
<rect x="268.70" y="72.10" width="3.06" height="2.92" fill="#d42d32"/>
<rect x="271.70" y="72.10" width="3.06" height="2.92" fill="#de4141"/>
<rect x="274.71" y="72.10" width="3.06" height="2.92" fill="#d42d32"/>
<rect x="277.72" y="72.10" width="3.06" height="2.92" fill="#de4141"/>
<rect x="280.73" y="72.10" width="3.06" height="2.92" fill="#de4141"/>
<rect x="283.74" y="72.10" width="3.06" height="2.92" fill="#f6dee8"/>
<rect x="286.74" y="72.10" width="3.06" height="2.92" fill="#f6dee8"/>
<rect x="289.75" y="72.10" width="3.06" height="2.92" fill="#de4141"/>
<rect x="292.76" y="72.10" width="3.06" height="2.92" fill="#e696a0"/>
<rect x="295.77" y="72.10" width="3.06" height="2.92" fill="#e65a55"/>
<rect x="298.78" y="72.10" width="3.06" height="2.92" fill="#d42d32"/>
<rect x="301.78" y="72.10" width="3.06" height="2.92" fill="#d42d32"/>
<rect x="304.79" y="72.10" width="3.06" height="2.92" fill="#f6dee8"/>
<rect x="307.80" y="72.10" width="3.06" height="2.92" fill="#4842ce"/>
<rect x="310.81" y="72.10" width="3.06" height="2.92" fill="#968ee6"/>
<rect x="313.81" y="72.10" width="3.06" height="2.92" fill="#3832c0"/>
<rect x="316.82" y="72.10" width="3.06" height="2.92" fill="#2226b4"/>
<rect x="319.83" y="72.10" width="3.06" height="2.92" fill="#de4141"/>
<rect x="322.84" y="72.10" width="3.06" height="2.92" fill="#f07a80"/>
<rect x="325.85" y="72.10" width="3.06" height="2.92" fill="#ec848e"/>
<rect x="328.85" y="72.10" width="3.06" height="2.92" fill="#f4d0da"/>
<rect x="331.86" y="72.10" width="3.06" height="2.92" fill="#3e38c6"/>
<rect x="334.87" y="72.10" width="3.06" height="2.92" fill="#1a1298"/>
<rect x="337.88" y="72.10" width="3.06" height="2.92" fill="#f6dee8"/>
<rect x="340.88" y="72.10" width="3.06" height="2.92" fill="#2226b4"/>
<rect x="343.89" y="72.10" width="3.06" height="2.92" fill="#f0d8e6"/>
<rect x="346.90" y="72.10" width="3.06" height="2.92" fill="#2c24ba"/>
<rect x="349.91" y="72.10" width="3.06" height="2.92" fill="#f07a80"/>
<rect x="352.92" y="72.10" width="3.06" height="2.92" fill="#1a1298"/>
<rect x="355.92" y="72.10" width="3.06" height="2.92" fill="#1e16a2"/>
<rect x="358.93" y="72.10" width="3.06" height="2.92" fill="#261cae"/>
<rect x="361.94" y="72.10" width="3.06" height="2.92" fill="#2c24ba"/>
<rect x="364.95" y="72.10" width="3.06" height="2.92" fill="#261cae"/>
<rect x="367.96" y="72.10" width="3.06" height="2.92" fill="#381ca2"/>
<rect x="370.96" y="72.10" width="3.06" height="2.92" fill="#2226b4"/>
<rect x="373.97" y="72.10" width="3.06" height="2.92" fill="#1e16a2"/>
<rect x="376.98" y="72.10" width="3.06" height="2.92" fill="#f4d0da"/>
<rect x="379.99" y="72.10" width="3.06" height="2.92" fill="#1e16a2"/>
<rect x="382.99" y="72.10" width="3.06" height="2.92" fill="#1e16a2"/>
<rect x="386.00" y="72.10" width="3.06" height="2.92" fill="#381ca2"/>
<rect x="389.01" y="72.10" width="3.06" height="2.92" fill="#1a1298"/>
<rect x="392.02" y="72.10" width="3.06" height="2.92" fill="#1a1298"/>
<rect x="395.03" y="72.10" width="3.06" height="2.92" fill="#8780e1"/>
<rect x="398.03" y="72.10" width="3.06" height="2.92" fill="#381ca2"/>
<rect x="401.04" y="72.10" width="3.06" height="2.92" fill="#7a74dc"/>
<rect x="404.05" y="72.10" width="3.06" height="2.92" fill="#381ca2"/>
<rect x="407.06" y="72.10" width="3.06" height="2.92" fill="#3e38c6"/>
<rect x="410.07" y="72.10" width="3.06" height="2.92" fill="#2c24ba"/>
<rect x="413.07" y="72.10" width="3.06" height="2.92" fill="#381ca2"/>
<rect x="416.08" y="72.10" width="3.06" height="2.92" fill="#1a1298"/>
<rect x="419.09" y="72.10" width="3.06" height="2.92" fill="#4842ce"/>
<rect x="422.10" y="72.10" width="3.06" height="2.92" fill="#261cae"/>
<rect x="425.10" y="72.10" width="3.06" height="2.92" fill="#261cae"/>
<rect x="428.11" y="72.10" width="3.06" height="2.92" fill="#7a74dc"/>
<rect x="431.12" y="72.10" width="3.06" height="2.92" fill="#381ca2"/>
<rect x="434.13" y="72.10" width="3.06" height="2.92" fill="#d7cdee"/>
<rect x="437.14" y="72.10" width="3.06" height="2.92" fill="#261cae"/>
<rect x="440.14" y="72.10" width="3.06" height="2.92" fill="#261cae"/>
<rect x="443.15" y="72.10" width="3.06" height="2.92" fill="#1e16a2"/>
<rect x="446.16" y="72.10" width="3.06" height="2.92" fill="#261cae"/>
<rect x="449.17" y="72.10" width="3.06" height="2.92" fill="#2226b4"/>
<rect x="452.17" y="72.10" width="3.06" height="2.92" fill="#261cae"/>
<rect x="455.18" y="72.10" width="3.06" height="2.92" fill="#e8a5b2"/>
<rect x="458.19" y="72.10" width="3.06" height="2.92" fill="#1e16a2"/>
<rect x="461.20" y="72.10" width="3.06" height="2.92" fill="#1e16a2"/>
<rect x="464.21" y="72.10" width="3.06" height="2.92" fill="#2226b4"/>
<rect x="467.21" y="72.10" width="3.06" height="2.92" fill="#3e38c6"/>
<rect x="470.22" y="72.10" width="3.06" height="2.92" fill="#2226b4"/>
<rect x="473.23" y="72.10" width="3.06" height="2.92" fill="#1a1298"/>
<rect x="476.24" y="72.10" width="3.06" height="2.92" fill="#3832c0"/>
<rect x="479.25" y="72.10" width="3.06" height="2.92" fill="#1a1298"/>
<rect x="482.25" y="72.10" width="3.06" height="2.92" fill="#1e16a2"/>
<rect x="485.26" y="72.10" width="3.06" height="2.92" fill="#e1d0eb"/>
<rect x="488.27" y="72.10" width="3.06" height="2.92" fill="#968ee6"/>
<rect x="491.28" y="72.10" width="3.06" height="2.92" fill="#381ca2"/>
<rect x="494.28" y="72.10" width="3.06" height="2.92" fill="#7a74dc"/>
<rect x="497.29" y="72.10" width="3.06" height="2.92" fill="#381ca2"/>
<rect x="1.00" y="74.97" width="3.06" height="2.92" fill="#f2878c"/>
<rect x="4.01" y="74.97" width="3.06" height="2.92" fill="#ebdef2"/>
<rect x="7.02" y="74.97" width="3.06" height="2.92" fill="#2c24ba"/>
<rect x="10.02" y="74.97" width="3.06" height="2.92" fill="#381ca2"/>
<rect x="13.03" y="74.97" width="3.06" height="2.92" fill="#ebdef2"/>
<rect x="16.04" y="74.97" width="3.06" height="2.92" fill="#2226b4"/>
<rect x="19.05" y="74.97" width="3.06" height="2.92" fill="#2c24ba"/>
<rect x="22.05" y="74.97" width="3.06" height="2.92" fill="#e1d0eb"/>
<rect x="25.06" y="74.97" width="3.06" height="2.92" fill="#e1d0eb"/>
<rect x="28.07" y="74.97" width="3.06" height="2.92" fill="#1e16a2"/>
<rect x="31.08" y="74.97" width="3.06" height="2.92" fill="#1e16a2"/>
<rect x="34.09" y="74.97" width="3.06" height="2.92" fill="#8780e1"/>
<rect x="37.09" y="74.97" width="3.06" height="2.92" fill="#4842ce"/>
<rect x="40.10" y="74.97" width="3.06" height="2.92" fill="#1e16a2"/>
<rect x="43.11" y="74.97" width="3.06" height="2.92" fill="#e8a5b2"/>
<rect x="46.12" y="74.97" width="3.06" height="2.92" fill="#261cae"/>
<rect x="49.13" y="74.97" width="3.06" height="2.92" fill="#261cae"/>
<rect x="52.13" y="74.97" width="3.06" height="2.92" fill="#8780e1"/>
<rect x="55.14" y="74.97" width="3.06" height="2.92" fill="#1e16a2"/>
<rect x="58.15" y="74.97" width="3.06" height="2.92" fill="#1e16a2"/>
<rect x="61.16" y="74.97" width="3.06" height="2.92" fill="#1e16a2"/>
<rect x="64.16" y="74.97" width="3.06" height="2.92" fill="#381ca2"/>
<rect x="67.17" y="74.97" width="3.06" height="2.92" fill="#381ca2"/>
<rect x="70.18" y="74.97" width="3.06" height="2.92" fill="#2226b4"/>
<rect x="73.19" y="74.97" width="3.06" height="2.92" fill="#261cae"/>
<rect x="76.20" y="74.97" width="3.06" height="2.92" fill="#e1d0eb"/>
<rect x="79.20" y="74.97" width="3.06" height="2.92" fill="#2c24ba"/>
<rect x="82.21" y="74.97" width="3.06" height="2.92" fill="#3e38c6"/>
<rect x="85.22" y="74.97" width="3.06" height="2.92" fill="#381ca2"/>
<rect x="88.23" y="74.97" width="3.06" height="2.92" fill="#ebdef2"/>
<rect x="91.23" y="74.97" width="3.06" height="2.92" fill="#2226b4"/>
<rect x="94.24" y="74.97" width="3.06" height="2.92" fill="#381ca2"/>
<rect x="97.25" y="74.97" width="3.06" height="2.92" fill="#968ee6"/>
<rect x="100.26" y="74.97" width="3.06" height="2.92" fill="#ebdef2"/>
<rect x="103.27" y="74.97" width="3.06" height="2.92" fill="#2c24ba"/>
<rect x="106.27" y="74.97" width="3.06" height="2.92" fill="#ebdef2"/>
<rect x="109.28" y="74.97" width="3.06" height="2.92" fill="#261cae"/>
<rect x="112.29" y="74.97" width="3.06" height="2.92" fill="#381ca2"/>
<rect x="115.30" y="74.97" width="3.06" height="2.92" fill="#d7cdee"/>
<rect x="118.31" y="74.97" width="3.06" height="2.92" fill="#1e16a2"/>
<rect x="121.31" y="74.97" width="3.06" height="2.92" fill="#1a1298"/>
<rect x="124.32" y="74.97" width="3.06" height="2.92" fill="#2226b4"/>
<rect x="127.33" y="74.97" width="3.06" height="2.92" fill="#1e16a2"/>
<rect x="130.34" y="74.97" width="3.06" height="2.92" fill="#2226b4"/>
<rect x="133.34" y="74.97" width="3.06" height="2.92" fill="#2c24ba"/>
<rect x="136.35" y="74.97" width="3.06" height="2.92" fill="#2226b4"/>
<rect x="139.36" y="74.97" width="3.06" height="2.92" fill="#381ca2"/>
<rect x="142.37" y="74.97" width="3.06" height="2.92" fill="#1e16a2"/>
<rect x="145.38" y="74.97" width="3.06" height="2.92" fill="#2c24ba"/>
<rect x="148.38" y="74.97" width="3.06" height="2.92" fill="#2c24ba"/>
<rect x="151.39" y="74.97" width="3.06" height="2.92" fill="#968ee6"/>
<rect x="154.40" y="74.97" width="3.06" height="2.92" fill="#2c24ba"/>
<rect x="157.41" y="74.97" width="3.06" height="2.92" fill="#1e16a2"/>
<rect x="160.42" y="74.97" width="3.06" height="2.92" fill="#2226b4"/>
<rect x="163.42" y="74.97" width="3.06" height="2.92" fill="#2226b4"/>
<rect x="166.43" y="74.97" width="3.06" height="2.92" fill="#2c24ba"/>
<rect x="169.44" y="74.97" width="3.06" height="2.92" fill="#261cae"/>
<rect x="172.45" y="74.97" width="3.06" height="2.92" fill="#261cae"/>
<rect x="175.45" y="74.97" width="3.06" height="2.92" fill="#1e16a2"/>
<rect x="178.46" y="74.97" width="3.06" height="2.92" fill="#1a1298"/>
<rect x="181.47" y="74.97" width="3.06" height="2.92" fill="#261cae"/>
<rect x="184.48" y="74.97" width="3.06" height="2.92" fill="#2226b4"/>
<rect x="187.49" y="74.97" width="3.06" height="2.92" fill="#1e16a2"/>
<rect x="190.49" y="74.97" width="3.06" height="2.92" fill="#e1d0eb"/>
<rect x="193.50" y="74.97" width="3.06" height="2.92" fill="#1a1298"/>
<rect x="196.51" y="74.97" width="3.06" height="2.92" fill="#2226b4"/>
<rect x="199.52" y="74.97" width="3.06" height="2.92" fill="#2226b4"/>
<rect x="202.52" y="74.97" width="3.06" height="2.92" fill="#1a1298"/>
<rect x="205.53" y="74.97" width="3.06" height="2.92" fill="#2226b4"/>
<rect x="208.54" y="74.97" width="3.06" height="2.92" fill="#e1d0eb"/>
<rect x="211.55" y="74.97" width="3.06" height="2.92" fill="#1a1298"/>
<rect x="214.56" y="74.97" width="3.06" height="2.92" fill="#2226b4"/>
<rect x="217.56" y="74.97" width="3.06" height="2.92" fill="#381ca2"/>
<rect x="220.57" y="74.97" width="3.06" height="2.92" fill="#f6dee8"/>
<rect x="223.58" y="74.97" width="3.06" height="2.92" fill="#e696a0"/>
<rect x="226.59" y="74.97" width="3.06" height="2.92" fill="#968ee6"/>
<rect x="229.60" y="74.97" width="3.06" height="2.92" fill="#4842ce"/>
<rect x="232.60" y="74.97" width="3.06" height="2.92" fill="#1a1298"/>
<rect x="235.61" y="74.97" width="3.06" height="2.92" fill="#7a74dc"/>
<rect x="238.62" y="74.97" width="3.06" height="2.92" fill="#4842ce"/>
<rect x="241.63" y="74.97" width="3.06" height="2.92" fill="#261cae"/>
<rect x="244.63" y="74.97" width="3.06" height="2.92" fill="#de4141"/>
<rect x="247.64" y="74.97" width="3.06" height="2.92" fill="#e65a55"/>
<rect x="250.65" y="74.97" width="3.06" height="2.92" fill="#f4d0da"/>
<rect x="253.66" y="74.97" width="3.06" height="2.92" fill="#de4141"/>
<rect x="256.67" y="74.97" width="3.06" height="2.92" fill="#e696a0"/>
<rect x="259.67" y="74.97" width="3.06" height="2.92" fill="#de4141"/>
<rect x="262.68" y="74.97" width="3.06" height="2.92" fill="#e65a55"/>
<rect x="265.69" y="74.97" width="3.06" height="2.92" fill="#de4141"/>
<rect x="268.70" y="74.97" width="3.06" height="2.92" fill="#de4141"/>
<rect x="271.70" y="74.97" width="3.06" height="2.92" fill="#e65a55"/>
<rect x="274.71" y="74.97" width="3.06" height="2.92" fill="#d42d32"/>
<rect x="277.72" y="74.97" width="3.06" height="2.92" fill="#de4141"/>
<rect x="280.73" y="74.97" width="3.06" height="2.92" fill="#d42d32"/>
<rect x="283.74" y="74.97" width="3.06" height="2.92" fill="#f0d8e6"/>
<rect x="286.74" y="74.97" width="3.06" height="2.92" fill="#4842ce"/>
<rect x="289.75" y="74.97" width="3.06" height="2.92" fill="#f4d0da"/>
<rect x="292.76" y="74.97" width="3.06" height="2.92" fill="#e696a0"/>
<rect x="295.77" y="74.97" width="3.06" height="2.92" fill="#e65a55"/>
<rect x="298.78" y="74.97" width="3.06" height="2.92" fill="#f6dee8"/>
<rect x="301.78" y="74.97" width="3.06" height="2.92" fill="#e65a55"/>
<rect x="304.79" y="74.97" width="3.06" height="2.92" fill="#f07a80"/>
<rect x="307.80" y="74.97" width="3.06" height="2.92" fill="#3832c0"/>
<rect x="310.81" y="74.97" width="3.06" height="2.92" fill="#2c24ba"/>
<rect x="313.81" y="74.97" width="3.06" height="2.92" fill="#4842ce"/>
<rect x="316.82" y="74.97" width="3.06" height="2.92" fill="#4842ce"/>
<rect x="319.83" y="74.97" width="3.06" height="2.92" fill="#de4141"/>
<rect x="322.84" y="74.97" width="3.06" height="2.92" fill="#f4d0da"/>
<rect x="325.85" y="74.97" width="3.06" height="2.92" fill="#e696a0"/>
<rect x="328.85" y="74.97" width="3.06" height="2.92" fill="#f6dee8"/>
<rect x="331.86" y="74.97" width="3.06" height="2.92" fill="#261cae"/>
<rect x="334.87" y="74.97" width="3.06" height="2.92" fill="#4842ce"/>
<rect x="337.88" y="74.97" width="3.06" height="2.92" fill="#f0d8e6"/>
<rect x="340.88" y="74.97" width="3.06" height="2.92" fill="#261cae"/>
<rect x="343.89" y="74.97" width="3.06" height="2.92" fill="#e696a0"/>
<rect x="346.90" y="74.97" width="3.06" height="2.92" fill="#381ca2"/>
<rect x="349.91" y="74.97" width="3.06" height="2.92" fill="#f6dee8"/>
<rect x="352.92" y="74.97" width="3.06" height="2.92" fill="#1e16a2"/>
<rect x="355.92" y="74.97" width="3.06" height="2.92" fill="#381ca2"/>
<rect x="358.93" y="74.97" width="3.06" height="2.92" fill="#261cae"/>
<rect x="361.94" y="74.97" width="3.06" height="2.92" fill="#261cae"/>
<rect x="364.95" y="74.97" width="3.06" height="2.92" fill="#1e16a2"/>
<rect x="367.96" y="74.97" width="3.06" height="2.92" fill="#1e16a2"/>
<rect x="370.96" y="74.97" width="3.06" height="2.92" fill="#1e16a2"/>
<rect x="373.97" y="74.97" width="3.06" height="2.92" fill="#1e16a2"/>
<rect x="376.98" y="74.97" width="3.06" height="2.92" fill="#381ca2"/>
<rect x="379.99" y="74.97" width="3.06" height="2.92" fill="#3e38c6"/>
<rect x="382.99" y="74.97" width="3.06" height="2.92" fill="#1a1298"/>
<rect x="386.00" y="74.97" width="3.06" height="2.92" fill="#e1d0eb"/>
<rect x="389.01" y="74.97" width="3.06" height="2.92" fill="#968ee6"/>
<rect x="392.02" y="74.97" width="3.06" height="2.92" fill="#1e16a2"/>
<rect x="395.03" y="74.97" width="3.06" height="2.92" fill="#8780e1"/>
<rect x="398.03" y="74.97" width="3.06" height="2.92" fill="#1e16a2"/>
<rect x="401.04" y="74.97" width="3.06" height="2.92" fill="#261cae"/>
<rect x="404.05" y="74.97" width="3.06" height="2.92" fill="#2226b4"/>
<rect x="407.06" y="74.97" width="3.06" height="2.92" fill="#2226b4"/>
<rect x="410.07" y="74.97" width="3.06" height="2.92" fill="#2226b4"/>
<rect x="413.07" y="74.97" width="3.06" height="2.92" fill="#1e16a2"/>
<rect x="416.08" y="74.97" width="3.06" height="2.92" fill="#2226b4"/>
<rect x="419.09" y="74.97" width="3.06" height="2.92" fill="#1e16a2"/>
<rect x="422.10" y="74.97" width="3.06" height="2.92" fill="#2226b4"/>
<rect x="425.10" y="74.97" width="3.06" height="2.92" fill="#1e16a2"/>
<rect x="428.11" y="74.97" width="3.06" height="2.92" fill="#3e38c6"/>
<rect x="431.12" y="74.97" width="3.06" height="2.92" fill="#381ca2"/>
<rect x="434.13" y="74.97" width="3.06" height="2.92" fill="#1a1298"/>
<rect x="437.14" y="74.97" width="3.06" height="2.92" fill="#261cae"/>
<rect x="440.14" y="74.97" width="3.06" height="2.92" fill="#968ee6"/>
<rect x="443.15" y="74.97" width="3.06" height="2.92" fill="#2226b4"/>
<rect x="446.16" y="74.97" width="3.06" height="2.92" fill="#1e16a2"/>
<rect x="449.17" y="74.97" width="3.06" height="2.92" fill="#2226b4"/>
<rect x="452.17" y="74.97" width="3.06" height="2.92" fill="#2c24ba"/>
<rect x="455.18" y="74.97" width="3.06" height="2.92" fill="#ee96a0"/>
<rect x="458.19" y="74.97" width="3.06" height="2.92" fill="#261cae"/>
<rect x="461.20" y="74.97" width="3.06" height="2.92" fill="#261cae"/>
<rect x="464.21" y="74.97" width="3.06" height="2.92" fill="#261cae"/>
<rect x="467.21" y="74.97" width="3.06" height="2.92" fill="#e1d0eb"/>
<rect x="470.22" y="74.97" width="3.06" height="2.92" fill="#1e16a2"/>
<rect x="473.23" y="74.97" width="3.06" height="2.92" fill="#1e16a2"/>
<rect x="476.24" y="74.97" width="3.06" height="2.92" fill="#4842ce"/>
<rect x="479.25" y="74.97" width="3.06" height="2.92" fill="#1e16a2"/>
<rect x="482.25" y="74.97" width="3.06" height="2.92" fill="#2226b4"/>
<rect x="485.26" y="74.97" width="3.06" height="2.92" fill="#4842ce"/>
<rect x="488.27" y="74.97" width="3.06" height="2.92" fill="#1a1298"/>
<rect x="491.28" y="74.97" width="3.06" height="2.92" fill="#2c24ba"/>
<rect x="494.28" y="74.97" width="3.06" height="2.92" fill="#1e16a2"/>
<rect x="497.29" y="74.97" width="3.06" height="2.92" fill="#261cae"/>
<rect x="1.00" y="77.83" width="3.06" height="2.92" fill="#ee96a0"/>
<rect x="4.01" y="77.83" width="3.06" height="2.92" fill="#2226b4"/>
<rect x="7.02" y="77.83" width="3.06" height="2.92" fill="#261cae"/>
<rect x="10.02" y="77.83" width="3.06" height="2.92" fill="#1a1298"/>
<rect x="13.03" y="77.83" width="3.06" height="2.92" fill="#7a74dc"/>
<rect x="16.04" y="77.83" width="3.06" height="2.92" fill="#1a1298"/>
<rect x="19.05" y="77.83" width="3.06" height="2.92" fill="#2c24ba"/>
<rect x="22.05" y="77.83" width="3.06" height="2.92" fill="#7a74dc"/>
<rect x="25.06" y="77.83" width="3.06" height="2.92" fill="#8780e1"/>
<rect x="28.07" y="77.83" width="3.06" height="2.92" fill="#1a1298"/>
<rect x="31.08" y="77.83" width="3.06" height="2.92" fill="#1a1298"/>
<rect x="34.09" y="77.83" width="3.06" height="2.92" fill="#1a1298"/>
<rect x="37.09" y="77.83" width="3.06" height="2.92" fill="#1e16a2"/>
<rect x="40.10" y="77.83" width="3.06" height="2.92" fill="#2226b4"/>
<rect x="43.11" y="77.83" width="3.06" height="2.92" fill="#7a74dc"/>
<rect x="46.12" y="77.83" width="3.06" height="2.92" fill="#1a1298"/>
<rect x="49.13" y="77.83" width="3.06" height="2.92" fill="#381ca2"/>
<rect x="52.13" y="77.83" width="3.06" height="2.92" fill="#4842ce"/>
<rect x="55.14" y="77.83" width="3.06" height="2.92" fill="#2c24ba"/>
<rect x="58.15" y="77.83" width="3.06" height="2.92" fill="#1a1298"/>
<rect x="61.16" y="77.83" width="3.06" height="2.92" fill="#381ca2"/>
<rect x="64.16" y="77.83" width="3.06" height="2.92" fill="#2226b4"/>
<rect x="67.17" y="77.83" width="3.06" height="2.92" fill="#1e16a2"/>
<rect x="70.18" y="77.83" width="3.06" height="2.92" fill="#2c24ba"/>
<rect x="73.19" y="77.83" width="3.06" height="2.92" fill="#1e16a2"/>
<rect x="76.20" y="77.83" width="3.06" height="2.92" fill="#d7cdee"/>
<rect x="79.20" y="77.83" width="3.06" height="2.92" fill="#381ca2"/>
<rect x="82.21" y="77.83" width="3.06" height="2.92" fill="#8780e1"/>
<rect x="85.22" y="77.83" width="3.06" height="2.92" fill="#1a1298"/>
<rect x="88.23" y="77.83" width="3.06" height="2.92" fill="#3832c0"/>
<rect x="91.23" y="77.83" width="3.06" height="2.92" fill="#2226b4"/>
<rect x="94.24" y="77.83" width="3.06" height="2.92" fill="#1e16a2"/>
<rect x="97.25" y="77.83" width="3.06" height="2.92" fill="#968ee6"/>
<rect x="100.26" y="77.83" width="3.06" height="2.92" fill="#ebdef2"/>
<rect x="103.27" y="77.83" width="3.06" height="2.92" fill="#261cae"/>
<rect x="106.27" y="77.83" width="3.06" height="2.92" fill="#ebdef2"/>
<rect x="109.28" y="77.83" width="3.06" height="2.92" fill="#1e16a2"/>
<rect x="112.29" y="77.83" width="3.06" height="2.92" fill="#381ca2"/>
<rect x="115.30" y="77.83" width="3.06" height="2.92" fill="#d7cdee"/>
<rect x="118.31" y="77.83" width="3.06" height="2.92" fill="#261cae"/>
<rect x="121.31" y="77.83" width="3.06" height="2.92" fill="#2c24ba"/>
<rect x="124.32" y="77.83" width="3.06" height="2.92" fill="#1e16a2"/>
<rect x="127.33" y="77.83" width="3.06" height="2.92" fill="#381ca2"/>
<rect x="130.34" y="77.83" width="3.06" height="2.92" fill="#261cae"/>
<rect x="133.34" y="77.83" width="3.06" height="2.92" fill="#1a1298"/>
<rect x="136.35" y="77.83" width="3.06" height="2.92" fill="#1e16a2"/>
<rect x="139.36" y="77.83" width="3.06" height="2.92" fill="#1e16a2"/>
<rect x="142.37" y="77.83" width="3.06" height="2.92" fill="#1a1298"/>
<rect x="145.38" y="77.83" width="3.06" height="2.92" fill="#2c24ba"/>
<rect x="148.38" y="77.83" width="3.06" height="2.92" fill="#8780e1"/>
<rect x="151.39" y="77.83" width="3.06" height="2.92" fill="#d7cdee"/>
<rect x="154.40" y="77.83" width="3.06" height="2.92" fill="#2226b4"/>
<rect x="157.41" y="77.83" width="3.06" height="2.92" fill="#261cae"/>
<rect x="160.42" y="77.83" width="3.06" height="2.92" fill="#2c24ba"/>
<rect x="163.42" y="77.83" width="3.06" height="2.92" fill="#381ca2"/>
<rect x="166.43" y="77.83" width="3.06" height="2.92" fill="#1a1298"/>
<rect x="169.44" y="77.83" width="3.06" height="2.92" fill="#381ca2"/>
<rect x="172.45" y="77.83" width="3.06" height="2.92" fill="#1a1298"/>
<rect x="175.45" y="77.83" width="3.06" height="2.92" fill="#381ca2"/>
<rect x="178.46" y="77.83" width="3.06" height="2.92" fill="#261cae"/>
<rect x="181.47" y="77.83" width="3.06" height="2.92" fill="#1a1298"/>
<rect x="184.48" y="77.83" width="3.06" height="2.92" fill="#261cae"/>
<rect x="187.49" y="77.83" width="3.06" height="2.92" fill="#2226b4"/>
<rect x="190.49" y="77.83" width="3.06" height="2.92" fill="#ee96a0"/>
<rect x="193.50" y="77.83" width="3.06" height="2.92" fill="#2c24ba"/>
<rect x="196.51" y="77.83" width="3.06" height="2.92" fill="#261cae"/>
<rect x="199.52" y="77.83" width="3.06" height="2.92" fill="#1e16a2"/>
<rect x="202.52" y="77.83" width="3.06" height="2.92" fill="#2226b4"/>
<rect x="205.53" y="77.83" width="3.06" height="2.92" fill="#1e16a2"/>
<rect x="208.54" y="77.83" width="3.06" height="2.92" fill="#e8a5b2"/>
<rect x="211.55" y="77.83" width="3.06" height="2.92" fill="#ebdef2"/>
<rect x="214.56" y="77.83" width="3.06" height="2.92" fill="#381ca2"/>
<rect x="217.56" y="77.83" width="3.06" height="2.92" fill="#1e16a2"/>
<rect x="220.57" y="77.83" width="3.06" height="2.92" fill="#e65a55"/>
<rect x="223.58" y="77.83" width="3.06" height="2.92" fill="#d42d32"/>
<rect x="226.59" y="77.83" width="3.06" height="2.92" fill="#3832c0"/>
<rect x="229.60" y="77.83" width="3.06" height="2.92" fill="#ec848e"/>
<rect x="232.60" y="77.83" width="3.06" height="2.92" fill="#3832c0"/>
<rect x="235.61" y="77.83" width="3.06" height="2.92" fill="#2c24ba"/>
<rect x="238.62" y="77.83" width="3.06" height="2.92" fill="#f6dee8"/>
<rect x="241.63" y="77.83" width="3.06" height="2.92" fill="#1e16a2"/>
<rect x="244.63" y="77.83" width="3.06" height="2.92" fill="#d42d32"/>
<rect x="247.64" y="77.83" width="3.06" height="2.92" fill="#e65a55"/>
<rect x="250.65" y="77.83" width="3.06" height="2.92" fill="#ec848e"/>
<rect x="253.66" y="77.83" width="3.06" height="2.92" fill="#d42d32"/>
<rect x="256.67" y="77.83" width="3.06" height="2.92" fill="#c31923"/>
<rect x="259.67" y="77.83" width="3.06" height="2.92" fill="#d42d32"/>
<rect x="262.68" y="77.83" width="3.06" height="2.92" fill="#e696a0"/>
<rect x="265.69" y="77.83" width="3.06" height="2.92" fill="#b4141e"/>
<rect x="268.70" y="77.83" width="3.06" height="2.92" fill="#e65a55"/>
<rect x="271.70" y="77.83" width="3.06" height="2.92" fill="#e65a55"/>
<rect x="274.71" y="77.83" width="3.06" height="2.92" fill="#de4141"/>
<rect x="277.72" y="77.83" width="3.06" height="2.92" fill="#d42d32"/>
<rect x="280.73" y="77.83" width="3.06" height="2.92" fill="#e65a55"/>
<rect x="283.74" y="77.83" width="3.06" height="2.92" fill="#de4141"/>
<rect x="286.74" y="77.83" width="3.06" height="2.92" fill="#2c24ba"/>
<rect x="289.75" y="77.83" width="3.06" height="2.92" fill="#f4d0da"/>
<rect x="292.76" y="77.83" width="3.06" height="2.92" fill="#e65a55"/>
<rect x="295.77" y="77.83" width="3.06" height="2.92" fill="#e65a55"/>
<rect x="298.78" y="77.83" width="3.06" height="2.92" fill="#c31923"/>
<rect x="301.78" y="77.83" width="3.06" height="2.92" fill="#e696a0"/>
<rect x="304.79" y="77.83" width="3.06" height="2.92" fill="#e65a55"/>
<rect x="307.80" y="77.83" width="3.06" height="2.92" fill="#d42d32"/>
<rect x="310.81" y="77.83" width="3.06" height="2.92" fill="#f07a80"/>
<rect x="313.81" y="77.83" width="3.06" height="2.92" fill="#ec848e"/>
<rect x="316.82" y="77.83" width="3.06" height="2.92" fill="#f0d8e6"/>
<rect x="319.83" y="77.83" width="3.06" height="2.92" fill="#e65a55"/>
<rect x="322.84" y="77.83" width="3.06" height="2.92" fill="#f07a80"/>
<rect x="325.85" y="77.83" width="3.06" height="2.92" fill="#e65a55"/>
<rect x="328.85" y="77.83" width="3.06" height="2.92" fill="#e696a0"/>
<rect x="331.86" y="77.83" width="3.06" height="2.92" fill="#261cae"/>
<rect x="334.87" y="77.83" width="3.06" height="2.92" fill="#2c24ba"/>
<rect x="337.88" y="77.83" width="3.06" height="2.92" fill="#f0d8e6"/>
<rect x="340.88" y="77.83" width="3.06" height="2.92" fill="#2226b4"/>
<rect x="343.89" y="77.83" width="3.06" height="2.92" fill="#e696a0"/>
<rect x="346.90" y="77.83" width="3.06" height="2.92" fill="#381ca2"/>
<rect x="349.91" y="77.83" width="3.06" height="2.92" fill="#de4141"/>
<rect x="352.92" y="77.83" width="3.06" height="2.92" fill="#261cae"/>
<rect x="355.92" y="77.83" width="3.06" height="2.92" fill="#1a1298"/>
<rect x="358.93" y="77.83" width="3.06" height="2.92" fill="#2c24ba"/>
<rect x="361.94" y="77.83" width="3.06" height="2.92" fill="#2226b4"/>
<rect x="364.95" y="77.83" width="3.06" height="2.92" fill="#2226b4"/>
<rect x="367.96" y="77.83" width="3.06" height="2.92" fill="#261cae"/>
<rect x="370.96" y="77.83" width="3.06" height="2.92" fill="#381ca2"/>
<rect x="373.97" y="77.83" width="3.06" height="2.92" fill="#261cae"/>
<rect x="376.98" y="77.83" width="3.06" height="2.92" fill="#1a1298"/>
<rect x="379.99" y="77.83" width="3.06" height="2.92" fill="#1a1298"/>
<rect x="382.99" y="77.83" width="3.06" height="2.92" fill="#2226b4"/>
<rect x="386.00" y="77.83" width="3.06" height="2.92" fill="#381ca2"/>
<rect x="389.01" y="77.83" width="3.06" height="2.92" fill="#261cae"/>
<rect x="392.02" y="77.83" width="3.06" height="2.92" fill="#2226b4"/>
<rect x="395.03" y="77.83" width="3.06" height="2.92" fill="#261cae"/>
<rect x="398.03" y="77.83" width="3.06" height="2.92" fill="#261cae"/>
<rect x="401.04" y="77.83" width="3.06" height="2.92" fill="#2226b4"/>
<rect x="404.05" y="77.83" width="3.06" height="2.92" fill="#1a1298"/>
<rect x="407.06" y="77.83" width="3.06" height="2.92" fill="#381ca2"/>
<rect x="410.07" y="77.83" width="3.06" height="2.92" fill="#381ca2"/>
<rect x="413.07" y="77.83" width="3.06" height="2.92" fill="#1a1298"/>
<rect x="416.08" y="77.83" width="3.06" height="2.92" fill="#261cae"/>
<rect x="419.09" y="77.83" width="3.06" height="2.92" fill="#261cae"/>
<rect x="422.10" y="77.83" width="3.06" height="2.92" fill="#1a1298"/>
<rect x="425.10" y="77.83" width="3.06" height="2.92" fill="#261cae"/>
<rect x="428.11" y="77.83" width="3.06" height="2.92" fill="#1a1298"/>
<rect x="431.12" y="77.83" width="3.06" height="2.92" fill="#2226b4"/>
<rect x="434.13" y="77.83" width="3.06" height="2.92" fill="#e1d0eb"/>
<rect x="437.14" y="77.83" width="3.06" height="2.92" fill="#261cae"/>
<rect x="440.14" y="77.83" width="3.06" height="2.92" fill="#2226b4"/>
<rect x="443.15" y="77.83" width="3.06" height="2.92" fill="#1e16a2"/>
<rect x="446.16" y="77.83" width="3.06" height="2.92" fill="#261cae"/>
<rect x="449.17" y="77.83" width="3.06" height="2.92" fill="#2c24ba"/>
<rect x="452.17" y="77.83" width="3.06" height="2.92" fill="#261cae"/>
<rect x="455.18" y="77.83" width="3.06" height="2.92" fill="#ee96a0"/>
<rect x="458.19" y="77.83" width="3.06" height="2.92" fill="#1a1298"/>
<rect x="461.20" y="77.83" width="3.06" height="2.92" fill="#2226b4"/>
<rect x="464.21" y="77.83" width="3.06" height="2.92" fill="#1a1298"/>
<rect x="467.21" y="77.83" width="3.06" height="2.92" fill="#d7cdee"/>
<rect x="470.22" y="77.83" width="3.06" height="2.92" fill="#1a1298"/>
<rect x="473.23" y="77.83" width="3.06" height="2.92" fill="#261cae"/>
<rect x="476.24" y="77.83" width="3.06" height="2.92" fill="#1e16a2"/>
<rect x="479.25" y="77.83" width="3.06" height="2.92" fill="#2226b4"/>
<rect x="482.25" y="77.83" width="3.06" height="2.92" fill="#1e16a2"/>
<rect x="485.26" y="77.83" width="3.06" height="2.92" fill="#d7cdee"/>
<rect x="488.27" y="77.83" width="3.06" height="2.92" fill="#261cae"/>
<rect x="491.28" y="77.83" width="3.06" height="2.92" fill="#2c24ba"/>
<rect x="494.28" y="77.83" width="3.06" height="2.92" fill="#2c24ba"/>
<rect x="497.29" y="77.83" width="3.06" height="2.92" fill="#1e16a2"/>
<path d="M4.01 46.3V80.7M7.02 46.3V80.7M10.02 46.3V80.7M13.03 46.3V80.7M16.04 46.3V80.7M19.05 46.3V80.7M22.05 46.3V80.7M25.06 46.3V80.7M28.07 46.3V80.7M31.08 46.3V80.7M34.09 46.3V80.7M37.09 46.3V80.7M40.10 46.3V80.7M43.11 46.3V80.7M46.12 46.3V80.7M49.13 46.3V80.7M52.13 46.3V80.7M55.14 46.3V80.7M58.15 46.3V80.7M61.16 46.3V80.7M64.16 46.3V80.7M67.17 46.3V80.7M70.18 46.3V80.7M73.19 46.3V80.7M76.20 46.3V80.7M79.20 46.3V80.7M82.21 46.3V80.7M85.22 46.3V80.7M88.23 46.3V80.7M91.23 46.3V80.7M94.24 46.3V80.7M97.25 46.3V80.7M100.26 46.3V80.7M103.27 46.3V80.7M106.27 46.3V80.7M109.28 46.3V80.7M112.29 46.3V80.7M115.30 46.3V80.7M118.31 46.3V80.7M121.31 46.3V80.7M124.32 46.3V80.7M127.33 46.3V80.7M130.34 46.3V80.7M133.34 46.3V80.7M136.35 46.3V80.7M139.36 46.3V80.7M142.37 46.3V80.7M145.38 46.3V80.7M148.38 46.3V80.7M151.39 46.3V80.7M154.40 46.3V80.7M157.41 46.3V80.7M160.42 46.3V80.7M163.42 46.3V80.7M166.43 46.3V80.7M169.44 46.3V80.7M172.45 46.3V80.7M175.45 46.3V80.7M178.46 46.3V80.7M181.47 46.3V80.7M184.48 46.3V80.7M187.49 46.3V80.7M190.49 46.3V80.7M193.50 46.3V80.7M196.51 46.3V80.7M199.52 46.3V80.7M202.52 46.3V80.7M205.53 46.3V80.7M208.54 46.3V80.7M211.55 46.3V80.7M214.56 46.3V80.7M217.56 46.3V80.7M220.57 46.3V80.7M223.58 46.3V80.7M226.59 46.3V80.7M229.60 46.3V80.7M232.60 46.3V80.7M235.61 46.3V80.7M238.62 46.3V80.7M241.63 46.3V80.7M244.63 46.3V80.7M247.64 46.3V80.7M250.65 46.3V80.7M253.66 46.3V80.7M256.67 46.3V80.7M259.67 46.3V80.7M262.68 46.3V80.7M265.69 46.3V80.7M268.70 46.3V80.7M271.70 46.3V80.7M274.71 46.3V80.7M277.72 46.3V80.7M280.73 46.3V80.7M283.74 46.3V80.7M286.74 46.3V80.7M289.75 46.3V80.7M292.76 46.3V80.7M295.77 46.3V80.7M298.78 46.3V80.7M301.78 46.3V80.7M304.79 46.3V80.7M307.80 46.3V80.7M310.81 46.3V80.7M313.81 46.3V80.7M316.82 46.3V80.7M319.83 46.3V80.7M322.84 46.3V80.7M325.85 46.3V80.7M328.85 46.3V80.7M331.86 46.3V80.7M334.87 46.3V80.7M337.88 46.3V80.7M340.88 46.3V80.7M343.89 46.3V80.7M346.90 46.3V80.7M349.91 46.3V80.7M352.92 46.3V80.7M355.92 46.3V80.7M358.93 46.3V80.7M361.94 46.3V80.7M364.95 46.3V80.7M367.96 46.3V80.7M370.96 46.3V80.7M373.97 46.3V80.7M376.98 46.3V80.7M379.99 46.3V80.7M382.99 46.3V80.7M386.00 46.3V80.7M389.01 46.3V80.7M392.02 46.3V80.7M395.03 46.3V80.7M398.03 46.3V80.7M401.04 46.3V80.7M404.05 46.3V80.7M407.06 46.3V80.7M410.07 46.3V80.7M413.07 46.3V80.7M416.08 46.3V80.7M419.09 46.3V80.7M422.10 46.3V80.7M425.10 46.3V80.7M428.11 46.3V80.7M431.12 46.3V80.7M434.13 46.3V80.7M437.14 46.3V80.7M440.14 46.3V80.7M443.15 46.3V80.7M446.16 46.3V80.7M449.17 46.3V80.7M452.17 46.3V80.7M455.18 46.3V80.7M458.19 46.3V80.7M461.20 46.3V80.7M464.21 46.3V80.7M467.21 46.3V80.7M470.22 46.3V80.7M473.23 46.3V80.7M476.24 46.3V80.7M479.25 46.3V80.7M482.25 46.3V80.7M485.26 46.3V80.7M488.27 46.3V80.7M491.28 46.3V80.7M494.28 46.3V80.7M497.29 46.3V80.7M1.0 49.17H500.3M1.0 52.03H500.3M1.0 54.90H500.3M1.0 57.77H500.3M1.0 60.63H500.3M1.0 63.50H500.3M1.0 66.37H500.3M1.0 69.23H500.3M1.0 72.10H500.3M1.0 74.97H500.3M1.0 77.83H500.3" stroke="#ffffff" stroke-opacity="0.10" stroke-width="0.5" fill="none"/>
</g>
<text x="503.8" y="48.59" font-size="2.7" fill="#333">TNFRSF8</text>
<text x="503.8" y="51.46" font-size="2.7" fill="#333">BATF3</text>
<text x="503.8" y="54.33" font-size="2.7" fill="#333">TMOD1</text>
<text x="503.8" y="57.19" font-size="2.7" fill="#333">TMOD1</text>
<text x="503.8" y="60.06" font-size="2.7" fill="#333">TMEM158</text>
<text x="503.8" y="62.93" font-size="2.7" fill="#333">MSC</text>
<text x="503.8" y="65.79" font-size="2.7" fill="#333">POPDC3</text>
<text x="503.8" y="68.66" font-size="2.7" fill="#333">ALK</text>
<text x="503.8" y="71.53" font-size="2.7" fill="#333">ALK</text>
<text x="503.8" y="74.39" font-size="2.7" fill="#333">GZMB</text>
<text x="503.8" y="77.26" font-size="2.7" fill="#333">PRF1</text>
<text x="503.8" y="80.13" font-size="2.7" fill="#333">PRF1</text>
<text x="1.3" y="99.1" font-size="11.8" font-weight="bold" fill="#000">B</text>
<g transform="translate(3.4,0) scale(0.8775,1)">
<text x="37.15" y="155.40" font-size="5.5" font-weight="bold" text-anchor="middle" fill="#111" stroke="#111" stroke-width="0.22">ALK (208212_s_at)</text>
<rect x="0.00" y="158.30" width="74.30" height="138.30" fill="none" stroke="#bababa" stroke-width="1"/>
<path d="M-1.80 163.90H0.0M-1.80 179.85H0.0M-1.80 195.80H0.0M-1.80 211.75H0.0M-1.80 227.70H0.0M-1.80 243.65H0.0M-1.80 259.60H0.0M-1.80 275.55H0.0M-1.80 291.50H0.0" stroke="#777" stroke-width="0.6" fill="none"/>
<path d="M8.48 239.20V245.10M8.48 254.50V261.00" stroke="#bcbcbc" stroke-width="0.55" fill="none"/>
<path d="M6.19 239.20H10.78M6.19 261.00H10.78" stroke="#bcbcbc" stroke-width="0.7" fill="none"/>
<rect x="3.90" y="245.10" width="9.17" height="9.40" fill="#c3c3c3" stroke="#9a9a9a" stroke-width="0.6"/>
<path d="M3.90 248.60H13.07" stroke="#3a3a3a" stroke-width="1.3" fill="none"/>
<text x="8.48" y="304.50" font-size="3.2" font-weight="bold" text-anchor="middle" fill="#111" stroke="#111" stroke-width="0.15">T-cell</text>
<path d="M19.95 250.50V255.30M19.95 256.90V259.30" stroke="#bcbcbc" stroke-width="0.55" fill="none"/>
<path d="M17.66 250.50H22.24M17.66 259.30H22.24" stroke="#bcbcbc" stroke-width="0.7" fill="none"/>
<rect x="15.36" y="255.30" width="9.17" height="1.60" fill="#c3c3c3" stroke="#9a9a9a" stroke-width="0.6"/>
<path d="M15.36 256.00H24.54" stroke="#3a3a3a" stroke-width="1.3" fill="none"/>
<text x="19.95" y="304.50" font-size="3.2" font-weight="bold" text-anchor="middle" fill="#111" stroke="#111" stroke-width="0.15">ATLL</text>
<path d="M31.42 250.50V254.20M31.42 258.00V260.30" stroke="#bcbcbc" stroke-width="0.55" fill="none"/>
<path d="M29.12 250.50H33.71M29.12 260.30H33.71" stroke="#bcbcbc" stroke-width="0.7" fill="none"/>
<rect x="26.83" y="254.20" width="9.17" height="3.80" fill="#c3c3c3" stroke="#9a9a9a" stroke-width="0.6"/>
<path d="M26.83 256.20H36.00" stroke="#3a3a3a" stroke-width="1.3" fill="none"/>
<circle cx="31.42" cy="246.40" r="0.8" fill="none" stroke="#999" stroke-width="0.5"/>
<circle cx="31.42" cy="244.10" r="0.9" fill="#333"/>
<circle cx="31.42" cy="241.80" r="0.8" fill="none" stroke="#999" stroke-width="0.5"/>
<circle cx="31.42" cy="238.30" r="0.9" fill="#333"/>
<circle cx="31.42" cy="233.40" r="0.8" fill="none" stroke="#999" stroke-width="0.5"/>
<circle cx="31.42" cy="265.70" r="0.9" fill="#333"/>
<text x="31.42" y="304.50" font-size="3.2" font-weight="bold" text-anchor="middle" fill="#111" stroke="#111" stroke-width="0.15">AILT</text>
<path d="M42.88 250.20V254.20M42.88 258.00V262.30" stroke="#bcbcbc" stroke-width="0.55" fill="none"/>
<path d="M40.59 250.20H45.18M40.59 262.30H45.18" stroke="#bcbcbc" stroke-width="0.7" fill="none"/>
<rect x="38.30" y="254.20" width="9.17" height="3.80" fill="#c3c3c3" stroke="#9a9a9a" stroke-width="0.6"/>
<path d="M38.30 256.00H47.47" stroke="#3a3a3a" stroke-width="1.3" fill="none"/>
<circle cx="42.88" cy="246.80" r="0.8" fill="none" stroke="#999" stroke-width="0.5"/>
<circle cx="42.88" cy="237.00" r="0.8" fill="none" stroke="#999" stroke-width="0.5"/>
<text x="42.88" y="301.00" font-size="3.2" font-weight="bold" text-anchor="middle" fill="#111" stroke="#111" stroke-width="0.15">PTCL</text>
<text x="42.88" y="304.50" font-size="3.2" font-weight="bold" text-anchor="middle" fill="#111" stroke="#111" stroke-width="0.15">NOS</text>
<path d="M54.35 194.00V203.80M54.35 223.00V229.00" stroke="#bcbcbc" stroke-width="0.55" fill="none"/>
<path d="M52.06 194.00H56.64M52.06 229.00H56.64" stroke="#bcbcbc" stroke-width="0.7" fill="none"/>
<rect x="49.76" y="203.80" width="9.17" height="19.20" fill="#c3c3c3" stroke="#9a9a9a" stroke-width="0.6"/>
<path d="M49.76 212.50H58.94" stroke="#3a3a3a" stroke-width="1.3" fill="none"/>
<text x="54.35" y="301.00" font-size="3.2" font-weight="bold" text-anchor="middle" fill="#111" stroke="#111" stroke-width="0.15">ALCL</text>
<text x="54.35" y="304.50" font-size="3.2" font-weight="bold" text-anchor="middle" fill="#111" stroke="#111" stroke-width="0.15">ALK+</text>
<path d="M65.82 245.90V251.80M65.82 258.50V261.00" stroke="#bcbcbc" stroke-width="0.55" fill="none"/>
<path d="M63.52 245.90H68.11M63.52 261.00H68.11" stroke="#bcbcbc" stroke-width="0.7" fill="none"/>
<rect x="61.23" y="251.80" width="9.17" height="6.70" fill="#c3c3c3" stroke="#9a9a9a" stroke-width="0.6"/>
<path d="M61.23 256.90H70.40" stroke="#3a3a3a" stroke-width="1.3" fill="none"/>
<circle cx="65.82" cy="240.50" r="0.8" fill="none" stroke="#999" stroke-width="0.5"/>
<text x="65.82" y="301.00" font-size="3.2" font-weight="bold" text-anchor="middle" fill="#111" stroke="#111" stroke-width="0.15">ALCL</text>
<text x="65.82" y="304.50" font-size="3.2" font-weight="bold" text-anchor="middle" fill="#111" stroke="#111" stroke-width="0.15">ALK-</text>
<text x="37.15" y="310.60" font-size="4.2" font-weight="bold" text-anchor="middle" fill="#111" stroke="#111" stroke-width="0.22">Samples</text>
<text x="6.00" y="287.30" fill="#111"><tspan font-size="6.4" font-style="italic" stroke="#111" stroke-width="0.2">P</tspan><tspan font-size="4.5" font-weight="bold" dx="1.2" stroke="#111" stroke-width="0.2">= 6.893e-25</tspan></text>
</g>
<text x="140.15" y="94.00" font-size="5.5" font-weight="bold" text-anchor="middle" fill="#111" stroke="#111" stroke-width="0.22">TNFRSF8 (206729_at)</text>
<rect x="103.00" y="96.90" width="74.30" height="137.90" fill="none" stroke="#bababa" stroke-width="1"/>
<path d="M101.20 102.50H103.0M101.20 118.45H103.0M101.20 134.40H103.0M101.20 150.35H103.0M101.20 166.30H103.0M101.20 182.25H103.0M101.20 198.20H103.0M101.20 214.15H103.0M101.20 230.10H103.0" stroke="#777" stroke-width="0.6" fill="none"/>
<text transform="translate(99.70,102.50) rotate(-90)" font-size="3.0" font-weight="bold" text-anchor="middle" fill="#333" stroke="#333" stroke-width="0.15">16</text>
<text transform="translate(99.70,118.45) rotate(-90)" font-size="3.0" font-weight="bold" text-anchor="middle" fill="#333" stroke="#333" stroke-width="0.15">14</text>
<text transform="translate(99.70,134.40) rotate(-90)" font-size="3.0" font-weight="bold" text-anchor="middle" fill="#333" stroke="#333" stroke-width="0.15">12</text>
<text transform="translate(99.70,150.35) rotate(-90)" font-size="3.0" font-weight="bold" text-anchor="middle" fill="#333" stroke="#333" stroke-width="0.15">10</text>
<text transform="translate(99.70,166.30) rotate(-90)" font-size="3.0" font-weight="bold" text-anchor="middle" fill="#333" stroke="#333" stroke-width="0.15">8</text>
<text transform="translate(99.70,182.25) rotate(-90)" font-size="3.0" font-weight="bold" text-anchor="middle" fill="#333" stroke="#333" stroke-width="0.15">6</text>
<text transform="translate(99.70,198.20) rotate(-90)" font-size="3.0" font-weight="bold" text-anchor="middle" fill="#333" stroke="#333" stroke-width="0.15">4</text>
<text transform="translate(99.70,214.15) rotate(-90)" font-size="3.0" font-weight="bold" text-anchor="middle" fill="#333" stroke="#333" stroke-width="0.15">2</text>
<text transform="translate(99.70,230.10) rotate(-90)" font-size="3.0" font-weight="bold" text-anchor="middle" fill="#333" stroke="#333" stroke-width="0.15">0</text>
<text transform="translate(93.70,165.85) rotate(-90)" font-size="3.7" font-weight="bold" text-anchor="middle" fill="#111" stroke="#111" stroke-width="0.2">Expression values</text>
<path d="M111.48 175.00V181.80M111.48 190.50V199.20" stroke="#bcbcbc" stroke-width="0.55" fill="none"/>
<path d="M109.19 175.00H113.78M109.19 199.20H113.78" stroke="#bcbcbc" stroke-width="0.7" fill="none"/>
<rect x="106.90" y="181.80" width="9.17" height="8.70" fill="#c3c3c3" stroke="#9a9a9a" stroke-width="0.6"/>
<path d="M106.90 185.40H116.07" stroke="#3a3a3a" stroke-width="1.3" fill="none"/>
<circle cx="111.48" cy="170.30" r="0.8" fill="none" stroke="#999" stroke-width="0.5"/>
<circle cx="111.48" cy="162.60" r="0.9" fill="#333"/>
<circle cx="111.48" cy="155.00" r="0.8" fill="none" stroke="#999" stroke-width="0.5"/>
<text x="111.48" y="242.70" font-size="3.2" font-weight="bold" text-anchor="middle" fill="#111" stroke="#111" stroke-width="0.15">T-cell</text>
<path d="M122.95 170.80V176.90M122.95 188.00V194.20" stroke="#bcbcbc" stroke-width="0.55" fill="none"/>
<path d="M120.66 170.80H125.24M120.66 194.20H125.24" stroke="#bcbcbc" stroke-width="0.7" fill="none"/>
<rect x="118.36" y="176.90" width="9.17" height="11.10" fill="#c3c3c3" stroke="#9a9a9a" stroke-width="0.6"/>
<path d="M118.36 180.30H127.54" stroke="#3a3a3a" stroke-width="1.3" fill="none"/>
<text x="122.95" y="242.70" font-size="3.2" font-weight="bold" text-anchor="middle" fill="#111" stroke="#111" stroke-width="0.15">ATLL</text>
<path d="M134.42 173.00V181.50M134.42 190.20V199.20" stroke="#bcbcbc" stroke-width="0.55" fill="none"/>
<path d="M132.12 173.00H136.71M132.12 199.20H136.71" stroke="#bcbcbc" stroke-width="0.7" fill="none"/>
<rect x="129.83" y="181.50" width="9.17" height="8.70" fill="#c3c3c3" stroke="#9a9a9a" stroke-width="0.6"/>
<path d="M129.83 185.20H139.00" stroke="#3a3a3a" stroke-width="1.3" fill="none"/>
<circle cx="134.42" cy="165.40" r="0.8" fill="none" stroke="#999" stroke-width="0.5"/>
<circle cx="134.42" cy="204.40" r="0.8" fill="none" stroke="#999" stroke-width="0.5"/>
<text x="134.42" y="242.70" font-size="3.2" font-weight="bold" text-anchor="middle" fill="#111" stroke="#111" stroke-width="0.15">AILT</text>
<path d="M145.88 158.20V178.50M145.88 193.40V203.00" stroke="#bcbcbc" stroke-width="0.55" fill="none"/>
<path d="M143.59 158.20H148.18M143.59 203.00H148.18" stroke="#bcbcbc" stroke-width="0.7" fill="none"/>
<rect x="141.30" y="178.50" width="9.17" height="14.90" fill="#c3c3c3" stroke="#9a9a9a" stroke-width="0.6"/>
<path d="M141.30 187.20H150.47" stroke="#3a3a3a" stroke-width="1.3" fill="none"/>
<circle cx="145.88" cy="146.50" r="0.8" fill="none" stroke="#999" stroke-width="0.5"/>
<text x="145.88" y="239.20" font-size="3.2" font-weight="bold" text-anchor="middle" fill="#111" stroke="#111" stroke-width="0.15">PTCL</text>
<text x="145.88" y="242.70" font-size="3.2" font-weight="bold" text-anchor="middle" fill="#111" stroke="#111" stroke-width="0.15">NOS</text>
<path d="M157.35 142.30V149.00M157.35 157.40V168.50" stroke="#bcbcbc" stroke-width="0.55" fill="none"/>
<path d="M155.06 142.30H159.64M155.06 168.50H159.64" stroke="#bcbcbc" stroke-width="0.7" fill="none"/>
<rect x="152.76" y="149.00" width="9.17" height="8.40" fill="#c3c3c3" stroke="#9a9a9a" stroke-width="0.6"/>
<path d="M152.76 153.00H161.94" stroke="#3a3a3a" stroke-width="1.3" fill="none"/>
<circle cx="157.35" cy="172.30" r="0.8" fill="none" stroke="#999" stroke-width="0.5"/>
<text x="157.35" y="239.20" font-size="3.2" font-weight="bold" text-anchor="middle" fill="#111" stroke="#111" stroke-width="0.15">ALCL</text>
<text x="157.35" y="242.70" font-size="3.2" font-weight="bold" text-anchor="middle" fill="#111" stroke="#111" stroke-width="0.15">ALK+</text>
<path d="M168.82 141.20V148.50M168.82 159.70V172.30" stroke="#bcbcbc" stroke-width="0.55" fill="none"/>
<path d="M166.52 141.20H171.11M166.52 172.30H171.11" stroke="#bcbcbc" stroke-width="0.7" fill="none"/>
<rect x="164.23" y="148.50" width="9.17" height="11.20" fill="#c3c3c3" stroke="#9a9a9a" stroke-width="0.6"/>
<path d="M164.23 153.40H173.40" stroke="#3a3a3a" stroke-width="1.3" fill="none"/>
<text x="168.82" y="239.20" font-size="3.2" font-weight="bold" text-anchor="middle" fill="#111" stroke="#111" stroke-width="0.15">ALCL</text>
<text x="168.82" y="242.70" font-size="3.2" font-weight="bold" text-anchor="middle" fill="#111" stroke="#111" stroke-width="0.15">ALK-</text>
<text x="140.15" y="248.80" font-size="4.2" font-weight="bold" text-anchor="middle" fill="#111" stroke="#111" stroke-width="0.22">Samples</text>
<text x="109.00" y="225.50" fill="#111"><tspan font-size="6.4" font-style="italic" stroke="#111" stroke-width="0.2">P</tspan><tspan font-size="4.5" font-weight="bold" dx="1.2" stroke="#111" stroke-width="0.2">= 6.418e-24</tspan></text>
<text x="253.65" y="94.00" font-size="5.5" font-weight="bold" text-anchor="middle" fill="#111" stroke="#111" stroke-width="0.22">TMOD1 (203661_s_at)</text>
<rect x="216.50" y="96.90" width="74.30" height="137.90" fill="none" stroke="#bababa" stroke-width="1"/>
<path d="M214.70 102.50H216.5M214.70 118.45H216.5M214.70 134.40H216.5M214.70 150.35H216.5M214.70 166.30H216.5M214.70 182.25H216.5M214.70 198.20H216.5M214.70 214.15H216.5M214.70 230.10H216.5" stroke="#777" stroke-width="0.6" fill="none"/>
<text transform="translate(213.20,102.50) rotate(-90)" font-size="3.0" font-weight="bold" text-anchor="middle" fill="#333" stroke="#333" stroke-width="0.15">16</text>
<text transform="translate(213.20,118.45) rotate(-90)" font-size="3.0" font-weight="bold" text-anchor="middle" fill="#333" stroke="#333" stroke-width="0.15">14</text>
<text transform="translate(213.20,134.40) rotate(-90)" font-size="3.0" font-weight="bold" text-anchor="middle" fill="#333" stroke="#333" stroke-width="0.15">12</text>
<text transform="translate(213.20,150.35) rotate(-90)" font-size="3.0" font-weight="bold" text-anchor="middle" fill="#333" stroke="#333" stroke-width="0.15">10</text>
<text transform="translate(213.20,166.30) rotate(-90)" font-size="3.0" font-weight="bold" text-anchor="middle" fill="#333" stroke="#333" stroke-width="0.15">8</text>
<text transform="translate(213.20,182.25) rotate(-90)" font-size="3.0" font-weight="bold" text-anchor="middle" fill="#333" stroke="#333" stroke-width="0.15">6</text>
<text transform="translate(213.20,198.20) rotate(-90)" font-size="3.0" font-weight="bold" text-anchor="middle" fill="#333" stroke="#333" stroke-width="0.15">4</text>
<text transform="translate(213.20,214.15) rotate(-90)" font-size="3.0" font-weight="bold" text-anchor="middle" fill="#333" stroke="#333" stroke-width="0.15">2</text>
<text transform="translate(213.20,230.10) rotate(-90)" font-size="3.0" font-weight="bold" text-anchor="middle" fill="#333" stroke="#333" stroke-width="0.15">0</text>
<text transform="translate(207.20,165.85) rotate(-90)" font-size="3.7" font-weight="bold" text-anchor="middle" fill="#111" stroke="#111" stroke-width="0.2">Expression values</text>
<path d="M224.98 177.70V182.90M224.98 187.70V192.10" stroke="#bcbcbc" stroke-width="0.55" fill="none"/>
<path d="M222.69 177.70H227.28M222.69 192.10H227.28" stroke="#bcbcbc" stroke-width="0.7" fill="none"/>
<rect x="220.40" y="182.90" width="9.17" height="4.80" fill="#c3c3c3" stroke="#9a9a9a" stroke-width="0.6"/>
<path d="M220.40 185.20H229.57" stroke="#3a3a3a" stroke-width="1.3" fill="none"/>
<text x="224.98" y="242.70" font-size="3.2" font-weight="bold" text-anchor="middle" fill="#111" stroke="#111" stroke-width="0.15">T-cell</text>
<path d="M236.45 184.80V187.10M236.45 191.90V194.40" stroke="#bcbcbc" stroke-width="0.55" fill="none"/>
<path d="M234.16 184.80H238.74M234.16 194.40H238.74" stroke="#bcbcbc" stroke-width="0.7" fill="none"/>
<rect x="231.86" y="187.10" width="9.17" height="4.80" fill="#c3c3c3" stroke="#9a9a9a" stroke-width="0.6"/>
<path d="M231.86 189.60H241.04" stroke="#3a3a3a" stroke-width="1.3" fill="none"/>
<text x="236.45" y="242.70" font-size="3.2" font-weight="bold" text-anchor="middle" fill="#111" stroke="#111" stroke-width="0.15">ATLL</text>
<path d="M247.92 175.20V183.30M247.92 189.20V192.50" stroke="#bcbcbc" stroke-width="0.55" fill="none"/>
<path d="M245.62 175.20H250.21M245.62 192.50H250.21" stroke="#bcbcbc" stroke-width="0.7" fill="none"/>
<rect x="243.33" y="183.30" width="9.17" height="5.90" fill="#c3c3c3" stroke="#9a9a9a" stroke-width="0.6"/>
<path d="M243.33 186.90H252.50" stroke="#3a3a3a" stroke-width="1.3" fill="none"/>
<text x="247.92" y="242.70" font-size="3.2" font-weight="bold" text-anchor="middle" fill="#111" stroke="#111" stroke-width="0.15">AILT</text>
<path d="M259.38 176.20V183.50M259.38 190.60V197.70" stroke="#bcbcbc" stroke-width="0.55" fill="none"/>
<path d="M257.09 176.20H261.68M257.09 197.70H261.68" stroke="#bcbcbc" stroke-width="0.7" fill="none"/>
<rect x="254.80" y="183.50" width="9.17" height="7.10" fill="#c3c3c3" stroke="#9a9a9a" stroke-width="0.6"/>
<path d="M254.80 187.10H263.97" stroke="#3a3a3a" stroke-width="1.3" fill="none"/>
<circle cx="259.38" cy="168.50" r="0.9" fill="#333"/>
<circle cx="259.38" cy="162.70" r="0.8" fill="none" stroke="#999" stroke-width="0.5"/>
<circle cx="259.38" cy="154.60" r="0.8" fill="none" stroke="#999" stroke-width="0.5"/>
<text x="259.38" y="239.20" font-size="3.2" font-weight="bold" text-anchor="middle" fill="#111" stroke="#111" stroke-width="0.15">PTCL</text>
<text x="259.38" y="242.70" font-size="3.2" font-weight="bold" text-anchor="middle" fill="#111" stroke="#111" stroke-width="0.15">NOS</text>
<path d="M270.85 157.90V171.90M270.85 186.20V188.70" stroke="#bcbcbc" stroke-width="0.55" fill="none"/>
<path d="M268.56 157.90H273.14M268.56 188.70H273.14" stroke="#bcbcbc" stroke-width="0.7" fill="none"/>
<rect x="266.26" y="171.90" width="9.17" height="14.30" fill="#c3c3c3" stroke="#9a9a9a" stroke-width="0.6"/>
<path d="M266.26 181.30H275.44" stroke="#3a3a3a" stroke-width="1.3" fill="none"/>
<text x="270.85" y="239.20" font-size="3.2" font-weight="bold" text-anchor="middle" fill="#111" stroke="#111" stroke-width="0.15">ALCL</text>
<text x="270.85" y="242.70" font-size="3.2" font-weight="bold" text-anchor="middle" fill="#111" stroke="#111" stroke-width="0.15">ALK+</text>
<path d="M282.32 149.80V161.70M282.32 176.20V192.50" stroke="#bcbcbc" stroke-width="0.55" fill="none"/>
<path d="M280.02 149.80H284.61M280.02 192.50H284.61" stroke="#bcbcbc" stroke-width="0.7" fill="none"/>
<rect x="277.73" y="161.70" width="9.17" height="14.50" fill="#c3c3c3" stroke="#9a9a9a" stroke-width="0.6"/>
<path d="M277.73 169.80H286.90" stroke="#3a3a3a" stroke-width="1.3" fill="none"/>
<text x="282.32" y="239.20" font-size="3.2" font-weight="bold" text-anchor="middle" fill="#111" stroke="#111" stroke-width="0.15">ALCL</text>
<text x="282.32" y="242.70" font-size="3.2" font-weight="bold" text-anchor="middle" fill="#111" stroke="#111" stroke-width="0.15">ALK-</text>
<text x="253.65" y="248.80" font-size="4.2" font-weight="bold" text-anchor="middle" fill="#111" stroke="#111" stroke-width="0.22">Samples</text>
<text x="222.50" y="225.50" fill="#111"><tspan font-size="6.4" font-style="italic" stroke="#111" stroke-width="0.2">P</tspan><tspan font-size="4.5" font-weight="bold" dx="1.2" stroke="#111" stroke-width="0.2">= 3.06e-13</tspan></text>
<text x="367.15" y="94.00" font-size="5.5" font-weight="bold" text-anchor="middle" fill="#111" stroke="#111" stroke-width="0.22">BATF3 (220358_at)</text>
<rect x="330.00" y="96.90" width="74.30" height="137.90" fill="none" stroke="#bababa" stroke-width="1"/>
<path d="M328.20 102.50H330.0M328.20 118.45H330.0M328.20 134.40H330.0M328.20 150.35H330.0M328.20 166.30H330.0M328.20 182.25H330.0M328.20 198.20H330.0M328.20 214.15H330.0M328.20 230.10H330.0" stroke="#777" stroke-width="0.6" fill="none"/>
<text transform="translate(326.70,102.50) rotate(-90)" font-size="3.0" font-weight="bold" text-anchor="middle" fill="#333" stroke="#333" stroke-width="0.15">16</text>
<text transform="translate(326.70,118.45) rotate(-90)" font-size="3.0" font-weight="bold" text-anchor="middle" fill="#333" stroke="#333" stroke-width="0.15">14</text>
<text transform="translate(326.70,134.40) rotate(-90)" font-size="3.0" font-weight="bold" text-anchor="middle" fill="#333" stroke="#333" stroke-width="0.15">12</text>
<text transform="translate(326.70,150.35) rotate(-90)" font-size="3.0" font-weight="bold" text-anchor="middle" fill="#333" stroke="#333" stroke-width="0.15">10</text>
<text transform="translate(326.70,166.30) rotate(-90)" font-size="3.0" font-weight="bold" text-anchor="middle" fill="#333" stroke="#333" stroke-width="0.15">8</text>
<text transform="translate(326.70,182.25) rotate(-90)" font-size="3.0" font-weight="bold" text-anchor="middle" fill="#333" stroke="#333" stroke-width="0.15">6</text>
<text transform="translate(326.70,198.20) rotate(-90)" font-size="3.0" font-weight="bold" text-anchor="middle" fill="#333" stroke="#333" stroke-width="0.15">4</text>
<text transform="translate(326.70,214.15) rotate(-90)" font-size="3.0" font-weight="bold" text-anchor="middle" fill="#333" stroke="#333" stroke-width="0.15">2</text>
<text transform="translate(326.70,230.10) rotate(-90)" font-size="3.0" font-weight="bold" text-anchor="middle" fill="#333" stroke="#333" stroke-width="0.15">0</text>
<text transform="translate(320.70,165.85) rotate(-90)" font-size="3.7" font-weight="bold" text-anchor="middle" fill="#111" stroke="#111" stroke-width="0.2">Expression values</text>
<path d="M338.48 161.20V177.10M338.48 188.70V194.40" stroke="#bcbcbc" stroke-width="0.55" fill="none"/>
<path d="M336.19 161.20H340.78M336.19 194.40H340.78" stroke="#bcbcbc" stroke-width="0.7" fill="none"/>
<rect x="333.90" y="177.10" width="9.17" height="11.60" fill="#c3c3c3" stroke="#9a9a9a" stroke-width="0.6"/>
<path d="M333.90 184.80H343.07" stroke="#3a3a3a" stroke-width="1.3" fill="none"/>
<circle cx="338.48" cy="158.50" r="0.9" fill="#333"/>
<text x="338.48" y="242.70" font-size="3.2" font-weight="bold" text-anchor="middle" fill="#111" stroke="#111" stroke-width="0.15">T-cell</text>
<path d="M349.95 145.80V151.50M349.95 168.50V183.50" stroke="#bcbcbc" stroke-width="0.55" fill="none"/>
<path d="M347.66 145.80H352.24M347.66 183.50H352.24" stroke="#bcbcbc" stroke-width="0.7" fill="none"/>
<rect x="345.36" y="151.50" width="9.17" height="17.00" fill="#c3c3c3" stroke="#9a9a9a" stroke-width="0.6"/>
<path d="M345.36 156.90H354.54" stroke="#3a3a3a" stroke-width="1.3" fill="none"/>
<text x="349.95" y="242.70" font-size="3.2" font-weight="bold" text-anchor="middle" fill="#111" stroke="#111" stroke-width="0.15">ATLL</text>
<path d="M361.42 167.50V174.20M361.42 180.40V187.30" stroke="#bcbcbc" stroke-width="0.55" fill="none"/>
<path d="M359.12 167.50H363.71M359.12 187.30H363.71" stroke="#bcbcbc" stroke-width="0.7" fill="none"/>
<rect x="356.83" y="174.20" width="9.17" height="6.20" fill="#c3c3c3" stroke="#9a9a9a" stroke-width="0.6"/>
<path d="M356.83 176.70H366.00" stroke="#3a3a3a" stroke-width="1.3" fill="none"/>
<circle cx="361.42" cy="159.80" r="0.8" fill="none" stroke="#999" stroke-width="0.5"/>
<circle cx="361.42" cy="157.90" r="0.8" fill="none" stroke="#999" stroke-width="0.5"/>
<circle cx="361.42" cy="205.40" r="0.9" fill="#333"/>
<text x="361.42" y="242.70" font-size="3.2" font-weight="bold" text-anchor="middle" fill="#111" stroke="#111" stroke-width="0.15">AILT</text>
<path d="M372.88 151.50V169.40M372.88 181.50V194.40" stroke="#bcbcbc" stroke-width="0.55" fill="none"/>
<path d="M370.59 151.50H375.18M370.59 194.40H375.18" stroke="#bcbcbc" stroke-width="0.7" fill="none"/>
<rect x="368.30" y="169.40" width="9.17" height="12.10" fill="#c3c3c3" stroke="#9a9a9a" stroke-width="0.6"/>
<path d="M368.30 176.20H377.47" stroke="#3a3a3a" stroke-width="1.3" fill="none"/>
<circle cx="372.88" cy="147.30" r="0.9" fill="#333"/>
<circle cx="372.88" cy="143.50" r="0.8" fill="none" stroke="#999" stroke-width="0.5"/>
<circle cx="372.88" cy="141.50" r="0.8" fill="none" stroke="#999" stroke-width="0.5"/>
<text x="372.88" y="239.20" font-size="3.2" font-weight="bold" text-anchor="middle" fill="#111" stroke="#111" stroke-width="0.15">PTCL</text>
<text x="372.88" y="242.70" font-size="3.2" font-weight="bold" text-anchor="middle" fill="#111" stroke="#111" stroke-width="0.15">NOS</text>
<path d="M384.35 132.90V139.20M384.35 143.80V149.20" stroke="#bcbcbc" stroke-width="0.55" fill="none"/>
<path d="M382.06 132.90H386.64M382.06 149.20H386.64" stroke="#bcbcbc" stroke-width="0.7" fill="none"/>
<rect x="379.76" y="139.20" width="9.17" height="4.60" fill="#c3c3c3" stroke="#9a9a9a" stroke-width="0.6"/>
<path d="M379.76 141.00H388.94" stroke="#3a3a3a" stroke-width="1.3" fill="none"/>
<circle cx="384.35" cy="154.00" r="0.8" fill="none" stroke="#999" stroke-width="0.5"/>
<circle cx="384.35" cy="161.70" r="0.8" fill="none" stroke="#999" stroke-width="0.5"/>
<text x="384.35" y="239.20" font-size="3.2" font-weight="bold" text-anchor="middle" fill="#111" stroke="#111" stroke-width="0.15">ALCL</text>
<text x="384.35" y="242.70" font-size="3.2" font-weight="bold" text-anchor="middle" fill="#111" stroke="#111" stroke-width="0.15">ALK+</text>
<path d="M395.82 136.70V141.90M395.82 151.20V154.60" stroke="#bcbcbc" stroke-width="0.55" fill="none"/>
<path d="M393.52 136.70H398.11M393.52 154.60H398.11" stroke="#bcbcbc" stroke-width="0.7" fill="none"/>
<rect x="391.23" y="141.90" width="9.17" height="9.30" fill="#c3c3c3" stroke="#9a9a9a" stroke-width="0.6"/>
<path d="M391.23 146.30H400.40" stroke="#3a3a3a" stroke-width="1.3" fill="none"/>
<circle cx="395.82" cy="170.00" r="0.9" fill="#333"/>
<circle cx="395.82" cy="182.30" r="0.8" fill="none" stroke="#999" stroke-width="0.5"/>
<text x="395.82" y="239.20" font-size="3.2" font-weight="bold" text-anchor="middle" fill="#111" stroke="#111" stroke-width="0.15">ALCL</text>
<text x="395.82" y="242.70" font-size="3.2" font-weight="bold" text-anchor="middle" fill="#111" stroke="#111" stroke-width="0.15">ALK-</text>
<text x="367.15" y="248.80" font-size="4.2" font-weight="bold" text-anchor="middle" fill="#111" stroke="#111" stroke-width="0.22">Samples</text>
<text x="336.00" y="225.50" fill="#111"><tspan font-size="6.4" font-style="italic" stroke="#111" stroke-width="0.2">P</tspan><tspan font-size="4.5" font-weight="bold" dx="1.2" stroke="#111" stroke-width="0.2">= 7.499e-28</tspan></text>
<text x="480.65" y="94.00" font-size="5.5" font-weight="bold" text-anchor="middle" fill="#111" stroke="#111" stroke-width="0.22">TMEM158 (213338_at)</text>
<rect x="443.50" y="96.90" width="74.30" height="137.90" fill="none" stroke="#bababa" stroke-width="1"/>
<path d="M441.70 102.50H443.5M441.70 118.45H443.5M441.70 134.40H443.5M441.70 150.35H443.5M441.70 166.30H443.5M441.70 182.25H443.5M441.70 198.20H443.5M441.70 214.15H443.5M441.70 230.10H443.5" stroke="#777" stroke-width="0.6" fill="none"/>
<text transform="translate(440.20,102.50) rotate(-90)" font-size="3.0" font-weight="bold" text-anchor="middle" fill="#333" stroke="#333" stroke-width="0.15">16</text>
<text transform="translate(440.20,118.45) rotate(-90)" font-size="3.0" font-weight="bold" text-anchor="middle" fill="#333" stroke="#333" stroke-width="0.15">14</text>
<text transform="translate(440.20,134.40) rotate(-90)" font-size="3.0" font-weight="bold" text-anchor="middle" fill="#333" stroke="#333" stroke-width="0.15">12</text>
<text transform="translate(440.20,150.35) rotate(-90)" font-size="3.0" font-weight="bold" text-anchor="middle" fill="#333" stroke="#333" stroke-width="0.15">10</text>
<text transform="translate(440.20,166.30) rotate(-90)" font-size="3.0" font-weight="bold" text-anchor="middle" fill="#333" stroke="#333" stroke-width="0.15">8</text>
<text transform="translate(440.20,182.25) rotate(-90)" font-size="3.0" font-weight="bold" text-anchor="middle" fill="#333" stroke="#333" stroke-width="0.15">6</text>
<text transform="translate(440.20,198.20) rotate(-90)" font-size="3.0" font-weight="bold" text-anchor="middle" fill="#333" stroke="#333" stroke-width="0.15">4</text>
<text transform="translate(440.20,214.15) rotate(-90)" font-size="3.0" font-weight="bold" text-anchor="middle" fill="#333" stroke="#333" stroke-width="0.15">2</text>
<text transform="translate(440.20,230.10) rotate(-90)" font-size="3.0" font-weight="bold" text-anchor="middle" fill="#333" stroke="#333" stroke-width="0.15">0</text>
<text transform="translate(434.20,165.85) rotate(-90)" font-size="3.7" font-weight="bold" text-anchor="middle" fill="#111" stroke="#111" stroke-width="0.2">Expression values</text>
<path d="M451.98 189.60V194.00M451.98 197.90V200.80" stroke="#bcbcbc" stroke-width="0.55" fill="none"/>
<path d="M449.69 189.60H454.28M449.69 200.80H454.28" stroke="#bcbcbc" stroke-width="0.7" fill="none"/>
<rect x="447.40" y="194.00" width="9.17" height="3.90" fill="#c3c3c3" stroke="#9a9a9a" stroke-width="0.6"/>
<path d="M447.40 196.00H456.57" stroke="#3a3a3a" stroke-width="1.3" fill="none"/>
<circle cx="451.98" cy="184.40" r="0.8" fill="none" stroke="#999" stroke-width="0.5"/>
<text x="451.98" y="242.70" font-size="3.2" font-weight="bold" text-anchor="middle" fill="#111" stroke="#111" stroke-width="0.15">T-cell</text>
<path d="M463.45 189.20V192.50M463.45 197.70V199.20" stroke="#bcbcbc" stroke-width="0.55" fill="none"/>
<path d="M461.16 189.20H465.74M461.16 199.20H465.74" stroke="#bcbcbc" stroke-width="0.7" fill="none"/>
<rect x="458.86" y="192.50" width="9.17" height="5.20" fill="#c3c3c3" stroke="#9a9a9a" stroke-width="0.6"/>
<path d="M458.86 195.40H468.04" stroke="#3a3a3a" stroke-width="1.3" fill="none"/>
<circle cx="463.45" cy="184.40" r="0.8" fill="none" stroke="#999" stroke-width="0.5"/>
<text x="463.45" y="242.70" font-size="3.2" font-weight="bold" text-anchor="middle" fill="#111" stroke="#111" stroke-width="0.15">ATLL</text>
<path d="M474.92 181.90V188.10M474.92 192.90V198.80" stroke="#bcbcbc" stroke-width="0.55" fill="none"/>
<path d="M472.62 181.90H477.21M472.62 198.80H477.21" stroke="#bcbcbc" stroke-width="0.7" fill="none"/>
<rect x="470.33" y="188.10" width="9.17" height="4.80" fill="#c3c3c3" stroke="#9a9a9a" stroke-width="0.6"/>
<path d="M470.33 191.20H479.50" stroke="#3a3a3a" stroke-width="1.3" fill="none"/>
<circle cx="474.92" cy="179.60" r="0.8" fill="none" stroke="#999" stroke-width="0.5"/>
<circle cx="474.92" cy="175.20" r="0.8" fill="none" stroke="#999" stroke-width="0.5"/>
<text x="474.92" y="242.70" font-size="3.2" font-weight="bold" text-anchor="middle" fill="#111" stroke="#111" stroke-width="0.15">AILT</text>
<path d="M486.38 184.40V190.20M486.38 195.40V198.30" stroke="#bcbcbc" stroke-width="0.55" fill="none"/>
<path d="M484.09 184.40H488.68M484.09 198.30H488.68" stroke="#bcbcbc" stroke-width="0.7" fill="none"/>
<rect x="481.80" y="190.20" width="9.17" height="5.20" fill="#c3c3c3" stroke="#9a9a9a" stroke-width="0.6"/>
<path d="M481.80 193.50H490.97" stroke="#3a3a3a" stroke-width="1.3" fill="none"/>
<circle cx="486.38" cy="175.20" r="0.8" fill="none" stroke="#999" stroke-width="0.5"/>
<circle cx="486.38" cy="166.50" r="0.8" fill="none" stroke="#999" stroke-width="0.5"/>
<circle cx="486.38" cy="160.80" r="0.8" fill="none" stroke="#999" stroke-width="0.5"/>
<text x="486.38" y="239.20" font-size="3.2" font-weight="bold" text-anchor="middle" fill="#111" stroke="#111" stroke-width="0.15">PTCL</text>
<text x="486.38" y="242.70" font-size="3.2" font-weight="bold" text-anchor="middle" fill="#111" stroke="#111" stroke-width="0.15">NOS</text>
<path d="M497.85 146.30V152.70M497.85 166.00V179.00" stroke="#bcbcbc" stroke-width="0.55" fill="none"/>
<path d="M495.56 146.30H500.14M495.56 179.00H500.14" stroke="#bcbcbc" stroke-width="0.7" fill="none"/>
<rect x="493.26" y="152.70" width="9.17" height="13.30" fill="#c3c3c3" stroke="#9a9a9a" stroke-width="0.6"/>
<path d="M493.26 158.50H502.44" stroke="#3a3a3a" stroke-width="1.3" fill="none"/>
<text x="497.85" y="239.20" font-size="3.2" font-weight="bold" text-anchor="middle" fill="#111" stroke="#111" stroke-width="0.15">ALCL</text>
<text x="497.85" y="242.70" font-size="3.2" font-weight="bold" text-anchor="middle" fill="#111" stroke="#111" stroke-width="0.15">ALK+</text>
<path d="M509.32 149.20V160.80M509.32 191.50V195.80" stroke="#bcbcbc" stroke-width="0.55" fill="none"/>
<path d="M507.02 149.20H511.61M507.02 195.80H511.61" stroke="#bcbcbc" stroke-width="0.7" fill="none"/>
<rect x="504.73" y="160.80" width="9.17" height="30.70" fill="#c3c3c3" stroke="#9a9a9a" stroke-width="0.6"/>
<path d="M504.73 183.30H513.90" stroke="#3a3a3a" stroke-width="1.3" fill="none"/>
<text x="509.32" y="239.20" font-size="3.2" font-weight="bold" text-anchor="middle" fill="#111" stroke="#111" stroke-width="0.15">ALCL</text>
<text x="509.32" y="242.70" font-size="3.2" font-weight="bold" text-anchor="middle" fill="#111" stroke="#111" stroke-width="0.15">ALK-</text>
<text x="480.65" y="248.80" font-size="4.2" font-weight="bold" text-anchor="middle" fill="#111" stroke="#111" stroke-width="0.22">Samples</text>
<text x="449.50" y="225.50" fill="#111"><tspan font-size="6.4" font-style="italic" stroke="#111" stroke-width="0.2">P</tspan><tspan font-size="4.5" font-weight="bold" dx="1.2" stroke="#111" stroke-width="0.2">= 1.095e-26</tspan></text>
<text x="140.15" y="260.30" font-size="5.5" font-weight="bold" text-anchor="middle" fill="#111" stroke="#111" stroke-width="0.22">POPDC3 (219926_at)</text>
<rect x="103.00" y="263.20" width="74.30" height="138.00" fill="none" stroke="#bababa" stroke-width="1"/>
<path d="M101.20 268.80H103.0M101.20 284.75H103.0M101.20 300.70H103.0M101.20 316.65H103.0M101.20 332.60H103.0M101.20 348.55H103.0M101.20 364.50H103.0M101.20 380.45H103.0M101.20 396.40H103.0" stroke="#777" stroke-width="0.6" fill="none"/>
<text transform="translate(99.70,268.80) rotate(-90)" font-size="3.0" font-weight="bold" text-anchor="middle" fill="#333" stroke="#333" stroke-width="0.15">16</text>
<text transform="translate(99.70,284.75) rotate(-90)" font-size="3.0" font-weight="bold" text-anchor="middle" fill="#333" stroke="#333" stroke-width="0.15">14</text>
<text transform="translate(99.70,300.70) rotate(-90)" font-size="3.0" font-weight="bold" text-anchor="middle" fill="#333" stroke="#333" stroke-width="0.15">12</text>
<text transform="translate(99.70,316.65) rotate(-90)" font-size="3.0" font-weight="bold" text-anchor="middle" fill="#333" stroke="#333" stroke-width="0.15">10</text>
<text transform="translate(99.70,332.60) rotate(-90)" font-size="3.0" font-weight="bold" text-anchor="middle" fill="#333" stroke="#333" stroke-width="0.15">8</text>
<text transform="translate(99.70,348.55) rotate(-90)" font-size="3.0" font-weight="bold" text-anchor="middle" fill="#333" stroke="#333" stroke-width="0.15">6</text>
<text transform="translate(99.70,364.50) rotate(-90)" font-size="3.0" font-weight="bold" text-anchor="middle" fill="#333" stroke="#333" stroke-width="0.15">4</text>
<text transform="translate(99.70,380.45) rotate(-90)" font-size="3.0" font-weight="bold" text-anchor="middle" fill="#333" stroke="#333" stroke-width="0.15">2</text>
<text transform="translate(99.70,396.40) rotate(-90)" font-size="3.0" font-weight="bold" text-anchor="middle" fill="#333" stroke="#333" stroke-width="0.15">0</text>
<text transform="translate(93.70,332.20) rotate(-90)" font-size="3.7" font-weight="bold" text-anchor="middle" fill="#111" stroke="#111" stroke-width="0.2">Expression values</text>
<path d="M111.48 361.20V363.50M111.48 366.90V368.30" stroke="#bcbcbc" stroke-width="0.55" fill="none"/>
<path d="M109.19 361.20H113.78M109.19 368.30H113.78" stroke="#bcbcbc" stroke-width="0.7" fill="none"/>
<rect x="106.90" y="363.50" width="9.17" height="3.40" fill="#c3c3c3" stroke="#9a9a9a" stroke-width="0.6"/>
<path d="M106.90 365.40H116.07" stroke="#3a3a3a" stroke-width="1.3" fill="none"/>
<text x="111.48" y="409.10" font-size="3.2" font-weight="bold" text-anchor="middle" fill="#111" stroke="#111" stroke-width="0.15">T-cell</text>
<path d="M122.95 358.70V365.00M122.95 368.30V369.60" stroke="#bcbcbc" stroke-width="0.55" fill="none"/>
<path d="M120.66 358.70H125.24M120.66 369.60H125.24" stroke="#bcbcbc" stroke-width="0.7" fill="none"/>
<rect x="118.36" y="365.00" width="9.17" height="3.30" fill="#c3c3c3" stroke="#9a9a9a" stroke-width="0.6"/>
<path d="M118.36 366.90H127.54" stroke="#3a3a3a" stroke-width="1.3" fill="none"/>
<circle cx="122.95" cy="341.30" r="0.8" fill="none" stroke="#999" stroke-width="0.5"/>
<text x="122.95" y="409.10" font-size="3.2" font-weight="bold" text-anchor="middle" fill="#111" stroke="#111" stroke-width="0.15">ATLL</text>
<path d="M134.42 355.40V360.60M134.42 366.90V372.10" stroke="#bcbcbc" stroke-width="0.55" fill="none"/>
<path d="M132.12 355.40H136.71M132.12 372.10H136.71" stroke="#bcbcbc" stroke-width="0.7" fill="none"/>
<rect x="129.83" y="360.60" width="9.17" height="6.30" fill="#c3c3c3" stroke="#9a9a9a" stroke-width="0.6"/>
<path d="M129.83 364.40H139.00" stroke="#3a3a3a" stroke-width="1.3" fill="none"/>
<circle cx="134.42" cy="340.80" r="0.8" fill="none" stroke="#999" stroke-width="0.5"/>
<text x="134.42" y="409.10" font-size="3.2" font-weight="bold" text-anchor="middle" fill="#111" stroke="#111" stroke-width="0.15">AILT</text>
<path d="M145.88 350.40V360.00M145.88 366.90V369.60" stroke="#bcbcbc" stroke-width="0.55" fill="none"/>
<path d="M143.59 350.40H148.18M143.59 369.60H148.18" stroke="#bcbcbc" stroke-width="0.7" fill="none"/>
<rect x="141.30" y="360.00" width="9.17" height="6.90" fill="#c3c3c3" stroke="#9a9a9a" stroke-width="0.6"/>
<path d="M141.30 364.00H150.47" stroke="#3a3a3a" stroke-width="1.3" fill="none"/>
<circle cx="145.88" cy="340.00" r="0.8" fill="none" stroke="#999" stroke-width="0.5"/>
<circle cx="145.88" cy="333.70" r="0.8" fill="none" stroke="#999" stroke-width="0.5"/>
<circle cx="145.88" cy="324.60" r="0.8" fill="none" stroke="#999" stroke-width="0.5"/>
<text x="145.88" y="405.60" font-size="3.2" font-weight="bold" text-anchor="middle" fill="#111" stroke="#111" stroke-width="0.15">PTCL</text>
<text x="145.88" y="409.10" font-size="3.2" font-weight="bold" text-anchor="middle" fill="#111" stroke="#111" stroke-width="0.15">NOS</text>
<path d="M157.35 313.50V322.10M157.35 327.50V332.70" stroke="#bcbcbc" stroke-width="0.55" fill="none"/>
<path d="M155.06 313.50H159.64M155.06 332.70H159.64" stroke="#bcbcbc" stroke-width="0.7" fill="none"/>
<rect x="152.76" y="322.10" width="9.17" height="5.40" fill="#c3c3c3" stroke="#9a9a9a" stroke-width="0.6"/>
<path d="M152.76 326.00H161.94" stroke="#3a3a3a" stroke-width="1.3" fill="none"/>
<circle cx="157.35" cy="344.60" r="0.9" fill="#333"/>
<text x="157.35" y="405.60" font-size="3.2" font-weight="bold" text-anchor="middle" fill="#111" stroke="#111" stroke-width="0.15">ALCL</text>
<text x="157.35" y="409.10" font-size="3.2" font-weight="bold" text-anchor="middle" fill="#111" stroke="#111" stroke-width="0.15">ALK+</text>
<path d="M168.82 315.40V330.80M168.82 362.50V366.90" stroke="#bcbcbc" stroke-width="0.55" fill="none"/>
<path d="M166.52 315.40H171.11M166.52 366.90H171.11" stroke="#bcbcbc" stroke-width="0.7" fill="none"/>
<rect x="164.23" y="330.80" width="9.17" height="31.70" fill="#c3c3c3" stroke="#9a9a9a" stroke-width="0.6"/>
<path d="M164.23 349.00H173.40" stroke="#3a3a3a" stroke-width="1.3" fill="none"/>
<text x="168.82" y="405.60" font-size="3.2" font-weight="bold" text-anchor="middle" fill="#111" stroke="#111" stroke-width="0.15">ALCL</text>
<text x="168.82" y="409.10" font-size="3.2" font-weight="bold" text-anchor="middle" fill="#111" stroke="#111" stroke-width="0.15">ALK-</text>
<text x="140.15" y="415.20" font-size="4.2" font-weight="bold" text-anchor="middle" fill="#111" stroke="#111" stroke-width="0.22">Samples</text>
<text x="109.00" y="391.90" fill="#111"><tspan font-size="6.4" font-style="italic" stroke="#111" stroke-width="0.2">P</tspan><tspan font-size="4.5" font-weight="bold" dx="1.2" stroke="#111" stroke-width="0.2">= 3.706e-20</tspan></text>
<text x="253.65" y="260.30" font-size="5.5" font-weight="bold" text-anchor="middle" fill="#111" stroke="#111" stroke-width="0.22">PRF1 (214617_at)</text>
<rect x="216.50" y="263.20" width="74.30" height="138.00" fill="none" stroke="#bababa" stroke-width="1"/>
<path d="M214.70 268.80H216.5M214.70 284.75H216.5M214.70 300.70H216.5M214.70 316.65H216.5M214.70 332.60H216.5M214.70 348.55H216.5M214.70 364.50H216.5M214.70 380.45H216.5M214.70 396.40H216.5" stroke="#777" stroke-width="0.6" fill="none"/>
<text transform="translate(213.20,268.80) rotate(-90)" font-size="3.0" font-weight="bold" text-anchor="middle" fill="#333" stroke="#333" stroke-width="0.15">16</text>
<text transform="translate(213.20,284.75) rotate(-90)" font-size="3.0" font-weight="bold" text-anchor="middle" fill="#333" stroke="#333" stroke-width="0.15">14</text>
<text transform="translate(213.20,300.70) rotate(-90)" font-size="3.0" font-weight="bold" text-anchor="middle" fill="#333" stroke="#333" stroke-width="0.15">12</text>
<text transform="translate(213.20,316.65) rotate(-90)" font-size="3.0" font-weight="bold" text-anchor="middle" fill="#333" stroke="#333" stroke-width="0.15">10</text>
<text transform="translate(213.20,332.60) rotate(-90)" font-size="3.0" font-weight="bold" text-anchor="middle" fill="#333" stroke="#333" stroke-width="0.15">8</text>
<text transform="translate(213.20,348.55) rotate(-90)" font-size="3.0" font-weight="bold" text-anchor="middle" fill="#333" stroke="#333" stroke-width="0.15">6</text>
<text transform="translate(213.20,364.50) rotate(-90)" font-size="3.0" font-weight="bold" text-anchor="middle" fill="#333" stroke="#333" stroke-width="0.15">4</text>
<text transform="translate(213.20,380.45) rotate(-90)" font-size="3.0" font-weight="bold" text-anchor="middle" fill="#333" stroke="#333" stroke-width="0.15">2</text>
<text transform="translate(213.20,396.40) rotate(-90)" font-size="3.0" font-weight="bold" text-anchor="middle" fill="#333" stroke="#333" stroke-width="0.15">0</text>
<text transform="translate(207.20,332.20) rotate(-90)" font-size="3.7" font-weight="bold" text-anchor="middle" fill="#111" stroke="#111" stroke-width="0.2">Expression values</text>
<path d="M224.98 293.10V309.80M224.98 331.50V344.40" stroke="#bcbcbc" stroke-width="0.55" fill="none"/>
<path d="M222.69 293.10H227.28M222.69 344.40H227.28" stroke="#bcbcbc" stroke-width="0.7" fill="none"/>
<rect x="220.40" y="309.80" width="9.17" height="21.70" fill="#c3c3c3" stroke="#9a9a9a" stroke-width="0.6"/>
<path d="M220.40 320.40H229.57" stroke="#3a3a3a" stroke-width="1.3" fill="none"/>
<text x="224.98" y="409.10" font-size="3.2" font-weight="bold" text-anchor="middle" fill="#111" stroke="#111" stroke-width="0.15">T-cell</text>
<path d="M236.45 298.30V321.00M236.45 341.20V349.80" stroke="#bcbcbc" stroke-width="0.55" fill="none"/>
<path d="M234.16 298.30H238.74M234.16 349.80H238.74" stroke="#bcbcbc" stroke-width="0.7" fill="none"/>
<rect x="231.86" y="321.00" width="9.17" height="20.20" fill="#c3c3c3" stroke="#9a9a9a" stroke-width="0.6"/>
<path d="M231.86 326.20H241.04" stroke="#3a3a3a" stroke-width="1.3" fill="none"/>
<text x="236.45" y="409.10" font-size="3.2" font-weight="bold" text-anchor="middle" fill="#111" stroke="#111" stroke-width="0.15">ATLL</text>
<path d="M247.92 305.60V319.00M247.92 331.50V344.40" stroke="#bcbcbc" stroke-width="0.55" fill="none"/>
<path d="M245.62 305.60H250.21M245.62 344.40H250.21" stroke="#bcbcbc" stroke-width="0.7" fill="none"/>
<rect x="243.33" y="319.00" width="9.17" height="12.50" fill="#c3c3c3" stroke="#9a9a9a" stroke-width="0.6"/>
<path d="M243.33 321.00H252.50" stroke="#3a3a3a" stroke-width="1.3" fill="none"/>
<text x="247.92" y="409.10" font-size="3.2" font-weight="bold" text-anchor="middle" fill="#111" stroke="#111" stroke-width="0.15">AILT</text>
<path d="M259.38 298.30V315.20M259.38 328.50V342.50" stroke="#bcbcbc" stroke-width="0.55" fill="none"/>
<path d="M257.09 298.30H261.68M257.09 342.50H261.68" stroke="#bcbcbc" stroke-width="0.7" fill="none"/>
<rect x="254.80" y="315.20" width="9.17" height="13.30" fill="#c3c3c3" stroke="#9a9a9a" stroke-width="0.6"/>
<path d="M254.80 322.30H263.97" stroke="#3a3a3a" stroke-width="1.3" fill="none"/>
<circle cx="259.38" cy="350.60" r="0.9" fill="#333"/>
<text x="259.38" y="405.60" font-size="3.2" font-weight="bold" text-anchor="middle" fill="#111" stroke="#111" stroke-width="0.15">PTCL</text>
<text x="259.38" y="409.10" font-size="3.2" font-weight="bold" text-anchor="middle" fill="#111" stroke="#111" stroke-width="0.15">NOS</text>
<path d="M270.85 285.80V288.10M270.85 295.40V300.20" stroke="#bcbcbc" stroke-width="0.55" fill="none"/>
<path d="M268.56 285.80H273.14M268.56 300.20H273.14" stroke="#bcbcbc" stroke-width="0.7" fill="none"/>
<rect x="266.26" y="288.10" width="9.17" height="7.30" fill="#c3c3c3" stroke="#9a9a9a" stroke-width="0.6"/>
<path d="M266.26 291.00H275.44" stroke="#3a3a3a" stroke-width="1.3" fill="none"/>
<circle cx="270.85" cy="309.40" r="0.8" fill="none" stroke="#999" stroke-width="0.5"/>
<circle cx="270.85" cy="315.60" r="0.8" fill="none" stroke="#999" stroke-width="0.5"/>
<text x="270.85" y="405.60" font-size="3.2" font-weight="bold" text-anchor="middle" fill="#111" stroke="#111" stroke-width="0.15">ALCL</text>
<text x="270.85" y="409.10" font-size="3.2" font-weight="bold" text-anchor="middle" fill="#111" stroke="#111" stroke-width="0.15">ALK+</text>
<path d="M282.32 291.90V301.20M282.32 327.10V341.20" stroke="#bcbcbc" stroke-width="0.55" fill="none"/>
<path d="M280.02 291.90H284.61M280.02 341.20H284.61" stroke="#bcbcbc" stroke-width="0.7" fill="none"/>
<rect x="277.73" y="301.20" width="9.17" height="25.90" fill="#c3c3c3" stroke="#9a9a9a" stroke-width="0.6"/>
<path d="M277.73 319.80H286.90" stroke="#3a3a3a" stroke-width="1.3" fill="none"/>
<text x="282.32" y="405.60" font-size="3.2" font-weight="bold" text-anchor="middle" fill="#111" stroke="#111" stroke-width="0.15">ALCL</text>
<text x="282.32" y="409.10" font-size="3.2" font-weight="bold" text-anchor="middle" fill="#111" stroke="#111" stroke-width="0.15">ALK-</text>
<text x="253.65" y="415.20" font-size="4.2" font-weight="bold" text-anchor="middle" fill="#111" stroke="#111" stroke-width="0.22">Samples</text>
<text x="222.50" y="391.90" fill="#111"><tspan font-size="6.4" font-style="italic" stroke="#111" stroke-width="0.2">P</tspan><tspan font-size="4.5" font-weight="bold" dx="1.2" stroke="#111" stroke-width="0.2">= 2.355e-10</tspan></text>
<text x="367.15" y="260.30" font-size="5.5" font-weight="bold" text-anchor="middle" fill="#111" stroke="#111" stroke-width="0.22">GZMB (210164_at)</text>
<rect x="330.00" y="263.20" width="74.30" height="138.00" fill="none" stroke="#bababa" stroke-width="1"/>
<path d="M328.20 268.80H330.0M328.20 284.75H330.0M328.20 300.70H330.0M328.20 316.65H330.0M328.20 332.60H330.0M328.20 348.55H330.0M328.20 364.50H330.0M328.20 380.45H330.0M328.20 396.40H330.0" stroke="#777" stroke-width="0.6" fill="none"/>
<text transform="translate(326.70,268.80) rotate(-90)" font-size="3.0" font-weight="bold" text-anchor="middle" fill="#333" stroke="#333" stroke-width="0.15">16</text>
<text transform="translate(326.70,284.75) rotate(-90)" font-size="3.0" font-weight="bold" text-anchor="middle" fill="#333" stroke="#333" stroke-width="0.15">14</text>
<text transform="translate(326.70,300.70) rotate(-90)" font-size="3.0" font-weight="bold" text-anchor="middle" fill="#333" stroke="#333" stroke-width="0.15">12</text>
<text transform="translate(326.70,316.65) rotate(-90)" font-size="3.0" font-weight="bold" text-anchor="middle" fill="#333" stroke="#333" stroke-width="0.15">10</text>
<text transform="translate(326.70,332.60) rotate(-90)" font-size="3.0" font-weight="bold" text-anchor="middle" fill="#333" stroke="#333" stroke-width="0.15">8</text>
<text transform="translate(326.70,348.55) rotate(-90)" font-size="3.0" font-weight="bold" text-anchor="middle" fill="#333" stroke="#333" stroke-width="0.15">6</text>
<text transform="translate(326.70,364.50) rotate(-90)" font-size="3.0" font-weight="bold" text-anchor="middle" fill="#333" stroke="#333" stroke-width="0.15">4</text>
<text transform="translate(326.70,380.45) rotate(-90)" font-size="3.0" font-weight="bold" text-anchor="middle" fill="#333" stroke="#333" stroke-width="0.15">2</text>
<text transform="translate(326.70,396.40) rotate(-90)" font-size="3.0" font-weight="bold" text-anchor="middle" fill="#333" stroke="#333" stroke-width="0.15">0</text>
<text transform="translate(320.70,332.20) rotate(-90)" font-size="3.7" font-weight="bold" text-anchor="middle" fill="#111" stroke="#111" stroke-width="0.2">Expression values</text>
<path d="M338.48 291.60V310.40M338.48 348.60V372.50" stroke="#bcbcbc" stroke-width="0.55" fill="none"/>
<path d="M336.19 291.60H340.78M336.19 372.50H340.78" stroke="#bcbcbc" stroke-width="0.7" fill="none"/>
<rect x="333.90" y="310.40" width="9.17" height="38.20" fill="#c3c3c3" stroke="#9a9a9a" stroke-width="0.6"/>
<path d="M333.90 328.90H343.07" stroke="#3a3a3a" stroke-width="1.3" fill="none"/>
<text x="338.48" y="409.10" font-size="3.2" font-weight="bold" text-anchor="middle" fill="#111" stroke="#111" stroke-width="0.15">T-cell</text>
<path d="M349.95 323.40V333.70M349.95 348.80V353.70" stroke="#bcbcbc" stroke-width="0.55" fill="none"/>
<path d="M347.66 323.40H352.24M347.66 353.70H352.24" stroke="#bcbcbc" stroke-width="0.7" fill="none"/>
<rect x="345.36" y="333.70" width="9.17" height="15.10" fill="#c3c3c3" stroke="#9a9a9a" stroke-width="0.6"/>
<path d="M345.36 344.00H354.54" stroke="#3a3a3a" stroke-width="1.3" fill="none"/>
<circle cx="349.95" cy="306.80" r="0.8" fill="none" stroke="#999" stroke-width="0.5"/>
<text x="349.95" y="409.10" font-size="3.2" font-weight="bold" text-anchor="middle" fill="#111" stroke="#111" stroke-width="0.15">ATLL</text>
<path d="M361.42 299.60V321.20M361.42 340.90V367.80" stroke="#bcbcbc" stroke-width="0.55" fill="none"/>
<path d="M359.12 299.60H363.71M359.12 367.80H363.71" stroke="#bcbcbc" stroke-width="0.7" fill="none"/>
<rect x="356.83" y="321.20" width="9.17" height="19.70" fill="#c3c3c3" stroke="#9a9a9a" stroke-width="0.6"/>
<path d="M356.83 327.00H366.00" stroke="#3a3a3a" stroke-width="1.3" fill="none"/>
<text x="361.42" y="409.10" font-size="3.2" font-weight="bold" text-anchor="middle" fill="#111" stroke="#111" stroke-width="0.15">AILT</text>
<path d="M372.88 291.20V316.90M372.88 333.70V355.30" stroke="#bcbcbc" stroke-width="0.55" fill="none"/>
<path d="M370.59 291.20H375.18M370.59 355.30H375.18" stroke="#bcbcbc" stroke-width="0.7" fill="none"/>
<rect x="368.30" y="316.90" width="9.17" height="16.80" fill="#c3c3c3" stroke="#9a9a9a" stroke-width="0.6"/>
<path d="M368.30 323.40H377.47" stroke="#3a3a3a" stroke-width="1.3" fill="none"/>
<circle cx="372.88" cy="359.40" r="0.8" fill="none" stroke="#999" stroke-width="0.5"/>
<text x="372.88" y="405.60" font-size="3.2" font-weight="bold" text-anchor="middle" fill="#111" stroke="#111" stroke-width="0.15">PTCL</text>
<text x="372.88" y="409.10" font-size="3.2" font-weight="bold" text-anchor="middle" fill="#111" stroke="#111" stroke-width="0.15">NOS</text>
<path d="M384.35 285.60V290.40M384.35 309.20V330.80" stroke="#bcbcbc" stroke-width="0.55" fill="none"/>
<path d="M382.06 285.60H386.64M382.06 330.80H386.64" stroke="#bcbcbc" stroke-width="0.7" fill="none"/>
<rect x="379.76" y="290.40" width="9.17" height="18.80" fill="#c3c3c3" stroke="#9a9a9a" stroke-width="0.6"/>
<path d="M379.76 297.20H388.94" stroke="#3a3a3a" stroke-width="1.3" fill="none"/>
<text x="384.35" y="405.60" font-size="3.2" font-weight="bold" text-anchor="middle" fill="#111" stroke="#111" stroke-width="0.15">ALCL</text>
<text x="384.35" y="409.10" font-size="3.2" font-weight="bold" text-anchor="middle" fill="#111" stroke="#111" stroke-width="0.15">ALK+</text>
<path d="M395.82 286.80V304.90M395.82 333.70V358.50" stroke="#bcbcbc" stroke-width="0.55" fill="none"/>
<path d="M393.52 286.80H398.11M393.52 358.50H398.11" stroke="#bcbcbc" stroke-width="0.7" fill="none"/>
<rect x="391.23" y="304.90" width="9.17" height="28.80" fill="#c3c3c3" stroke="#9a9a9a" stroke-width="0.6"/>
<path d="M391.23 321.20H400.40" stroke="#3a3a3a" stroke-width="1.3" fill="none"/>
<text x="395.82" y="405.60" font-size="3.2" font-weight="bold" text-anchor="middle" fill="#111" stroke="#111" stroke-width="0.15">ALCL</text>
<text x="395.82" y="409.10" font-size="3.2" font-weight="bold" text-anchor="middle" fill="#111" stroke="#111" stroke-width="0.15">ALK-</text>
<text x="367.15" y="415.20" font-size="4.2" font-weight="bold" text-anchor="middle" fill="#111" stroke="#111" stroke-width="0.22">Samples</text>
<text x="336.00" y="391.90" fill="#111"><tspan font-size="6.4" font-style="italic" stroke="#111" stroke-width="0.2">P</tspan><tspan font-size="4.5" font-weight="bold" dx="1.2" stroke="#111" stroke-width="0.2">= 3.126e-11</tspan></text>
<text x="480.65" y="260.30" font-size="5.5" font-weight="bold" text-anchor="middle" fill="#111" stroke="#111" stroke-width="0.22">MSC (209928_s_at)</text>
<rect x="443.50" y="263.20" width="74.30" height="138.00" fill="none" stroke="#bababa" stroke-width="1"/>
<path d="M441.70 268.80H443.5M441.70 284.75H443.5M441.70 300.70H443.5M441.70 316.65H443.5M441.70 332.60H443.5M441.70 348.55H443.5M441.70 364.50H443.5M441.70 380.45H443.5M441.70 396.40H443.5" stroke="#777" stroke-width="0.6" fill="none"/>
<text transform="translate(440.20,268.80) rotate(-90)" font-size="3.0" font-weight="bold" text-anchor="middle" fill="#333" stroke="#333" stroke-width="0.15">16</text>
<text transform="translate(440.20,284.75) rotate(-90)" font-size="3.0" font-weight="bold" text-anchor="middle" fill="#333" stroke="#333" stroke-width="0.15">14</text>
<text transform="translate(440.20,300.70) rotate(-90)" font-size="3.0" font-weight="bold" text-anchor="middle" fill="#333" stroke="#333" stroke-width="0.15">12</text>
<text transform="translate(440.20,316.65) rotate(-90)" font-size="3.0" font-weight="bold" text-anchor="middle" fill="#333" stroke="#333" stroke-width="0.15">10</text>
<text transform="translate(440.20,332.60) rotate(-90)" font-size="3.0" font-weight="bold" text-anchor="middle" fill="#333" stroke="#333" stroke-width="0.15">8</text>
<text transform="translate(440.20,348.55) rotate(-90)" font-size="3.0" font-weight="bold" text-anchor="middle" fill="#333" stroke="#333" stroke-width="0.15">6</text>
<text transform="translate(440.20,364.50) rotate(-90)" font-size="3.0" font-weight="bold" text-anchor="middle" fill="#333" stroke="#333" stroke-width="0.15">4</text>
<text transform="translate(440.20,380.45) rotate(-90)" font-size="3.0" font-weight="bold" text-anchor="middle" fill="#333" stroke="#333" stroke-width="0.15">2</text>
<text transform="translate(440.20,396.40) rotate(-90)" font-size="3.0" font-weight="bold" text-anchor="middle" fill="#333" stroke="#333" stroke-width="0.15">0</text>
<text transform="translate(434.20,332.20) rotate(-90)" font-size="3.7" font-weight="bold" text-anchor="middle" fill="#111" stroke="#111" stroke-width="0.2">Expression values</text>
<path d="M451.98 349.00V354.40M451.98 359.20V365.40" stroke="#bcbcbc" stroke-width="0.55" fill="none"/>
<path d="M449.69 349.00H454.28M449.69 365.40H454.28" stroke="#bcbcbc" stroke-width="0.7" fill="none"/>
<rect x="447.40" y="354.40" width="9.17" height="4.80" fill="#c3c3c3" stroke="#9a9a9a" stroke-width="0.6"/>
<path d="M447.40 356.70H456.57" stroke="#3a3a3a" stroke-width="1.3" fill="none"/>
<circle cx="451.98" cy="345.80" r="0.9" fill="#333"/>
<text x="451.98" y="409.10" font-size="3.2" font-weight="bold" text-anchor="middle" fill="#111" stroke="#111" stroke-width="0.15">T-cell</text>
<path d="M463.45 339.00V348.50M463.45 356.20V365.00" stroke="#bcbcbc" stroke-width="0.55" fill="none"/>
<path d="M461.16 339.00H465.74M461.16 365.00H465.74" stroke="#bcbcbc" stroke-width="0.7" fill="none"/>
<rect x="458.86" y="348.50" width="9.17" height="7.70" fill="#c3c3c3" stroke="#9a9a9a" stroke-width="0.6"/>
<path d="M458.86 351.90H468.04" stroke="#3a3a3a" stroke-width="1.3" fill="none"/>
<circle cx="463.45" cy="328.80" r="0.8" fill="none" stroke="#999" stroke-width="0.5"/>
<text x="463.45" y="409.10" font-size="3.2" font-weight="bold" text-anchor="middle" fill="#111" stroke="#111" stroke-width="0.15">ATLL</text>
<path d="M474.92 347.10V350.40M474.92 355.40V362.10" stroke="#bcbcbc" stroke-width="0.55" fill="none"/>
<path d="M472.62 347.10H477.21M472.62 362.10H477.21" stroke="#bcbcbc" stroke-width="0.7" fill="none"/>
<rect x="470.33" y="350.40" width="9.17" height="5.00" fill="#c3c3c3" stroke="#9a9a9a" stroke-width="0.6"/>
<path d="M470.33 351.50H479.50" stroke="#3a3a3a" stroke-width="1.3" fill="none"/>
<circle cx="474.92" cy="341.90" r="0.8" fill="none" stroke="#999" stroke-width="0.5"/>
<circle cx="474.92" cy="365.40" r="0.8" fill="none" stroke="#999" stroke-width="0.5"/>
<text x="474.92" y="409.10" font-size="3.2" font-weight="bold" text-anchor="middle" fill="#111" stroke="#111" stroke-width="0.15">AILT</text>
<path d="M486.38 339.00V350.40M486.38 358.70V367.30" stroke="#bcbcbc" stroke-width="0.55" fill="none"/>
<path d="M484.09 339.00H488.68M484.09 367.30H488.68" stroke="#bcbcbc" stroke-width="0.7" fill="none"/>
<rect x="481.80" y="350.40" width="9.17" height="8.30" fill="#c3c3c3" stroke="#9a9a9a" stroke-width="0.6"/>
<path d="M481.80 354.80H490.97" stroke="#3a3a3a" stroke-width="1.3" fill="none"/>
<circle cx="486.38" cy="326.90" r="0.8" fill="none" stroke="#999" stroke-width="0.5"/>
<circle cx="486.38" cy="323.70" r="0.8" fill="none" stroke="#999" stroke-width="0.5"/>
<text x="486.38" y="405.60" font-size="3.2" font-weight="bold" text-anchor="middle" fill="#111" stroke="#111" stroke-width="0.15">PTCL</text>
<text x="486.38" y="409.10" font-size="3.2" font-weight="bold" text-anchor="middle" fill="#111" stroke="#111" stroke-width="0.15">NOS</text>
<path d="M497.85 344.20V349.60M497.85 356.30V364.40" stroke="#bcbcbc" stroke-width="0.55" fill="none"/>
<path d="M495.56 344.20H500.14M495.56 364.40H500.14" stroke="#bcbcbc" stroke-width="0.7" fill="none"/>
<rect x="493.26" y="349.60" width="9.17" height="6.70" fill="#c3c3c3" stroke="#9a9a9a" stroke-width="0.6"/>
<path d="M493.26 352.50H502.44" stroke="#3a3a3a" stroke-width="1.3" fill="none"/>
<text x="497.85" y="405.60" font-size="3.2" font-weight="bold" text-anchor="middle" fill="#111" stroke="#111" stroke-width="0.15">ALCL</text>
<text x="497.85" y="409.10" font-size="3.2" font-weight="bold" text-anchor="middle" fill="#111" stroke="#111" stroke-width="0.15">ALK+</text>
<path d="M509.32 316.70V327.30M509.32 348.10V362.10" stroke="#bcbcbc" stroke-width="0.55" fill="none"/>
<path d="M507.02 316.70H511.61M507.02 362.10H511.61" stroke="#bcbcbc" stroke-width="0.7" fill="none"/>
<rect x="504.73" y="327.30" width="9.17" height="20.80" fill="#c3c3c3" stroke="#9a9a9a" stroke-width="0.6"/>
<path d="M504.73 341.90H513.90" stroke="#3a3a3a" stroke-width="1.3" fill="none"/>
<text x="509.32" y="405.60" font-size="3.2" font-weight="bold" text-anchor="middle" fill="#111" stroke="#111" stroke-width="0.15">ALCL</text>
<text x="509.32" y="409.10" font-size="3.2" font-weight="bold" text-anchor="middle" fill="#111" stroke="#111" stroke-width="0.15">ALK-</text>
<text x="480.65" y="415.20" font-size="4.2" font-weight="bold" text-anchor="middle" fill="#111" stroke="#111" stroke-width="0.22">Samples</text>
<text x="449.50" y="391.90" fill="#111"><tspan font-size="6.4" font-style="italic" stroke="#111" stroke-width="0.2">P</tspan><tspan font-size="4.5" font-weight="bold" dx="1.2" stroke="#111" stroke-width="0.2">= 3.087e-11</tspan></text>
</svg>
</body></html>
